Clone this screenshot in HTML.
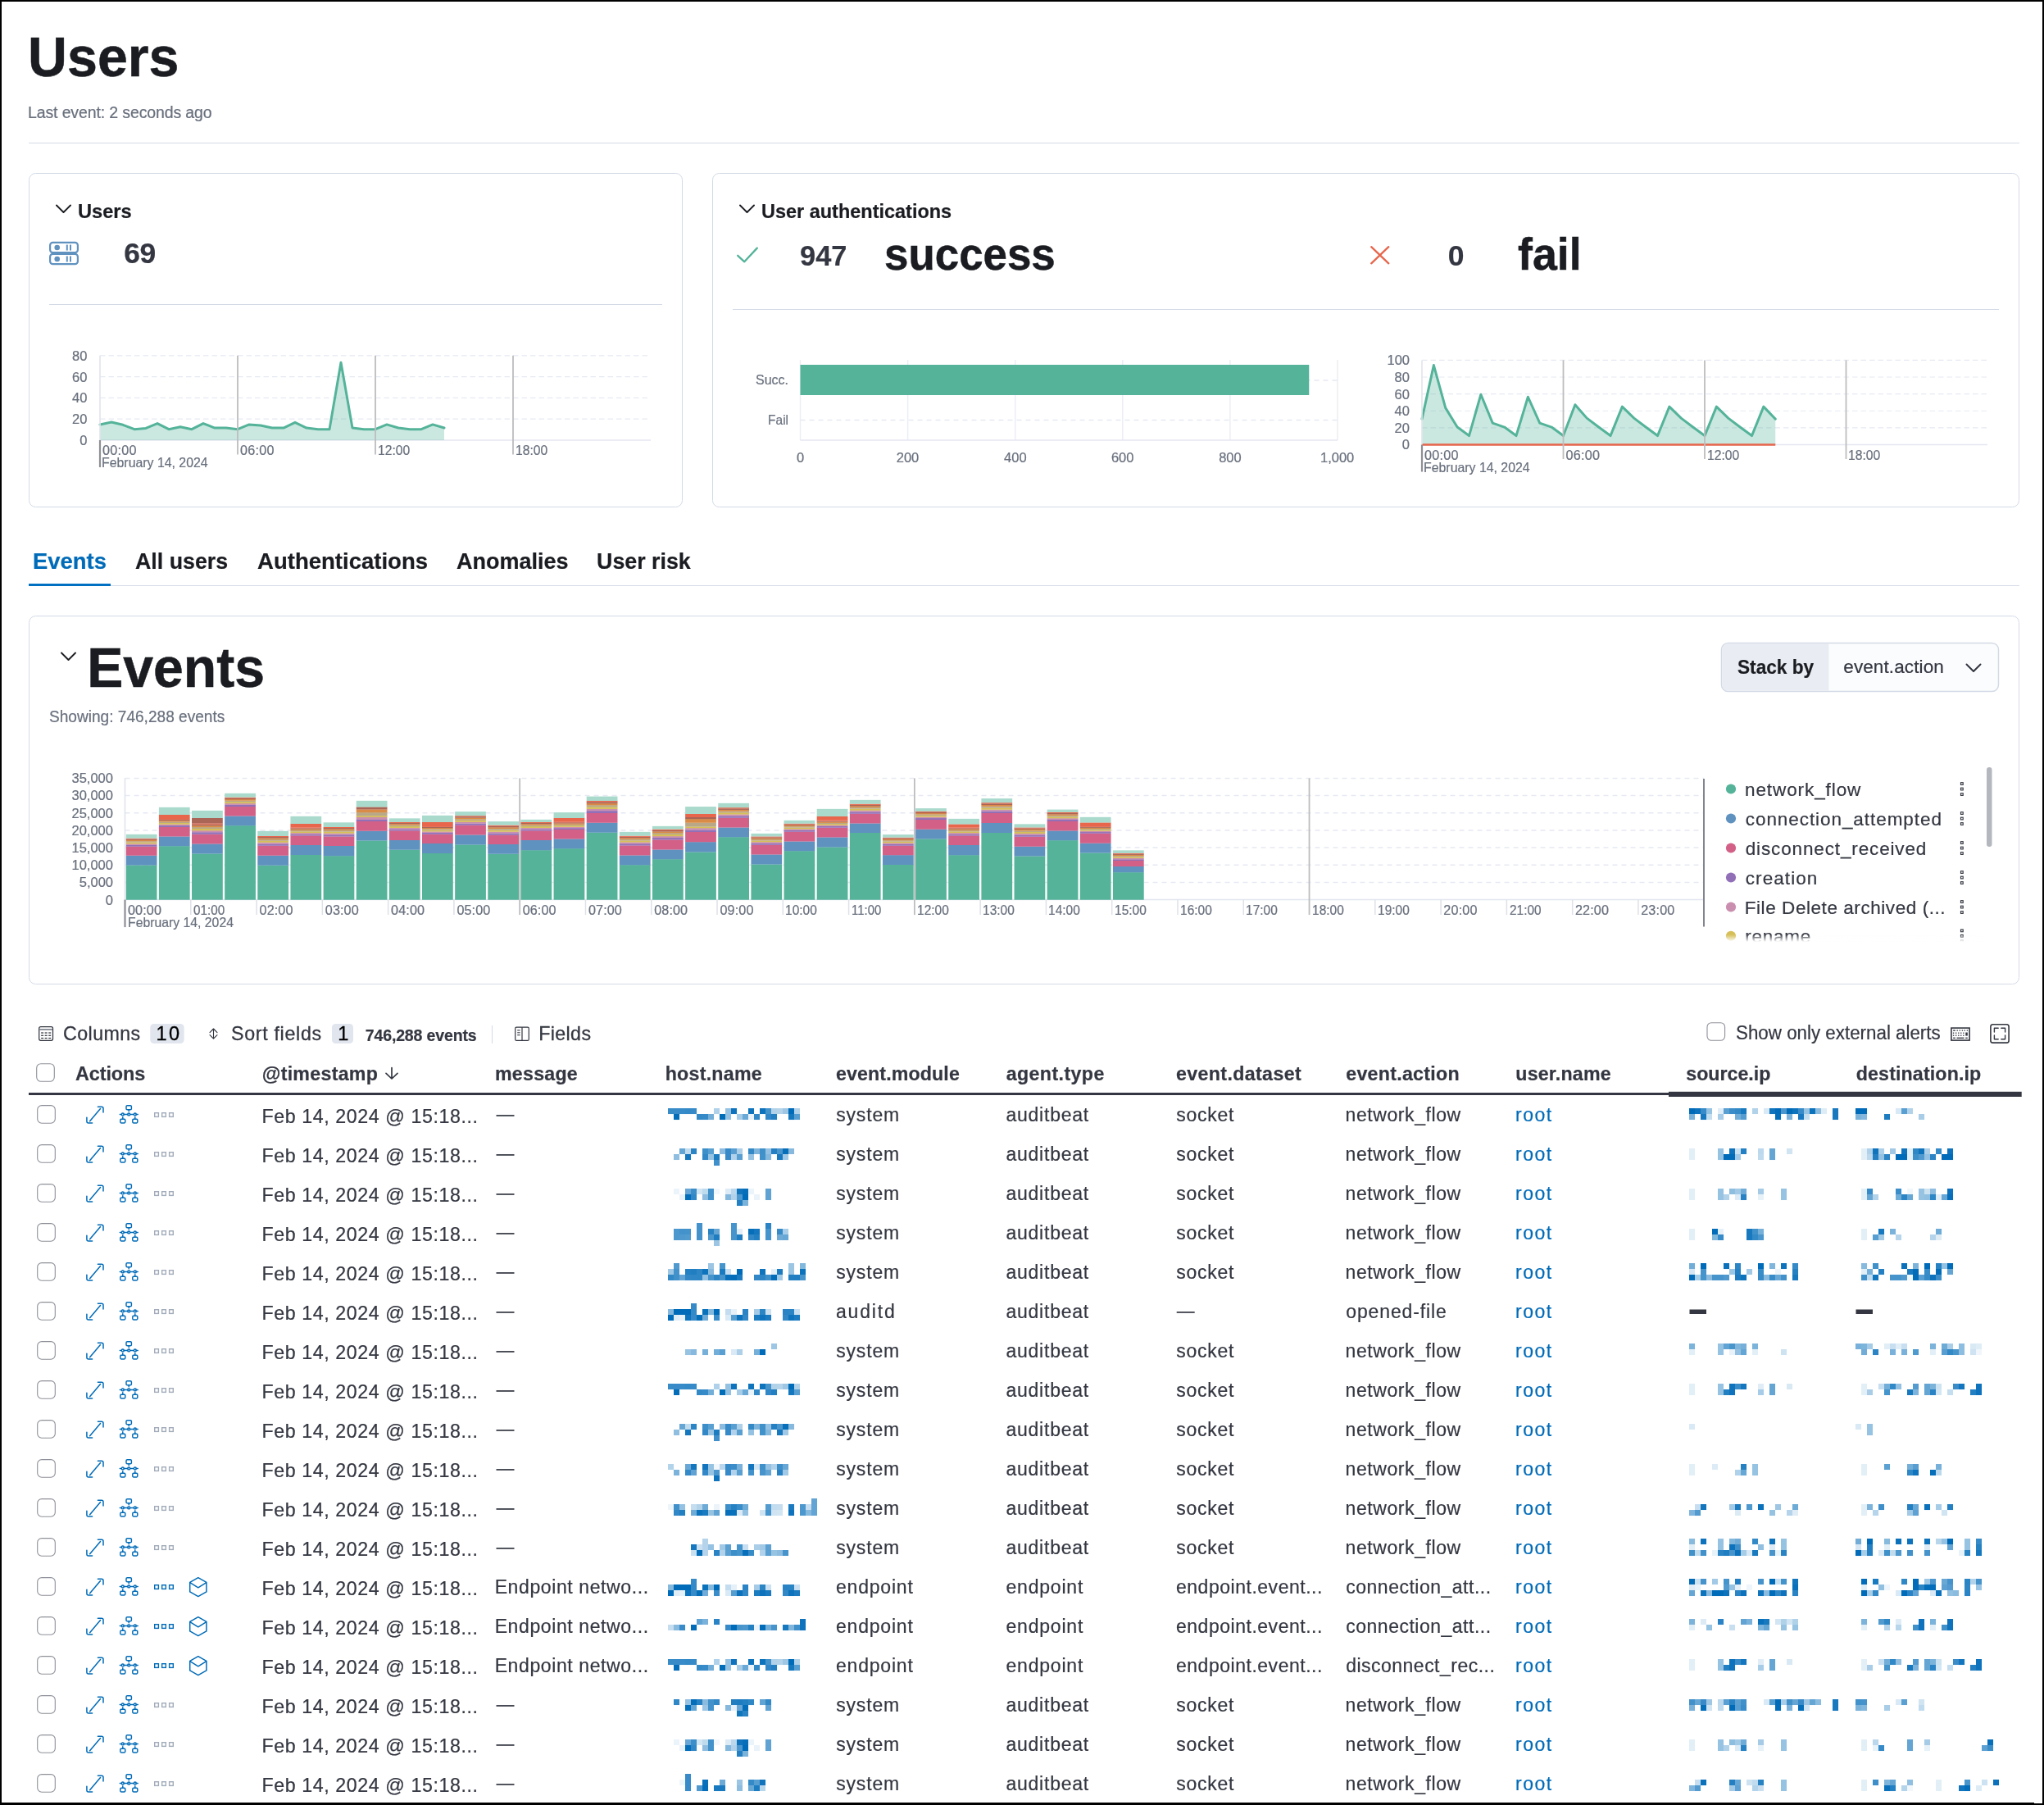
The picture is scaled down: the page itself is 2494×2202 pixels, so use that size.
<!DOCTYPE html>
<html lang="en"><head><meta charset="utf-8"><title>Users - Elastic Security</title>
<style>
html,body{margin:0;padding:0;background:#fff;}
body{width:2494px;height:2202px;overflow:hidden;position:relative;font-family:"Liberation Sans",Arial,sans-serif;}
#frame{position:absolute;left:0;top:0;width:2490px;height:2197px;border:2px solid #000;border-bottom-width:3px;z-index:5;pointer-events:none;}
#notch{position:absolute;left:2482px;top:2199px;width:10px;height:1px;background:#fff;z-index:6;}
.gfx{position:absolute;left:0;top:0;}
#txt{position:absolute;left:0;top:0;width:2494px;height:2202px;will-change:transform;}
.t{position:absolute;display:block;margin:0;padding:0;font-weight:400;text-decoration:none;white-space:nowrap;line-height:1;font-kerning:normal;-webkit-text-stroke:0.22px;}
</style></head><body>
<svg class="gfx" width="2494" height="2202" viewBox="0 0 2494 2202"><rect x="35.00" y="174.00" width="2429.00" height="1.00" fill="#d3dae6" />
<rect x="35.5" y="211.5" width="797.0" height="407.0" rx="8" fill="#fff" stroke="#d3dae6" stroke-width="1"/>
<path d="M69.0 250.5 L77.5 259.0 L86.0 250.5" stroke="#1a1c21" stroke-width="1.9" fill="none" stroke-linecap="round" stroke-linejoin="round"/>
<rect x="61.10" y="295.90" width="33.80" height="12.3" rx="3.4" fill="none" stroke="#6092c0" stroke-width="2.2"/>
<circle cx="69.70" cy="302.05" r="3.3" fill="#6092c0"/>
<rect x="80.80" y="298.55" width="2.00" height="7.00" fill="#6092c0" />
<rect x="85.00" y="298.55" width="2.00" height="7.00" fill="#6092c0" />
<rect x="61.10" y="309.80" width="33.80" height="12.3" rx="3.4" fill="none" stroke="#6092c0" stroke-width="2.2"/>
<circle cx="69.70" cy="315.95" r="3.3" fill="#6092c0"/>
<rect x="80.80" y="312.45" width="2.00" height="7.00" fill="#6092c0" />
<rect x="85.00" y="312.45" width="2.00" height="7.00" fill="#6092c0" />
<rect x="60.00" y="371.00" width="748.00" height="1.00" fill="#d3dae6" />
<line x1="122.00" y1="511.20" x2="794.00" y2="511.20" stroke="#e6e9f2" stroke-width="1.2" stroke-dasharray="6.5 4"/>
<line x1="122.00" y1="485.40" x2="794.00" y2="485.40" stroke="#e6e9f2" stroke-width="1.2" stroke-dasharray="6.5 4"/>
<line x1="122.00" y1="459.60" x2="794.00" y2="459.60" stroke="#e6e9f2" stroke-width="1.2" stroke-dasharray="6.5 4"/>
<line x1="122.00" y1="433.80" x2="794.00" y2="433.80" stroke="#e6e9f2" stroke-width="1.2" stroke-dasharray="6.5 4"/>
<line x1="122.00" y1="537.00" x2="794.00" y2="537.00" stroke="#e4e6f0" stroke-width="1.5" />
<path d="M122.00 517.91 L136.00 515.07 L150.00 518.29 L164.00 523.71 L178.00 522.42 L192.00 516.62 L206.00 523.71 L220.00 520.75 L234.00 523.71 L248.00 516.62 L262.00 522.04 L276.00 522.04 L290.00 523.71 L304.00 517.91 L318.00 519.07 L332.00 522.04 L346.00 522.04 L360.00 515.33 L374.00 522.04 L388.00 523.71 L402.00 523.71 L416.00 442.19 L430.00 522.04 L444.00 523.71 L458.00 523.71 L472.00 517.91 L486.00 522.04 L500.00 523.71 L514.00 523.71 L528.00 517.91 L542.00 522.04 L542.00 537 L122 537 Z" stroke="none" stroke-width="1" fill="#54b399" fill-opacity="0.3"/>
<path d="M122.00 517.91 L136.00 515.07 L150.00 518.29 L164.00 523.71 L178.00 522.42 L192.00 516.62 L206.00 523.71 L220.00 520.75 L234.00 523.71 L248.00 516.62 L262.00 522.04 L276.00 522.04 L290.00 523.71 L304.00 517.91 L318.00 519.07 L332.00 522.04 L346.00 522.04 L360.00 515.33 L374.00 522.04 L388.00 523.71 L402.00 523.71 L416.00 442.19 L430.00 522.04 L444.00 523.71 L458.00 523.71 L472.00 517.91 L486.00 522.04 L500.00 523.71 L514.00 523.71 L528.00 517.91 L542.00 522.04" stroke="#54b399" stroke-width="3.0" fill="none" stroke-linejoin="round" stroke-linecap="round"/>
<line x1="122.00" y1="433.80" x2="122.00" y2="537.00" stroke="#e1e4ec" stroke-width="1.6" />
<line x1="122.00" y1="537.00" x2="122.00" y2="570.00" stroke="#8d8f94" stroke-width="2.2" />
<line x1="290.00" y1="433.80" x2="290.00" y2="554.50" stroke="#bdbdbf" stroke-width="1.8" />
<line x1="458.00" y1="433.80" x2="458.00" y2="554.50" stroke="#bdbdbf" stroke-width="1.8" />
<line x1="626.00" y1="433.80" x2="626.00" y2="554.50" stroke="#bdbdbf" stroke-width="1.8" />
<rect x="869.5" y="211.5" width="1594.0" height="407.0" rx="8" fill="#fff" stroke="#d3dae6" stroke-width="1"/>
<path d="M903.0 250.5 L911.5 259.0 L920.0 250.5" stroke="#1a1c21" stroke-width="1.9" fill="none" stroke-linecap="round" stroke-linejoin="round"/>
<path d="M900.2 311.8 L908.3 319.3 L923.8 302.6" stroke="#54b399" stroke-width="2.3" fill="none" stroke-linecap="round" stroke-linejoin="round"/>
<path d="M1673.2 301.2 L1694.3 321.3 M1694.3 301.2 L1673.2 321.3" stroke="#e7664c" stroke-width="2.3" fill="none" stroke-linecap="round"/>
<rect x="894.00" y="377.00" width="1545.00" height="1.00" fill="#d3dae6" />
<line x1="976.50" y1="439.00" x2="976.50" y2="537.00" stroke="#eceef5" stroke-width="1.5" />
<line x1="1107.60" y1="439.00" x2="1107.60" y2="537.00" stroke="#eceef5" stroke-width="1.5" />
<line x1="1238.70" y1="439.00" x2="1238.70" y2="537.00" stroke="#eceef5" stroke-width="1.5" />
<line x1="1369.80" y1="439.00" x2="1369.80" y2="537.00" stroke="#eceef5" stroke-width="1.5" />
<line x1="1500.90" y1="439.00" x2="1500.90" y2="537.00" stroke="#eceef5" stroke-width="1.5" />
<line x1="1632.00" y1="439.00" x2="1632.00" y2="537.00" stroke="#eceef5" stroke-width="1.5" />
<line x1="976.50" y1="537.00" x2="1632.00" y2="537.00" stroke="#e4e6f0" stroke-width="1.5" />
<line x1="976.50" y1="464.00" x2="1632.00" y2="464.00" stroke="#e6e9f2" stroke-width="1.5" stroke-dasharray="6 5"/>
<line x1="976.50" y1="512.50" x2="1632.00" y2="512.50" stroke="#e6e9f2" stroke-width="1.5" stroke-dasharray="6 5"/>
<rect x="976.50" y="445.00" width="620.76" height="37.00" fill="#54b399" />
<line x1="1735.00" y1="521.88" x2="2425.00" y2="521.88" stroke="#e6e9f2" stroke-width="1.2" stroke-dasharray="6.5 4"/>
<line x1="1735.00" y1="501.26" x2="2425.00" y2="501.26" stroke="#e6e9f2" stroke-width="1.2" stroke-dasharray="6.5 4"/>
<line x1="1735.00" y1="480.64" x2="2425.00" y2="480.64" stroke="#e6e9f2" stroke-width="1.2" stroke-dasharray="6.5 4"/>
<line x1="1735.00" y1="460.02" x2="2425.00" y2="460.02" stroke="#e6e9f2" stroke-width="1.2" stroke-dasharray="6.5 4"/>
<line x1="1735.00" y1="439.40" x2="2425.00" y2="439.40" stroke="#e6e9f2" stroke-width="1.2" stroke-dasharray="6.5 4"/>
<line x1="1735.00" y1="542.50" x2="2425.00" y2="542.50" stroke="#e4e6f0" stroke-width="1.5" />
<path d="M1735.00 511.16 L1749.38 445.59 L1763.75 497.65 L1778.12 521.06 L1792.50 531.57 L1806.88 481.26 L1821.25 516.11 L1835.62 521.06 L1850.00 531.57 L1864.38 484.25 L1878.75 516.11 L1893.12 521.06 L1907.50 531.57 L1921.88 493.73 L1936.25 510.13 L1950.62 521.06 L1965.00 531.57 L1979.38 496.11 L1993.75 510.13 L2008.12 521.06 L2022.50 531.57 L2036.88 496.11 L2051.25 510.13 L2065.62 521.06 L2080.00 531.57 L2094.38 496.11 L2108.75 510.13 L2123.12 521.06 L2137.50 531.57 L2151.88 496.11 L2166.25 511.16 L2166.25 542.5 L1735 542.5 Z" stroke="none" stroke-width="1" fill="#54b399" fill-opacity="0.3"/>
<path d="M1735.00 511.16 L1749.38 445.59 L1763.75 497.65 L1778.12 521.06 L1792.50 531.57 L1806.88 481.26 L1821.25 516.11 L1835.62 521.06 L1850.00 531.57 L1864.38 484.25 L1878.75 516.11 L1893.12 521.06 L1907.50 531.57 L1921.88 493.73 L1936.25 510.13 L1950.62 521.06 L1965.00 531.57 L1979.38 496.11 L1993.75 510.13 L2008.12 521.06 L2022.50 531.57 L2036.88 496.11 L2051.25 510.13 L2065.62 521.06 L2080.00 531.57 L2094.38 496.11 L2108.75 510.13 L2123.12 521.06 L2137.50 531.57 L2151.88 496.11 L2166.25 511.16" stroke="#54b399" stroke-width="3.0" fill="none" stroke-linejoin="round" stroke-linecap="round"/>
<line x1="1735.00" y1="542.50" x2="2166.25" y2="542.50" stroke="#e7664c" stroke-width="2.6" />
<line x1="1735.00" y1="439.40" x2="1735.00" y2="542.50" stroke="#e1e4ec" stroke-width="1.6" />
<line x1="1735.00" y1="542.50" x2="1735.00" y2="575.50" stroke="#8d8f94" stroke-width="2.2" />
<line x1="1907.50" y1="439.40" x2="1907.50" y2="560.00" stroke="#bdbdbf" stroke-width="1.8" />
<line x1="2080.00" y1="439.40" x2="2080.00" y2="560.00" stroke="#bdbdbf" stroke-width="1.8" />
<line x1="2252.50" y1="439.40" x2="2252.50" y2="560.00" stroke="#bdbdbf" stroke-width="1.8" />
<rect x="35.00" y="714.00" width="2429.00" height="1.00" fill="#d3dae6" />
<rect x="35.00" y="712.00" width="100.00" height="3.00" fill="#0071c2" />
<rect x="35.5" y="751.5" width="2428.0" height="449.0" rx="8" fill="#fff" stroke="#d3dae6" stroke-width="1"/>
<path d="M75.0 796.5 L83.5 805.0 L92.0 796.5" stroke="#1a1c21" stroke-width="1.9" fill="none" stroke-linecap="round" stroke-linejoin="round"/>
<rect x="2100.5" y="784.5" width="338" height="59" rx="8" fill="#fbfcfd" stroke="#d3dae6" stroke-width="1.5"/>
<path d="M2108.5 785.2 H2231.5 V842.8 H2108.5 A7.3 7.3 0 0 1 2101.2 835.5 V792.5 A7.3 7.3 0 0 1 2108.5 785.2 Z" fill="#e9edf3"/>
<path d="M2399.5 810.5 L2408.0 819.0 L2416.5 810.5" stroke="#343741" stroke-width="2.0" fill="none" stroke-linecap="round" stroke-linejoin="round"/>
<line x1="152.50" y1="1076.43" x2="2079.00" y2="1076.43" stroke="#e6e9f2" stroke-width="1.5" stroke-dasharray="6 5"/>
<line x1="152.50" y1="1055.26" x2="2079.00" y2="1055.26" stroke="#e6e9f2" stroke-width="1.5" stroke-dasharray="6 5"/>
<line x1="152.50" y1="1034.09" x2="2079.00" y2="1034.09" stroke="#e6e9f2" stroke-width="1.5" stroke-dasharray="6 5"/>
<line x1="152.50" y1="1012.91" x2="2079.00" y2="1012.91" stroke="#e6e9f2" stroke-width="1.5" stroke-dasharray="6 5"/>
<line x1="152.50" y1="991.74" x2="2079.00" y2="991.74" stroke="#e6e9f2" stroke-width="1.5" stroke-dasharray="6 5"/>
<line x1="152.50" y1="970.57" x2="2079.00" y2="970.57" stroke="#e6e9f2" stroke-width="1.5" stroke-dasharray="6 5"/>
<line x1="152.50" y1="949.40" x2="2079.00" y2="949.40" stroke="#e6e9f2" stroke-width="1.5" stroke-dasharray="6 5"/>
<line x1="152.50" y1="1097.60" x2="2079.00" y2="1097.60" stroke="#e4e6f0" stroke-width="1.5" />
<rect x="153.75" y="1055.35" width="37.75" height="42.40" fill="#54b399" />
<rect x="153.75" y="1043.60" width="37.75" height="11.90" fill="#6092c0" />
<rect x="153.75" y="1032.60" width="37.75" height="11.15" fill="#d36086" />
<rect x="153.75" y="1030.75" width="37.75" height="2.00" fill="#9170b8" />
<rect x="153.75" y="1029.22" width="37.75" height="1.69" fill="#ca8eae" />
<rect x="153.75" y="1027.52" width="37.75" height="1.84" fill="#d6bf57" />
<rect x="153.75" y="1026.14" width="37.75" height="1.53" fill="#b9a888" />
<rect x="153.75" y="1024.75" width="37.75" height="1.53" fill="#da8b45" />
<rect x="153.75" y="1023.52" width="37.75" height="1.38" fill="#aa6556" />
<rect x="153.75" y="1022.60" width="37.75" height="1.07" fill="#e7664c" />
<rect x="153.75" y="1017.85" width="37.75" height="4.90" fill="#a9dacc" />
<rect x="193.89" y="1032.10" width="37.75" height="65.65" fill="#54b399" />
<rect x="193.89" y="1020.35" width="37.75" height="11.90" fill="#6092c0" />
<rect x="193.89" y="1008.85" width="37.75" height="11.65" fill="#d36086" />
<rect x="193.89" y="1007.05" width="37.75" height="1.95" fill="#9170b8" />
<rect x="193.89" y="1005.55" width="37.75" height="1.65" fill="#ca8eae" />
<rect x="193.89" y="1003.90" width="37.75" height="1.80" fill="#d6bf57" />
<rect x="193.89" y="1002.55" width="37.75" height="1.50" fill="#b9a888" />
<rect x="193.89" y="1001.20" width="37.75" height="1.50" fill="#da8b45" />
<rect x="193.89" y="1000.00" width="37.75" height="1.35" fill="#aa6556" />
<rect x="193.89" y="999.10" width="37.75" height="1.05" fill="#e7664c" />
<rect x="193.89" y="993.85" width="37.75" height="5.40" fill="#e7664c" />
<rect x="193.89" y="984.85" width="37.75" height="9.15" fill="#a9dacc" />
<rect x="234.03" y="1041.35" width="37.75" height="56.40" fill="#54b399" />
<rect x="234.03" y="1029.35" width="37.75" height="12.15" fill="#6092c0" />
<rect x="234.03" y="1017.60" width="37.75" height="11.90" fill="#d36086" />
<rect x="234.03" y="1015.15" width="37.75" height="2.60" fill="#9170b8" />
<rect x="234.03" y="1013.12" width="37.75" height="2.19" fill="#ca8eae" />
<rect x="234.03" y="1010.87" width="37.75" height="2.39" fill="#d6bf57" />
<rect x="234.03" y="1009.04" width="37.75" height="1.98" fill="#b9a888" />
<rect x="234.03" y="1007.20" width="37.75" height="1.98" fill="#da8b45" />
<rect x="234.03" y="1005.57" width="37.75" height="1.78" fill="#aa6556" />
<rect x="234.03" y="1004.35" width="37.75" height="1.37" fill="#e7664c" />
<rect x="234.03" y="997.85" width="37.75" height="6.65" fill="#aa6556" />
<rect x="234.03" y="988.85" width="37.75" height="9.15" fill="#a9dacc" />
<rect x="274.17" y="1007.10" width="37.75" height="90.65" fill="#54b399" />
<rect x="274.17" y="995.35" width="37.75" height="11.90" fill="#6092c0" />
<rect x="274.17" y="983.85" width="37.75" height="11.65" fill="#d36086" />
<rect x="274.17" y="981.77" width="37.75" height="2.23" fill="#9170b8" />
<rect x="274.17" y="980.04" width="37.75" height="1.88" fill="#ca8eae" />
<rect x="274.17" y="978.14" width="37.75" height="2.05" fill="#d6bf57" />
<rect x="274.17" y="976.58" width="37.75" height="1.71" fill="#b9a888" />
<rect x="274.17" y="975.02" width="37.75" height="1.71" fill="#da8b45" />
<rect x="274.17" y="973.64" width="37.75" height="1.53" fill="#aa6556" />
<rect x="274.17" y="972.60" width="37.75" height="1.19" fill="#e7664c" />
<rect x="274.17" y="967.85" width="37.75" height="4.90" fill="#a9dacc" />
<rect x="314.31" y="1055.60" width="37.75" height="42.15" fill="#54b399" />
<rect x="314.31" y="1043.60" width="37.75" height="12.15" fill="#6092c0" />
<rect x="314.31" y="1031.60" width="37.75" height="12.15" fill="#d36086" />
<rect x="314.31" y="1029.43" width="37.75" height="2.32" fill="#9170b8" />
<rect x="314.31" y="1027.62" width="37.75" height="1.96" fill="#ca8eae" />
<rect x="314.31" y="1025.63" width="37.75" height="2.14" fill="#d6bf57" />
<rect x="314.31" y="1024.01" width="37.75" height="1.78" fill="#b9a888" />
<rect x="314.31" y="1022.38" width="37.75" height="1.78" fill="#da8b45" />
<rect x="314.31" y="1020.93" width="37.75" height="1.60" fill="#aa6556" />
<rect x="314.31" y="1019.85" width="37.75" height="1.23" fill="#e7664c" />
<rect x="314.31" y="1013.85" width="37.75" height="6.15" fill="#a9dacc" />
<rect x="354.45" y="1042.85" width="37.75" height="54.90" fill="#54b399" />
<rect x="354.45" y="1030.85" width="37.75" height="12.15" fill="#6092c0" />
<rect x="354.45" y="1019.35" width="37.75" height="11.65" fill="#d36086" />
<rect x="354.45" y="1017.50" width="37.75" height="2.00" fill="#9170b8" />
<rect x="354.45" y="1015.97" width="37.75" height="1.69" fill="#ca8eae" />
<rect x="354.45" y="1014.27" width="37.75" height="1.84" fill="#d6bf57" />
<rect x="354.45" y="1012.89" width="37.75" height="1.53" fill="#b9a888" />
<rect x="354.45" y="1011.50" width="37.75" height="1.53" fill="#da8b45" />
<rect x="354.45" y="1010.27" width="37.75" height="1.38" fill="#aa6556" />
<rect x="354.45" y="1009.35" width="37.75" height="1.07" fill="#e7664c" />
<rect x="354.45" y="1004.85" width="37.75" height="4.65" fill="#e7664c" />
<rect x="354.45" y="995.85" width="37.75" height="9.15" fill="#a9dacc" />
<rect x="394.59" y="1044.10" width="37.75" height="53.65" fill="#54b399" />
<rect x="394.59" y="1031.85" width="37.75" height="12.40" fill="#6092c0" />
<rect x="394.59" y="1020.35" width="37.75" height="11.65" fill="#d36086" />
<rect x="394.59" y="1018.23" width="37.75" height="2.27" fill="#9170b8" />
<rect x="394.59" y="1016.46" width="37.75" height="1.92" fill="#ca8eae" />
<rect x="394.59" y="1014.51" width="37.75" height="2.10" fill="#d6bf57" />
<rect x="394.59" y="1012.92" width="37.75" height="1.74" fill="#b9a888" />
<rect x="394.59" y="1011.33" width="37.75" height="1.74" fill="#da8b45" />
<rect x="394.59" y="1009.91" width="37.75" height="1.57" fill="#aa6556" />
<rect x="394.59" y="1008.85" width="37.75" height="1.21" fill="#e7664c" />
<rect x="394.59" y="1003.35" width="37.75" height="5.65" fill="#a9dacc" />
<rect x="434.73" y="1025.35" width="37.75" height="72.40" fill="#54b399" />
<rect x="434.73" y="1013.60" width="37.75" height="11.90" fill="#6092c0" />
<rect x="434.73" y="1001.85" width="37.75" height="11.90" fill="#d36086" />
<rect x="434.73" y="999.85" width="37.75" height="2.15" fill="#9170b8" />
<rect x="434.73" y="996.85" width="37.75" height="3.15" fill="#ca8eae" />
<rect x="434.73" y="995.10" width="37.75" height="1.90" fill="#d6bf57" />
<rect x="434.73" y="991.10" width="37.75" height="4.15" fill="#b9a888" />
<rect x="434.73" y="987.35" width="37.75" height="3.90" fill="#da8b45" />
<rect x="434.73" y="984.35" width="37.75" height="3.15" fill="#aa6556" />
<rect x="434.73" y="976.85" width="37.75" height="7.65" fill="#a9dacc" />
<rect x="474.87" y="1036.60" width="37.75" height="61.15" fill="#54b399" />
<rect x="474.87" y="1024.85" width="37.75" height="11.90" fill="#6092c0" />
<rect x="474.87" y="1013.35" width="37.75" height="11.65" fill="#d36086" />
<rect x="474.87" y="1011.41" width="37.75" height="2.09" fill="#9170b8" />
<rect x="474.87" y="1009.80" width="37.75" height="1.77" fill="#ca8eae" />
<rect x="474.87" y="1008.02" width="37.75" height="1.93" fill="#d6bf57" />
<rect x="474.87" y="1006.57" width="37.75" height="1.60" fill="#b9a888" />
<rect x="474.87" y="1005.11" width="37.75" height="1.60" fill="#da8b45" />
<rect x="474.87" y="1003.82" width="37.75" height="1.44" fill="#aa6556" />
<rect x="474.87" y="1002.85" width="37.75" height="1.12" fill="#e7664c" />
<rect x="474.87" y="998.35" width="37.75" height="4.65" fill="#a9dacc" />
<rect x="515.01" y="1040.85" width="37.75" height="56.90" fill="#54b399" />
<rect x="515.01" y="1028.85" width="37.75" height="12.15" fill="#6092c0" />
<rect x="515.01" y="1017.60" width="37.75" height="11.40" fill="#d36086" />
<rect x="515.01" y="1015.80" width="37.75" height="1.95" fill="#9170b8" />
<rect x="515.01" y="1014.30" width="37.75" height="1.65" fill="#ca8eae" />
<rect x="515.01" y="1012.65" width="37.75" height="1.80" fill="#d6bf57" />
<rect x="515.01" y="1011.30" width="37.75" height="1.50" fill="#b9a888" />
<rect x="515.01" y="1009.95" width="37.75" height="1.50" fill="#da8b45" />
<rect x="515.01" y="1008.75" width="37.75" height="1.35" fill="#aa6556" />
<rect x="515.01" y="1007.85" width="37.75" height="1.05" fill="#e7664c" />
<rect x="515.01" y="1002.85" width="37.75" height="5.15" fill="#e7664c" />
<rect x="515.01" y="994.85" width="37.75" height="8.15" fill="#a9dacc" />
<rect x="555.15" y="1030.35" width="37.75" height="67.40" fill="#54b399" />
<rect x="555.15" y="1018.35" width="37.75" height="12.15" fill="#6092c0" />
<rect x="555.15" y="1006.60" width="37.75" height="11.90" fill="#d36086" />
<rect x="555.15" y="1004.48" width="37.75" height="2.27" fill="#9170b8" />
<rect x="555.15" y="1002.71" width="37.75" height="1.92" fill="#ca8eae" />
<rect x="555.15" y="1000.76" width="37.75" height="2.10" fill="#d6bf57" />
<rect x="555.15" y="999.17" width="37.75" height="1.74" fill="#b9a888" />
<rect x="555.15" y="997.58" width="37.75" height="1.74" fill="#da8b45" />
<rect x="555.15" y="996.16" width="37.75" height="1.57" fill="#aa6556" />
<rect x="555.15" y="995.10" width="37.75" height="1.21" fill="#e7664c" />
<rect x="555.15" y="990.10" width="37.75" height="5.15" fill="#a9dacc" />
<rect x="595.29" y="1041.60" width="37.75" height="56.15" fill="#54b399" />
<rect x="595.29" y="1029.85" width="37.75" height="11.90" fill="#6092c0" />
<rect x="595.29" y="1018.60" width="37.75" height="11.40" fill="#d36086" />
<rect x="595.29" y="1016.38" width="37.75" height="2.37" fill="#9170b8" />
<rect x="595.29" y="1014.54" width="37.75" height="2.00" fill="#ca8eae" />
<rect x="595.29" y="1012.51" width="37.75" height="2.18" fill="#d6bf57" />
<rect x="595.29" y="1010.85" width="37.75" height="1.81" fill="#b9a888" />
<rect x="595.29" y="1009.18" width="37.75" height="1.81" fill="#da8b45" />
<rect x="595.29" y="1007.71" width="37.75" height="1.63" fill="#aa6556" />
<rect x="595.29" y="1006.60" width="37.75" height="1.26" fill="#e7664c" />
<rect x="595.29" y="1002.10" width="37.75" height="4.65" fill="#a9dacc" />
<rect x="635.43" y="1037.10" width="37.75" height="60.65" fill="#54b399" />
<rect x="635.43" y="1024.85" width="37.75" height="12.40" fill="#6092c0" />
<rect x="635.43" y="1013.35" width="37.75" height="11.65" fill="#d36086" />
<rect x="635.43" y="1011.41" width="37.75" height="2.09" fill="#9170b8" />
<rect x="635.43" y="1009.80" width="37.75" height="1.77" fill="#ca8eae" />
<rect x="635.43" y="1008.02" width="37.75" height="1.93" fill="#d6bf57" />
<rect x="635.43" y="1006.57" width="37.75" height="1.60" fill="#b9a888" />
<rect x="635.43" y="1005.11" width="37.75" height="1.60" fill="#da8b45" />
<rect x="635.43" y="1003.82" width="37.75" height="1.44" fill="#aa6556" />
<rect x="635.43" y="1002.85" width="37.75" height="1.12" fill="#e7664c" />
<rect x="635.43" y="999.85" width="37.75" height="3.15" fill="#a9dacc" />
<rect x="675.57" y="1035.10" width="37.75" height="62.65" fill="#54b399" />
<rect x="675.57" y="1023.35" width="37.75" height="11.90" fill="#6092c0" />
<rect x="675.57" y="1011.85" width="37.75" height="11.65" fill="#d36086" />
<rect x="675.57" y="1010.10" width="37.75" height="1.90" fill="#9170b8" />
<rect x="675.57" y="1008.63" width="37.75" height="1.61" fill="#ca8eae" />
<rect x="675.57" y="1007.03" width="37.75" height="1.76" fill="#d6bf57" />
<rect x="675.57" y="1005.71" width="37.75" height="1.47" fill="#b9a888" />
<rect x="675.57" y="1004.40" width="37.75" height="1.47" fill="#da8b45" />
<rect x="675.57" y="1003.23" width="37.75" height="1.32" fill="#aa6556" />
<rect x="675.57" y="1002.35" width="37.75" height="1.03" fill="#e7664c" />
<rect x="675.57" y="997.85" width="37.75" height="4.65" fill="#e7664c" />
<rect x="675.57" y="991.10" width="37.75" height="6.90" fill="#a9dacc" />
<rect x="715.71" y="1015.60" width="37.75" height="82.15" fill="#54b399" />
<rect x="715.71" y="1003.60" width="37.75" height="12.15" fill="#6092c0" />
<rect x="715.71" y="991.85" width="37.75" height="11.90" fill="#d36086" />
<rect x="715.71" y="989.08" width="37.75" height="2.92" fill="#9170b8" />
<rect x="715.71" y="986.77" width="37.75" height="2.46" fill="#ca8eae" />
<rect x="715.71" y="984.23" width="37.75" height="2.69" fill="#d6bf57" />
<rect x="715.71" y="982.16" width="37.75" height="2.23" fill="#b9a888" />
<rect x="715.71" y="980.08" width="37.75" height="2.23" fill="#da8b45" />
<rect x="715.71" y="978.23" width="37.75" height="2.00" fill="#aa6556" />
<rect x="715.71" y="976.85" width="37.75" height="1.53" fill="#e7664c" />
<rect x="715.71" y="971.60" width="37.75" height="5.40" fill="#a9dacc" />
<rect x="755.85" y="1055.10" width="37.75" height="42.65" fill="#54b399" />
<rect x="755.85" y="1043.35" width="37.75" height="11.90" fill="#6092c0" />
<rect x="755.85" y="1031.35" width="37.75" height="12.15" fill="#d36086" />
<rect x="755.85" y="1029.18" width="37.75" height="2.32" fill="#9170b8" />
<rect x="755.85" y="1027.37" width="37.75" height="1.96" fill="#ca8eae" />
<rect x="755.85" y="1025.38" width="37.75" height="2.14" fill="#d6bf57" />
<rect x="755.85" y="1023.76" width="37.75" height="1.78" fill="#b9a888" />
<rect x="755.85" y="1022.13" width="37.75" height="1.78" fill="#da8b45" />
<rect x="755.85" y="1020.68" width="37.75" height="1.60" fill="#aa6556" />
<rect x="755.85" y="1019.60" width="37.75" height="1.23" fill="#e7664c" />
<rect x="755.85" y="1014.85" width="37.75" height="4.90" fill="#a9dacc" />
<rect x="795.99" y="1048.10" width="37.75" height="49.65" fill="#54b399" />
<rect x="795.99" y="1036.35" width="37.75" height="11.90" fill="#6092c0" />
<rect x="795.99" y="1024.35" width="37.75" height="12.15" fill="#d36086" />
<rect x="795.99" y="1022.00" width="37.75" height="2.50" fill="#9170b8" />
<rect x="795.99" y="1020.03" width="37.75" height="2.11" fill="#ca8eae" />
<rect x="795.99" y="1017.88" width="37.75" height="2.31" fill="#d6bf57" />
<rect x="795.99" y="1016.11" width="37.75" height="1.92" fill="#b9a888" />
<rect x="795.99" y="1014.35" width="37.75" height="1.92" fill="#da8b45" />
<rect x="795.99" y="1012.78" width="37.75" height="1.72" fill="#aa6556" />
<rect x="795.99" y="1011.60" width="37.75" height="1.33" fill="#e7664c" />
<rect x="795.99" y="1007.85" width="37.75" height="3.90" fill="#a9dacc" />
<rect x="836.13" y="1039.35" width="37.75" height="58.40" fill="#54b399" />
<rect x="836.13" y="1027.10" width="37.75" height="12.40" fill="#6092c0" />
<rect x="836.13" y="1014.85" width="37.75" height="12.40" fill="#d36086" />
<rect x="836.13" y="1012.35" width="37.75" height="2.65" fill="#9170b8" />
<rect x="836.13" y="1010.10" width="37.75" height="2.40" fill="#ca8eae" />
<rect x="836.13" y="1008.35" width="37.75" height="1.90" fill="#d6bf57" />
<rect x="836.13" y="1003.60" width="37.75" height="4.90" fill="#b9a888" />
<rect x="836.13" y="999.10" width="37.75" height="4.65" fill="#da8b45" />
<rect x="836.13" y="996.85" width="37.75" height="2.40" fill="#aa6556" />
<rect x="836.13" y="992.85" width="37.75" height="4.15" fill="#e7664c" />
<rect x="836.13" y="984.10" width="37.75" height="8.90" fill="#a9dacc" />
<rect x="876.27" y="1021.10" width="37.75" height="76.65" fill="#54b399" />
<rect x="876.27" y="1009.35" width="37.75" height="11.90" fill="#6092c0" />
<rect x="876.27" y="997.60" width="37.75" height="11.90" fill="#d36086" />
<rect x="876.27" y="995.29" width="37.75" height="2.46" fill="#9170b8" />
<rect x="876.27" y="993.37" width="37.75" height="2.07" fill="#ca8eae" />
<rect x="876.27" y="991.25" width="37.75" height="2.27" fill="#d6bf57" />
<rect x="876.27" y="989.52" width="37.75" height="1.88" fill="#b9a888" />
<rect x="876.27" y="987.79" width="37.75" height="1.88" fill="#da8b45" />
<rect x="876.27" y="986.25" width="37.75" height="1.69" fill="#aa6556" />
<rect x="876.27" y="985.10" width="37.75" height="1.30" fill="#e7664c" />
<rect x="876.27" y="979.85" width="37.75" height="5.40" fill="#a9dacc" />
<rect x="916.41" y="1054.35" width="37.75" height="43.40" fill="#54b399" />
<rect x="916.41" y="1042.35" width="37.75" height="12.15" fill="#6092c0" />
<rect x="916.41" y="1030.60" width="37.75" height="11.90" fill="#d36086" />
<rect x="916.41" y="1028.71" width="37.75" height="2.04" fill="#9170b8" />
<rect x="916.41" y="1027.13" width="37.75" height="1.73" fill="#ca8eae" />
<rect x="916.41" y="1025.40" width="37.75" height="1.88" fill="#d6bf57" />
<rect x="916.41" y="1023.98" width="37.75" height="1.57" fill="#b9a888" />
<rect x="916.41" y="1022.56" width="37.75" height="1.57" fill="#da8b45" />
<rect x="916.41" y="1021.30" width="37.75" height="1.41" fill="#aa6556" />
<rect x="916.41" y="1020.35" width="37.75" height="1.10" fill="#e7664c" />
<rect x="916.41" y="1016.85" width="37.75" height="3.65" fill="#a9dacc" />
<rect x="956.55" y="1038.10" width="37.75" height="59.65" fill="#54b399" />
<rect x="956.55" y="1026.35" width="37.75" height="11.90" fill="#6092c0" />
<rect x="956.55" y="1014.60" width="37.75" height="11.90" fill="#d36086" />
<rect x="956.55" y="1012.75" width="37.75" height="2.00" fill="#9170b8" />
<rect x="956.55" y="1011.22" width="37.75" height="1.69" fill="#ca8eae" />
<rect x="956.55" y="1009.52" width="37.75" height="1.84" fill="#d6bf57" />
<rect x="956.55" y="1008.14" width="37.75" height="1.53" fill="#b9a888" />
<rect x="956.55" y="1006.75" width="37.75" height="1.53" fill="#da8b45" />
<rect x="956.55" y="1005.52" width="37.75" height="1.38" fill="#aa6556" />
<rect x="956.55" y="1004.60" width="37.75" height="1.07" fill="#e7664c" />
<rect x="956.55" y="1000.85" width="37.75" height="3.90" fill="#a9dacc" />
<rect x="996.69" y="1033.35" width="37.75" height="64.40" fill="#54b399" />
<rect x="996.69" y="1021.35" width="37.75" height="12.15" fill="#6092c0" />
<rect x="996.69" y="1009.60" width="37.75" height="11.90" fill="#d36086" />
<rect x="996.69" y="1007.94" width="37.75" height="1.81" fill="#9170b8" />
<rect x="996.69" y="1006.55" width="37.75" height="1.53" fill="#ca8eae" />
<rect x="996.69" y="1005.03" width="37.75" height="1.67" fill="#d6bf57" />
<rect x="996.69" y="1003.78" width="37.75" height="1.40" fill="#b9a888" />
<rect x="996.69" y="1002.54" width="37.75" height="1.40" fill="#da8b45" />
<rect x="996.69" y="1001.43" width="37.75" height="1.26" fill="#aa6556" />
<rect x="996.69" y="1000.60" width="37.75" height="0.98" fill="#e7664c" />
<rect x="996.69" y="995.85" width="37.75" height="4.90" fill="#e7664c" />
<rect x="996.69" y="986.85" width="37.75" height="9.15" fill="#a9dacc" />
<rect x="1036.83" y="1015.85" width="37.75" height="81.90" fill="#54b399" />
<rect x="1036.83" y="1004.35" width="37.75" height="11.65" fill="#6092c0" />
<rect x="1036.83" y="992.60" width="37.75" height="11.90" fill="#d36086" />
<rect x="1036.83" y="990.38" width="37.75" height="2.37" fill="#9170b8" />
<rect x="1036.83" y="988.54" width="37.75" height="2.00" fill="#ca8eae" />
<rect x="1036.83" y="986.51" width="37.75" height="2.18" fill="#d6bf57" />
<rect x="1036.83" y="984.85" width="37.75" height="1.81" fill="#b9a888" />
<rect x="1036.83" y="983.18" width="37.75" height="1.81" fill="#da8b45" />
<rect x="1036.83" y="981.71" width="37.75" height="1.63" fill="#aa6556" />
<rect x="1036.83" y="980.60" width="37.75" height="1.26" fill="#e7664c" />
<rect x="1036.83" y="975.85" width="37.75" height="4.90" fill="#a9dacc" />
<rect x="1076.97" y="1054.85" width="37.75" height="42.90" fill="#54b399" />
<rect x="1076.97" y="1043.10" width="37.75" height="11.90" fill="#6092c0" />
<rect x="1076.97" y="1031.60" width="37.75" height="11.65" fill="#d36086" />
<rect x="1076.97" y="1029.75" width="37.75" height="2.00" fill="#9170b8" />
<rect x="1076.97" y="1028.22" width="37.75" height="1.69" fill="#ca8eae" />
<rect x="1076.97" y="1026.52" width="37.75" height="1.84" fill="#d6bf57" />
<rect x="1076.97" y="1025.14" width="37.75" height="1.53" fill="#b9a888" />
<rect x="1076.97" y="1023.75" width="37.75" height="1.53" fill="#da8b45" />
<rect x="1076.97" y="1022.52" width="37.75" height="1.38" fill="#aa6556" />
<rect x="1076.97" y="1021.60" width="37.75" height="1.07" fill="#e7664c" />
<rect x="1076.97" y="1018.10" width="37.75" height="3.65" fill="#a9dacc" />
<rect x="1117.11" y="1023.35" width="37.75" height="74.40" fill="#54b399" />
<rect x="1117.11" y="1011.60" width="37.75" height="11.90" fill="#6092c0" />
<rect x="1117.11" y="999.85" width="37.75" height="11.90" fill="#d36086" />
<rect x="1117.11" y="998.00" width="37.75" height="2.00" fill="#9170b8" />
<rect x="1117.11" y="996.47" width="37.75" height="1.69" fill="#ca8eae" />
<rect x="1117.11" y="994.77" width="37.75" height="1.84" fill="#d6bf57" />
<rect x="1117.11" y="993.39" width="37.75" height="1.53" fill="#b9a888" />
<rect x="1117.11" y="992.00" width="37.75" height="1.53" fill="#da8b45" />
<rect x="1117.11" y="990.77" width="37.75" height="1.38" fill="#aa6556" />
<rect x="1117.11" y="989.85" width="37.75" height="1.07" fill="#e7664c" />
<rect x="1117.11" y="986.10" width="37.75" height="3.90" fill="#a9dacc" />
<rect x="1157.25" y="1043.10" width="37.75" height="54.65" fill="#54b399" />
<rect x="1157.25" y="1030.85" width="37.75" height="12.40" fill="#6092c0" />
<rect x="1157.25" y="1019.35" width="37.75" height="11.65" fill="#d36086" />
<rect x="1157.25" y="1017.50" width="37.75" height="2.00" fill="#9170b8" />
<rect x="1157.25" y="1015.97" width="37.75" height="1.69" fill="#ca8eae" />
<rect x="1157.25" y="1014.27" width="37.75" height="1.84" fill="#d6bf57" />
<rect x="1157.25" y="1012.89" width="37.75" height="1.53" fill="#b9a888" />
<rect x="1157.25" y="1011.50" width="37.75" height="1.53" fill="#da8b45" />
<rect x="1157.25" y="1010.27" width="37.75" height="1.38" fill="#aa6556" />
<rect x="1157.25" y="1009.35" width="37.75" height="1.07" fill="#e7664c" />
<rect x="1157.25" y="1005.35" width="37.75" height="4.15" fill="#e7664c" />
<rect x="1157.25" y="998.85" width="37.75" height="6.65" fill="#a9dacc" />
<rect x="1197.39" y="1015.85" width="37.75" height="81.90" fill="#54b399" />
<rect x="1197.39" y="1003.85" width="37.75" height="12.15" fill="#6092c0" />
<rect x="1197.39" y="991.85" width="37.75" height="12.15" fill="#d36086" />
<rect x="1197.39" y="989.50" width="37.75" height="2.50" fill="#9170b8" />
<rect x="1197.39" y="987.53" width="37.75" height="2.11" fill="#ca8eae" />
<rect x="1197.39" y="985.38" width="37.75" height="2.31" fill="#d6bf57" />
<rect x="1197.39" y="983.61" width="37.75" height="1.92" fill="#b9a888" />
<rect x="1197.39" y="981.85" width="37.75" height="1.92" fill="#da8b45" />
<rect x="1197.39" y="980.28" width="37.75" height="1.72" fill="#aa6556" />
<rect x="1197.39" y="979.10" width="37.75" height="1.33" fill="#e7664c" />
<rect x="1197.39" y="974.10" width="37.75" height="5.15" fill="#a9dacc" />
<rect x="1237.53" y="1044.35" width="37.75" height="53.40" fill="#54b399" />
<rect x="1237.53" y="1032.60" width="37.75" height="11.90" fill="#6092c0" />
<rect x="1237.53" y="1020.60" width="37.75" height="12.15" fill="#d36086" />
<rect x="1237.53" y="1018.52" width="37.75" height="2.23" fill="#9170b8" />
<rect x="1237.53" y="1016.79" width="37.75" height="1.88" fill="#ca8eae" />
<rect x="1237.53" y="1014.89" width="37.75" height="2.05" fill="#d6bf57" />
<rect x="1237.53" y="1013.33" width="37.75" height="1.71" fill="#b9a888" />
<rect x="1237.53" y="1011.77" width="37.75" height="1.71" fill="#da8b45" />
<rect x="1237.53" y="1010.39" width="37.75" height="1.53" fill="#aa6556" />
<rect x="1237.53" y="1009.35" width="37.75" height="1.19" fill="#e7664c" />
<rect x="1237.53" y="1005.35" width="37.75" height="4.15" fill="#a9dacc" />
<rect x="1277.67" y="1025.10" width="37.75" height="72.65" fill="#54b399" />
<rect x="1277.67" y="1013.35" width="37.75" height="11.90" fill="#6092c0" />
<rect x="1277.67" y="1001.85" width="37.75" height="11.65" fill="#d36086" />
<rect x="1277.67" y="999.82" width="37.75" height="2.18" fill="#9170b8" />
<rect x="1277.67" y="998.13" width="37.75" height="1.84" fill="#ca8eae" />
<rect x="1277.67" y="996.27" width="37.75" height="2.01" fill="#d6bf57" />
<rect x="1277.67" y="994.74" width="37.75" height="1.67" fill="#b9a888" />
<rect x="1277.67" y="993.22" width="37.75" height="1.67" fill="#da8b45" />
<rect x="1277.67" y="991.87" width="37.75" height="1.50" fill="#aa6556" />
<rect x="1277.67" y="990.85" width="37.75" height="1.17" fill="#e7664c" />
<rect x="1277.67" y="987.60" width="37.75" height="3.40" fill="#a9dacc" />
<rect x="1317.81" y="1040.35" width="37.75" height="57.40" fill="#54b399" />
<rect x="1317.81" y="1028.60" width="37.75" height="11.90" fill="#6092c0" />
<rect x="1317.81" y="1016.60" width="37.75" height="12.15" fill="#d36086" />
<rect x="1317.81" y="1014.98" width="37.75" height="1.77" fill="#9170b8" />
<rect x="1317.81" y="1013.64" width="37.75" height="1.50" fill="#ca8eae" />
<rect x="1317.81" y="1012.16" width="37.75" height="1.63" fill="#d6bf57" />
<rect x="1317.81" y="1010.95" width="37.75" height="1.36" fill="#b9a888" />
<rect x="1317.81" y="1009.73" width="37.75" height="1.36" fill="#da8b45" />
<rect x="1317.81" y="1008.66" width="37.75" height="1.23" fill="#aa6556" />
<rect x="1317.81" y="1007.85" width="37.75" height="0.96" fill="#e7664c" />
<rect x="1317.81" y="1003.35" width="37.75" height="4.65" fill="#e7664c" />
<rect x="1317.81" y="996.85" width="37.75" height="6.65" fill="#a9dacc" />
<rect x="1357.95" y="1064.10" width="37.75" height="33.65" fill="#54b399" />
<rect x="1357.95" y="1056.85" width="37.75" height="7.40" fill="#6092c0" />
<rect x="1357.95" y="1049.85" width="37.75" height="7.15" fill="#d36086" />
<rect x="1357.95" y="1048.19" width="37.75" height="1.81" fill="#9170b8" />
<rect x="1357.95" y="1046.80" width="37.75" height="1.53" fill="#ca8eae" />
<rect x="1357.95" y="1045.28" width="37.75" height="1.67" fill="#d6bf57" />
<rect x="1357.95" y="1044.03" width="37.75" height="1.40" fill="#b9a888" />
<rect x="1357.95" y="1042.79" width="37.75" height="1.40" fill="#da8b45" />
<rect x="1357.95" y="1041.68" width="37.75" height="1.26" fill="#aa6556" />
<rect x="1357.95" y="1040.85" width="37.75" height="0.98" fill="#e7664c" />
<rect x="1357.95" y="1037.35" width="37.75" height="3.65" fill="#a9dacc" />
<line x1="152.50" y1="949.40" x2="152.50" y2="1097.60" stroke="#e1e4ec" stroke-width="1.6" />
<line x1="152.50" y1="1097.60" x2="152.50" y2="1131.10" stroke="#8d8f94" stroke-width="2.2" />
<line x1="232.78" y1="1097.60" x2="232.78" y2="1116.10" stroke="#dfe1e8" stroke-width="1.5" />
<line x1="313.06" y1="1097.60" x2="313.06" y2="1116.10" stroke="#dfe1e8" stroke-width="1.5" />
<line x1="393.34" y1="1097.60" x2="393.34" y2="1116.10" stroke="#dfe1e8" stroke-width="1.5" />
<line x1="473.62" y1="1097.60" x2="473.62" y2="1116.10" stroke="#dfe1e8" stroke-width="1.5" />
<line x1="553.90" y1="1097.60" x2="553.90" y2="1116.10" stroke="#dfe1e8" stroke-width="1.5" />
<line x1="634.18" y1="949.40" x2="634.18" y2="1116.10" stroke="#bdbdbf" stroke-width="1.8" />
<line x1="714.46" y1="1097.60" x2="714.46" y2="1116.10" stroke="#dfe1e8" stroke-width="1.5" />
<line x1="794.74" y1="1097.60" x2="794.74" y2="1116.10" stroke="#dfe1e8" stroke-width="1.5" />
<line x1="875.02" y1="1097.60" x2="875.02" y2="1116.10" stroke="#dfe1e8" stroke-width="1.5" />
<line x1="955.30" y1="1097.60" x2="955.30" y2="1116.10" stroke="#dfe1e8" stroke-width="1.5" />
<line x1="1035.58" y1="1097.60" x2="1035.58" y2="1116.10" stroke="#dfe1e8" stroke-width="1.5" />
<line x1="1115.86" y1="949.40" x2="1115.86" y2="1116.10" stroke="#bdbdbf" stroke-width="1.8" />
<line x1="1196.14" y1="1097.60" x2="1196.14" y2="1116.10" stroke="#dfe1e8" stroke-width="1.5" />
<line x1="1276.42" y1="1097.60" x2="1276.42" y2="1116.10" stroke="#dfe1e8" stroke-width="1.5" />
<line x1="1356.70" y1="1097.60" x2="1356.70" y2="1116.10" stroke="#dfe1e8" stroke-width="1.5" />
<line x1="1436.98" y1="1097.60" x2="1436.98" y2="1116.10" stroke="#dfe1e8" stroke-width="1.5" />
<line x1="1517.26" y1="1097.60" x2="1517.26" y2="1116.10" stroke="#dfe1e8" stroke-width="1.5" />
<line x1="1597.54" y1="949.40" x2="1597.54" y2="1116.10" stroke="#bdbdbf" stroke-width="1.8" />
<line x1="1677.82" y1="1097.60" x2="1677.82" y2="1116.10" stroke="#dfe1e8" stroke-width="1.5" />
<line x1="1758.10" y1="1097.60" x2="1758.10" y2="1116.10" stroke="#dfe1e8" stroke-width="1.5" />
<line x1="1838.38" y1="1097.60" x2="1838.38" y2="1116.10" stroke="#dfe1e8" stroke-width="1.5" />
<line x1="1918.66" y1="1097.60" x2="1918.66" y2="1116.10" stroke="#dfe1e8" stroke-width="1.5" />
<line x1="1998.94" y1="1097.60" x2="1998.94" y2="1116.10" stroke="#dfe1e8" stroke-width="1.5" />
<line x1="2079.00" y1="950.00" x2="2079.00" y2="1130.50" stroke="#80848c" stroke-width="2" />
<circle cx="2112" cy="962.5" r="6.1" fill="#54b399"/>
<rect x="2392.5" y="954.70" width="2.7" height="2.7" fill="none" stroke="#343741" stroke-width="1.15"/>
<rect x="2392.5" y="961.20" width="2.7" height="2.7" fill="none" stroke="#343741" stroke-width="1.15"/>
<rect x="2392.5" y="967.70" width="2.7" height="2.7" fill="none" stroke="#343741" stroke-width="1.15"/>
<circle cx="2112" cy="998.5" r="6.1" fill="#6092c0"/>
<rect x="2392.5" y="990.70" width="2.7" height="2.7" fill="none" stroke="#343741" stroke-width="1.15"/>
<rect x="2392.5" y="997.20" width="2.7" height="2.7" fill="none" stroke="#343741" stroke-width="1.15"/>
<rect x="2392.5" y="1003.70" width="2.7" height="2.7" fill="none" stroke="#343741" stroke-width="1.15"/>
<circle cx="2112" cy="1034.5" r="6.1" fill="#d36086"/>
<rect x="2392.5" y="1026.70" width="2.7" height="2.7" fill="none" stroke="#343741" stroke-width="1.15"/>
<rect x="2392.5" y="1033.20" width="2.7" height="2.7" fill="none" stroke="#343741" stroke-width="1.15"/>
<rect x="2392.5" y="1039.70" width="2.7" height="2.7" fill="none" stroke="#343741" stroke-width="1.15"/>
<circle cx="2112" cy="1070.5" r="6.1" fill="#9170b8"/>
<rect x="2392.5" y="1062.70" width="2.7" height="2.7" fill="none" stroke="#343741" stroke-width="1.15"/>
<rect x="2392.5" y="1069.20" width="2.7" height="2.7" fill="none" stroke="#343741" stroke-width="1.15"/>
<rect x="2392.5" y="1075.70" width="2.7" height="2.7" fill="none" stroke="#343741" stroke-width="1.15"/>
<circle cx="2112" cy="1106.5" r="6.1" fill="#ca8eae"/>
<rect x="2392.5" y="1098.70" width="2.7" height="2.7" fill="none" stroke="#343741" stroke-width="1.15"/>
<rect x="2392.5" y="1105.20" width="2.7" height="2.7" fill="none" stroke="#343741" stroke-width="1.15"/>
<rect x="2392.5" y="1111.70" width="2.7" height="2.7" fill="none" stroke="#343741" stroke-width="1.15"/>
<circle cx="2112" cy="1141.8" r="6.1" fill="#d6bf57"/>
<rect x="2392.5" y="1134.00" width="2.7" height="2.7" fill="none" stroke="#343741" stroke-width="1.15"/>
<rect x="2392.5" y="1140.50" width="2.7" height="2.7" fill="none" stroke="#343741" stroke-width="1.15"/>
<rect x="2392.5" y="1147.00" width="2.7" height="2.7" fill="none" stroke="#343741" stroke-width="1.15"/>
<defs><linearGradient id="fade" x1="0" y1="0" x2="0" y2="1"><stop offset="0" stop-color="#fff" stop-opacity="0"/><stop offset="1" stop-color="#fff" stop-opacity="1"/></linearGradient></defs>
<rect x="2424.00" y="936.00" width="6.50" height="97.00" fill="#b4b7be" rx="3.2" />
<rect x="47.7" y="1252.7" width="16.8" height="16.6" rx="2" fill="none" stroke="#343741" stroke-width="1.25"/>
<rect x="48.20" y="1255.00" width="15.80" height="1.90" fill="#8a8e97" />
<rect x="50.10" y="1259.40" width="3.00" height="1.25" fill="#343741" />
<rect x="54.65" y="1259.40" width="3.00" height="1.25" fill="#343741" />
<rect x="59.20" y="1259.40" width="3.00" height="1.25" fill="#343741" />
<rect x="50.10" y="1262.65" width="3.00" height="1.25" fill="#343741" />
<rect x="54.65" y="1262.65" width="3.00" height="1.25" fill="#343741" />
<rect x="59.20" y="1262.65" width="3.00" height="1.25" fill="#343741" />
<rect x="50.10" y="1265.90" width="3.00" height="1.25" fill="#343741" />
<rect x="54.65" y="1265.90" width="3.00" height="1.25" fill="#343741" />
<rect x="59.20" y="1265.90" width="3.00" height="1.25" fill="#343741" />
<rect x="183.30" y="1249.00" width="41.30" height="24.00" fill="#e0e5ee" rx="4.5" />
<path d="M256 1259.6 L260.5 1255 L265 1259.6 M256 1262.6 L260.5 1267.2 L265 1262.6 M260.5 1255.4 V1266.8" stroke="#343741" stroke-width="1.1" fill="none" stroke-linecap="round" stroke-linejoin="round"/>
<rect x="405.00" y="1249.00" width="26.00" height="24.00" fill="#e0e5ee" rx="4.5" />
<rect x="600.00" y="1251.00" width="1.00" height="22.00" fill="#d3dae6" />
<rect x="628.7" y="1253.2" width="16.6" height="16.2" rx="1.5" fill="none" stroke="#343741" stroke-width="1.2"/>
<line x1="637.00" y1="1253.20" x2="637.00" y2="1269.40" stroke="#343741" stroke-width="1.2" />
<line x1="631.20" y1="1256.90" x2="634.60" y2="1256.90" stroke="#343741" stroke-width="1.1" />
<line x1="631.20" y1="1259.80" x2="634.60" y2="1259.80" stroke="#343741" stroke-width="1.1" />
<line x1="631.20" y1="1262.70" x2="634.60" y2="1262.70" stroke="#343741" stroke-width="1.1" />
<rect x="2083.00" y="1247.70" width="21.60" height="21.60" rx="5.2" fill="#fff" stroke="#8e9199" stroke-width="1.1"/>
<rect x="2380.90" y="1254.10" width="22.2" height="15" fill="none" stroke="#343741" stroke-width="1.6"/>
<rect x="2383.15" y="1256.42" width="2.70" height="1.35" fill="#343741" />
<rect x="2387.52" y="1256.42" width="1.35" height="1.35" fill="#343741" />
<rect x="2390.62" y="1256.42" width="1.35" height="1.35" fill="#343741" />
<rect x="2393.72" y="1256.42" width="1.35" height="1.35" fill="#343741" />
<rect x="2396.62" y="1256.42" width="1.35" height="1.35" fill="#343741" />
<rect x="2399.72" y="1256.42" width="1.35" height="1.35" fill="#343741" />
<rect x="2382.92" y="1259.53" width="1.35" height="1.35" fill="#343741" />
<rect x="2386.02" y="1259.53" width="1.35" height="1.35" fill="#343741" />
<rect x="2389.12" y="1259.53" width="1.35" height="1.35" fill="#343741" />
<rect x="2392.12" y="1259.53" width="1.35" height="1.35" fill="#343741" />
<rect x="2395.12" y="1259.53" width="1.35" height="1.35" fill="#343741" />
<rect x="2382.92" y="1262.53" width="1.35" height="1.35" fill="#343741" />
<rect x="2386.02" y="1262.53" width="1.35" height="1.35" fill="#343741" />
<rect x="2389.12" y="1262.53" width="1.35" height="1.35" fill="#343741" />
<rect x="2392.12" y="1262.53" width="1.35" height="1.35" fill="#343741" />
<rect x="2395.12" y="1262.53" width="1.35" height="1.35" fill="#343741" />
<rect x="2398.30" y="1259.50" width="2.50" height="4.10" fill="#343741" />
<rect x="2383.15" y="1265.62" width="2.70" height="1.35" fill="#343741" />
<rect x="2387.50" y="1265.62" width="9.00" height="1.35" fill="#343741" />
<rect x="2398.20" y="1265.62" width="2.60" height="1.35" fill="#343741" />
<rect x="2428.90" y="1249.80" width="22.2" height="22.3" rx="2.7" fill="none" stroke="#343741" stroke-width="1.6"/>
<path d="M2433.40 1259.00 V1254.20 H2438.20 M2441.80 1254.20 H2446.60 V1259.00 M2446.60 1262.90 V1267.70 H2441.80 M2438.20 1267.70 H2433.40 V1262.90" stroke="#343741" stroke-width="1.4" fill="none" stroke-linecap="round" stroke-linejoin="round"/>
<rect x="44.70" y="1297.70" width="21.60" height="21.60" rx="5.2" fill="#fff" stroke="#8e9199" stroke-width="1.1"/>
<path d="M478 1302.5 V1315.5 M471 1309.3 L478 1316 L485 1309.3" stroke="#343741" stroke-width="1.7" fill="none" stroke-linecap="round" stroke-linejoin="round"/>
<rect x="35.00" y="1333.00" width="2001.00" height="3.00" fill="#343741" />
<rect x="2036.00" y="1331.80" width="430.70" height="6.20" fill="#343741" />
<rect x="45.70" y="1348.60" width="21.60" height="21.60" rx="5.2" fill="#fff" stroke="#8e9199" stroke-width="1.1"/>
<path d="M109.60 1367.70 L122.50 1352.60 M119.40 1350.20 H124.00 A2 2 0 0 1 126.00 1352.20 V1356.90 M105.90 1363.30 V1368.10 A2 2 0 0 0 107.90 1370.10 H112.60" stroke="#006bb8" stroke-width="1.5" fill="none" stroke-linecap="round" stroke-linejoin="round"/>
<rect x="154.00" y="1348.70" width="6.4" height="5.1" rx="1.3" fill="none" stroke="#006bb8" stroke-width="1.45"/>
<rect x="146.80" y="1365.30" width="6.0" height="4.6" rx="1.1" fill="none" stroke="#006bb8" stroke-width="1.45"/>
<rect x="161.80" y="1365.30" width="6.0" height="4.6" rx="1.1" fill="none" stroke="#006bb8" stroke-width="1.45"/>
<path d="M157.20 1353.80 V1355.80 M149.80 1362.80 V1365.30 M164.80 1362.80 V1365.30 M146.30 1359.40 H148.30 M151.20 1359.40 H155.80 M158.60 1359.40 H163.30 M166.20 1359.40 H168.20" stroke="#006bb8" stroke-width="1.45" fill="none" stroke-linecap="round"/>
<circle cx="149.80" cy="1359.40" r="1.45" fill="none" stroke="#006bb8" stroke-width="1.45"/>
<circle cx="157.20" cy="1359.40" r="1.45" fill="none" stroke="#006bb8" stroke-width="1.45"/>
<circle cx="164.80" cy="1359.40" r="1.45" fill="none" stroke="#006bb8" stroke-width="1.45"/>
<rect x="188.70" y="1357.70" width="4.7" height="4.7" fill="none" stroke="#a2abba" stroke-width="1.4"/>
<rect x="197.65" y="1357.70" width="4.7" height="4.7" fill="none" stroke="#a2abba" stroke-width="1.4"/>
<rect x="206.60" y="1357.70" width="4.7" height="4.7" fill="none" stroke="#a2abba" stroke-width="1.4"/>
<rect x="605.50" y="1360.10" width="22.00" height="1.70" fill="#343741" />
<rect x="45.70" y="1396.60" width="21.60" height="21.60" rx="5.2" fill="#fff" stroke="#8e9199" stroke-width="1.1"/>
<path d="M109.60 1415.70 L122.50 1400.60 M119.40 1398.20 H124.00 A2 2 0 0 1 126.00 1400.20 V1404.90 M105.90 1411.30 V1416.10 A2 2 0 0 0 107.90 1418.10 H112.60" stroke="#006bb8" stroke-width="1.5" fill="none" stroke-linecap="round" stroke-linejoin="round"/>
<rect x="154.00" y="1396.70" width="6.4" height="5.1" rx="1.3" fill="none" stroke="#006bb8" stroke-width="1.45"/>
<rect x="146.80" y="1413.30" width="6.0" height="4.6" rx="1.1" fill="none" stroke="#006bb8" stroke-width="1.45"/>
<rect x="161.80" y="1413.30" width="6.0" height="4.6" rx="1.1" fill="none" stroke="#006bb8" stroke-width="1.45"/>
<path d="M157.20 1401.80 V1403.80 M149.80 1410.80 V1413.30 M164.80 1410.80 V1413.30 M146.30 1407.40 H148.30 M151.20 1407.40 H155.80 M158.60 1407.40 H163.30 M166.20 1407.40 H168.20" stroke="#006bb8" stroke-width="1.45" fill="none" stroke-linecap="round"/>
<circle cx="149.80" cy="1407.40" r="1.45" fill="none" stroke="#006bb8" stroke-width="1.45"/>
<circle cx="157.20" cy="1407.40" r="1.45" fill="none" stroke="#006bb8" stroke-width="1.45"/>
<circle cx="164.80" cy="1407.40" r="1.45" fill="none" stroke="#006bb8" stroke-width="1.45"/>
<rect x="188.70" y="1405.70" width="4.7" height="4.7" fill="none" stroke="#a2abba" stroke-width="1.4"/>
<rect x="197.65" y="1405.70" width="4.7" height="4.7" fill="none" stroke="#a2abba" stroke-width="1.4"/>
<rect x="206.60" y="1405.70" width="4.7" height="4.7" fill="none" stroke="#a2abba" stroke-width="1.4"/>
<rect x="605.50" y="1408.10" width="22.00" height="1.70" fill="#343741" />
<rect x="45.70" y="1444.60" width="21.60" height="21.60" rx="5.2" fill="#fff" stroke="#8e9199" stroke-width="1.1"/>
<path d="M109.60 1463.70 L122.50 1448.60 M119.40 1446.20 H124.00 A2 2 0 0 1 126.00 1448.20 V1452.90 M105.90 1459.30 V1464.10 A2 2 0 0 0 107.90 1466.10 H112.60" stroke="#006bb8" stroke-width="1.5" fill="none" stroke-linecap="round" stroke-linejoin="round"/>
<rect x="154.00" y="1444.70" width="6.4" height="5.1" rx="1.3" fill="none" stroke="#006bb8" stroke-width="1.45"/>
<rect x="146.80" y="1461.30" width="6.0" height="4.6" rx="1.1" fill="none" stroke="#006bb8" stroke-width="1.45"/>
<rect x="161.80" y="1461.30" width="6.0" height="4.6" rx="1.1" fill="none" stroke="#006bb8" stroke-width="1.45"/>
<path d="M157.20 1449.80 V1451.80 M149.80 1458.80 V1461.30 M164.80 1458.80 V1461.30 M146.30 1455.40 H148.30 M151.20 1455.40 H155.80 M158.60 1455.40 H163.30 M166.20 1455.40 H168.20" stroke="#006bb8" stroke-width="1.45" fill="none" stroke-linecap="round"/>
<circle cx="149.80" cy="1455.40" r="1.45" fill="none" stroke="#006bb8" stroke-width="1.45"/>
<circle cx="157.20" cy="1455.40" r="1.45" fill="none" stroke="#006bb8" stroke-width="1.45"/>
<circle cx="164.80" cy="1455.40" r="1.45" fill="none" stroke="#006bb8" stroke-width="1.45"/>
<rect x="188.70" y="1453.70" width="4.7" height="4.7" fill="none" stroke="#a2abba" stroke-width="1.4"/>
<rect x="197.65" y="1453.70" width="4.7" height="4.7" fill="none" stroke="#a2abba" stroke-width="1.4"/>
<rect x="206.60" y="1453.70" width="4.7" height="4.7" fill="none" stroke="#a2abba" stroke-width="1.4"/>
<rect x="605.50" y="1456.10" width="22.00" height="1.70" fill="#343741" />
<rect x="45.70" y="1492.60" width="21.60" height="21.60" rx="5.2" fill="#fff" stroke="#8e9199" stroke-width="1.1"/>
<path d="M109.60 1511.70 L122.50 1496.60 M119.40 1494.20 H124.00 A2 2 0 0 1 126.00 1496.20 V1500.90 M105.90 1507.30 V1512.10 A2 2 0 0 0 107.90 1514.10 H112.60" stroke="#006bb8" stroke-width="1.5" fill="none" stroke-linecap="round" stroke-linejoin="round"/>
<rect x="154.00" y="1492.70" width="6.4" height="5.1" rx="1.3" fill="none" stroke="#006bb8" stroke-width="1.45"/>
<rect x="146.80" y="1509.30" width="6.0" height="4.6" rx="1.1" fill="none" stroke="#006bb8" stroke-width="1.45"/>
<rect x="161.80" y="1509.30" width="6.0" height="4.6" rx="1.1" fill="none" stroke="#006bb8" stroke-width="1.45"/>
<path d="M157.20 1497.80 V1499.80 M149.80 1506.80 V1509.30 M164.80 1506.80 V1509.30 M146.30 1503.40 H148.30 M151.20 1503.40 H155.80 M158.60 1503.40 H163.30 M166.20 1503.40 H168.20" stroke="#006bb8" stroke-width="1.45" fill="none" stroke-linecap="round"/>
<circle cx="149.80" cy="1503.40" r="1.45" fill="none" stroke="#006bb8" stroke-width="1.45"/>
<circle cx="157.20" cy="1503.40" r="1.45" fill="none" stroke="#006bb8" stroke-width="1.45"/>
<circle cx="164.80" cy="1503.40" r="1.45" fill="none" stroke="#006bb8" stroke-width="1.45"/>
<rect x="188.70" y="1501.70" width="4.7" height="4.7" fill="none" stroke="#a2abba" stroke-width="1.4"/>
<rect x="197.65" y="1501.70" width="4.7" height="4.7" fill="none" stroke="#a2abba" stroke-width="1.4"/>
<rect x="206.60" y="1501.70" width="4.7" height="4.7" fill="none" stroke="#a2abba" stroke-width="1.4"/>
<rect x="605.50" y="1504.10" width="22.00" height="1.70" fill="#343741" />
<rect x="45.70" y="1540.60" width="21.60" height="21.60" rx="5.2" fill="#fff" stroke="#8e9199" stroke-width="1.1"/>
<path d="M109.60 1559.70 L122.50 1544.60 M119.40 1542.20 H124.00 A2 2 0 0 1 126.00 1544.20 V1548.90 M105.90 1555.30 V1560.10 A2 2 0 0 0 107.90 1562.10 H112.60" stroke="#006bb8" stroke-width="1.5" fill="none" stroke-linecap="round" stroke-linejoin="round"/>
<rect x="154.00" y="1540.70" width="6.4" height="5.1" rx="1.3" fill="none" stroke="#006bb8" stroke-width="1.45"/>
<rect x="146.80" y="1557.30" width="6.0" height="4.6" rx="1.1" fill="none" stroke="#006bb8" stroke-width="1.45"/>
<rect x="161.80" y="1557.30" width="6.0" height="4.6" rx="1.1" fill="none" stroke="#006bb8" stroke-width="1.45"/>
<path d="M157.20 1545.80 V1547.80 M149.80 1554.80 V1557.30 M164.80 1554.80 V1557.30 M146.30 1551.40 H148.30 M151.20 1551.40 H155.80 M158.60 1551.40 H163.30 M166.20 1551.40 H168.20" stroke="#006bb8" stroke-width="1.45" fill="none" stroke-linecap="round"/>
<circle cx="149.80" cy="1551.40" r="1.45" fill="none" stroke="#006bb8" stroke-width="1.45"/>
<circle cx="157.20" cy="1551.40" r="1.45" fill="none" stroke="#006bb8" stroke-width="1.45"/>
<circle cx="164.80" cy="1551.40" r="1.45" fill="none" stroke="#006bb8" stroke-width="1.45"/>
<rect x="188.70" y="1549.70" width="4.7" height="4.7" fill="none" stroke="#a2abba" stroke-width="1.4"/>
<rect x="197.65" y="1549.70" width="4.7" height="4.7" fill="none" stroke="#a2abba" stroke-width="1.4"/>
<rect x="206.60" y="1549.70" width="4.7" height="4.7" fill="none" stroke="#a2abba" stroke-width="1.4"/>
<rect x="605.50" y="1552.10" width="22.00" height="1.70" fill="#343741" />
<rect x="45.70" y="1588.60" width="21.60" height="21.60" rx="5.2" fill="#fff" stroke="#8e9199" stroke-width="1.1"/>
<path d="M109.60 1607.70 L122.50 1592.60 M119.40 1590.20 H124.00 A2 2 0 0 1 126.00 1592.20 V1596.90 M105.90 1603.30 V1608.10 A2 2 0 0 0 107.90 1610.10 H112.60" stroke="#006bb8" stroke-width="1.5" fill="none" stroke-linecap="round" stroke-linejoin="round"/>
<rect x="154.00" y="1588.70" width="6.4" height="5.1" rx="1.3" fill="none" stroke="#006bb8" stroke-width="1.45"/>
<rect x="146.80" y="1605.30" width="6.0" height="4.6" rx="1.1" fill="none" stroke="#006bb8" stroke-width="1.45"/>
<rect x="161.80" y="1605.30" width="6.0" height="4.6" rx="1.1" fill="none" stroke="#006bb8" stroke-width="1.45"/>
<path d="M157.20 1593.80 V1595.80 M149.80 1602.80 V1605.30 M164.80 1602.80 V1605.30 M146.30 1599.40 H148.30 M151.20 1599.40 H155.80 M158.60 1599.40 H163.30 M166.20 1599.40 H168.20" stroke="#006bb8" stroke-width="1.45" fill="none" stroke-linecap="round"/>
<circle cx="149.80" cy="1599.40" r="1.45" fill="none" stroke="#006bb8" stroke-width="1.45"/>
<circle cx="157.20" cy="1599.40" r="1.45" fill="none" stroke="#006bb8" stroke-width="1.45"/>
<circle cx="164.80" cy="1599.40" r="1.45" fill="none" stroke="#006bb8" stroke-width="1.45"/>
<rect x="188.70" y="1597.70" width="4.7" height="4.7" fill="none" stroke="#a2abba" stroke-width="1.4"/>
<rect x="197.65" y="1597.70" width="4.7" height="4.7" fill="none" stroke="#a2abba" stroke-width="1.4"/>
<rect x="206.60" y="1597.70" width="4.7" height="4.7" fill="none" stroke="#a2abba" stroke-width="1.4"/>
<rect x="605.50" y="1600.10" width="22.00" height="1.70" fill="#343741" />
<rect x="1435.70" y="1600.10" width="22.00" height="1.70" fill="#343741" />
<rect x="2061.50" y="1597.50" width="20.50" height="5.50" fill="#343741" />
<rect x="2264.50" y="1597.50" width="20.50" height="5.50" fill="#343741" />
<rect x="45.70" y="1636.60" width="21.60" height="21.60" rx="5.2" fill="#fff" stroke="#8e9199" stroke-width="1.1"/>
<path d="M109.60 1655.70 L122.50 1640.60 M119.40 1638.20 H124.00 A2 2 0 0 1 126.00 1640.20 V1644.90 M105.90 1651.30 V1656.10 A2 2 0 0 0 107.90 1658.10 H112.60" stroke="#006bb8" stroke-width="1.5" fill="none" stroke-linecap="round" stroke-linejoin="round"/>
<rect x="154.00" y="1636.70" width="6.4" height="5.1" rx="1.3" fill="none" stroke="#006bb8" stroke-width="1.45"/>
<rect x="146.80" y="1653.30" width="6.0" height="4.6" rx="1.1" fill="none" stroke="#006bb8" stroke-width="1.45"/>
<rect x="161.80" y="1653.30" width="6.0" height="4.6" rx="1.1" fill="none" stroke="#006bb8" stroke-width="1.45"/>
<path d="M157.20 1641.80 V1643.80 M149.80 1650.80 V1653.30 M164.80 1650.80 V1653.30 M146.30 1647.40 H148.30 M151.20 1647.40 H155.80 M158.60 1647.40 H163.30 M166.20 1647.40 H168.20" stroke="#006bb8" stroke-width="1.45" fill="none" stroke-linecap="round"/>
<circle cx="149.80" cy="1647.40" r="1.45" fill="none" stroke="#006bb8" stroke-width="1.45"/>
<circle cx="157.20" cy="1647.40" r="1.45" fill="none" stroke="#006bb8" stroke-width="1.45"/>
<circle cx="164.80" cy="1647.40" r="1.45" fill="none" stroke="#006bb8" stroke-width="1.45"/>
<rect x="188.70" y="1645.70" width="4.7" height="4.7" fill="none" stroke="#a2abba" stroke-width="1.4"/>
<rect x="197.65" y="1645.70" width="4.7" height="4.7" fill="none" stroke="#a2abba" stroke-width="1.4"/>
<rect x="206.60" y="1645.70" width="4.7" height="4.7" fill="none" stroke="#a2abba" stroke-width="1.4"/>
<rect x="605.50" y="1648.10" width="22.00" height="1.70" fill="#343741" />
<rect x="45.70" y="1684.60" width="21.60" height="21.60" rx="5.2" fill="#fff" stroke="#8e9199" stroke-width="1.1"/>
<path d="M109.60 1703.70 L122.50 1688.60 M119.40 1686.20 H124.00 A2 2 0 0 1 126.00 1688.20 V1692.90 M105.90 1699.30 V1704.10 A2 2 0 0 0 107.90 1706.10 H112.60" stroke="#006bb8" stroke-width="1.5" fill="none" stroke-linecap="round" stroke-linejoin="round"/>
<rect x="154.00" y="1684.70" width="6.4" height="5.1" rx="1.3" fill="none" stroke="#006bb8" stroke-width="1.45"/>
<rect x="146.80" y="1701.30" width="6.0" height="4.6" rx="1.1" fill="none" stroke="#006bb8" stroke-width="1.45"/>
<rect x="161.80" y="1701.30" width="6.0" height="4.6" rx="1.1" fill="none" stroke="#006bb8" stroke-width="1.45"/>
<path d="M157.20 1689.80 V1691.80 M149.80 1698.80 V1701.30 M164.80 1698.80 V1701.30 M146.30 1695.40 H148.30 M151.20 1695.40 H155.80 M158.60 1695.40 H163.30 M166.20 1695.40 H168.20" stroke="#006bb8" stroke-width="1.45" fill="none" stroke-linecap="round"/>
<circle cx="149.80" cy="1695.40" r="1.45" fill="none" stroke="#006bb8" stroke-width="1.45"/>
<circle cx="157.20" cy="1695.40" r="1.45" fill="none" stroke="#006bb8" stroke-width="1.45"/>
<circle cx="164.80" cy="1695.40" r="1.45" fill="none" stroke="#006bb8" stroke-width="1.45"/>
<rect x="188.70" y="1693.70" width="4.7" height="4.7" fill="none" stroke="#a2abba" stroke-width="1.4"/>
<rect x="197.65" y="1693.70" width="4.7" height="4.7" fill="none" stroke="#a2abba" stroke-width="1.4"/>
<rect x="206.60" y="1693.70" width="4.7" height="4.7" fill="none" stroke="#a2abba" stroke-width="1.4"/>
<rect x="605.50" y="1696.10" width="22.00" height="1.70" fill="#343741" />
<rect x="45.70" y="1732.60" width="21.60" height="21.60" rx="5.2" fill="#fff" stroke="#8e9199" stroke-width="1.1"/>
<path d="M109.60 1751.70 L122.50 1736.60 M119.40 1734.20 H124.00 A2 2 0 0 1 126.00 1736.20 V1740.90 M105.90 1747.30 V1752.10 A2 2 0 0 0 107.90 1754.10 H112.60" stroke="#006bb8" stroke-width="1.5" fill="none" stroke-linecap="round" stroke-linejoin="round"/>
<rect x="154.00" y="1732.70" width="6.4" height="5.1" rx="1.3" fill="none" stroke="#006bb8" stroke-width="1.45"/>
<rect x="146.80" y="1749.30" width="6.0" height="4.6" rx="1.1" fill="none" stroke="#006bb8" stroke-width="1.45"/>
<rect x="161.80" y="1749.30" width="6.0" height="4.6" rx="1.1" fill="none" stroke="#006bb8" stroke-width="1.45"/>
<path d="M157.20 1737.80 V1739.80 M149.80 1746.80 V1749.30 M164.80 1746.80 V1749.30 M146.30 1743.40 H148.30 M151.20 1743.40 H155.80 M158.60 1743.40 H163.30 M166.20 1743.40 H168.20" stroke="#006bb8" stroke-width="1.45" fill="none" stroke-linecap="round"/>
<circle cx="149.80" cy="1743.40" r="1.45" fill="none" stroke="#006bb8" stroke-width="1.45"/>
<circle cx="157.20" cy="1743.40" r="1.45" fill="none" stroke="#006bb8" stroke-width="1.45"/>
<circle cx="164.80" cy="1743.40" r="1.45" fill="none" stroke="#006bb8" stroke-width="1.45"/>
<rect x="188.70" y="1741.70" width="4.7" height="4.7" fill="none" stroke="#a2abba" stroke-width="1.4"/>
<rect x="197.65" y="1741.70" width="4.7" height="4.7" fill="none" stroke="#a2abba" stroke-width="1.4"/>
<rect x="206.60" y="1741.70" width="4.7" height="4.7" fill="none" stroke="#a2abba" stroke-width="1.4"/>
<rect x="605.50" y="1744.10" width="22.00" height="1.70" fill="#343741" />
<rect x="45.70" y="1780.60" width="21.60" height="21.60" rx="5.2" fill="#fff" stroke="#8e9199" stroke-width="1.1"/>
<path d="M109.60 1799.70 L122.50 1784.60 M119.40 1782.20 H124.00 A2 2 0 0 1 126.00 1784.20 V1788.90 M105.90 1795.30 V1800.10 A2 2 0 0 0 107.90 1802.10 H112.60" stroke="#006bb8" stroke-width="1.5" fill="none" stroke-linecap="round" stroke-linejoin="round"/>
<rect x="154.00" y="1780.70" width="6.4" height="5.1" rx="1.3" fill="none" stroke="#006bb8" stroke-width="1.45"/>
<rect x="146.80" y="1797.30" width="6.0" height="4.6" rx="1.1" fill="none" stroke="#006bb8" stroke-width="1.45"/>
<rect x="161.80" y="1797.30" width="6.0" height="4.6" rx="1.1" fill="none" stroke="#006bb8" stroke-width="1.45"/>
<path d="M157.20 1785.80 V1787.80 M149.80 1794.80 V1797.30 M164.80 1794.80 V1797.30 M146.30 1791.40 H148.30 M151.20 1791.40 H155.80 M158.60 1791.40 H163.30 M166.20 1791.40 H168.20" stroke="#006bb8" stroke-width="1.45" fill="none" stroke-linecap="round"/>
<circle cx="149.80" cy="1791.40" r="1.45" fill="none" stroke="#006bb8" stroke-width="1.45"/>
<circle cx="157.20" cy="1791.40" r="1.45" fill="none" stroke="#006bb8" stroke-width="1.45"/>
<circle cx="164.80" cy="1791.40" r="1.45" fill="none" stroke="#006bb8" stroke-width="1.45"/>
<rect x="188.70" y="1789.70" width="4.7" height="4.7" fill="none" stroke="#a2abba" stroke-width="1.4"/>
<rect x="197.65" y="1789.70" width="4.7" height="4.7" fill="none" stroke="#a2abba" stroke-width="1.4"/>
<rect x="206.60" y="1789.70" width="4.7" height="4.7" fill="none" stroke="#a2abba" stroke-width="1.4"/>
<rect x="605.50" y="1792.10" width="22.00" height="1.70" fill="#343741" />
<rect x="45.70" y="1828.60" width="21.60" height="21.60" rx="5.2" fill="#fff" stroke="#8e9199" stroke-width="1.1"/>
<path d="M109.60 1847.70 L122.50 1832.60 M119.40 1830.20 H124.00 A2 2 0 0 1 126.00 1832.20 V1836.90 M105.90 1843.30 V1848.10 A2 2 0 0 0 107.90 1850.10 H112.60" stroke="#006bb8" stroke-width="1.5" fill="none" stroke-linecap="round" stroke-linejoin="round"/>
<rect x="154.00" y="1828.70" width="6.4" height="5.1" rx="1.3" fill="none" stroke="#006bb8" stroke-width="1.45"/>
<rect x="146.80" y="1845.30" width="6.0" height="4.6" rx="1.1" fill="none" stroke="#006bb8" stroke-width="1.45"/>
<rect x="161.80" y="1845.30" width="6.0" height="4.6" rx="1.1" fill="none" stroke="#006bb8" stroke-width="1.45"/>
<path d="M157.20 1833.80 V1835.80 M149.80 1842.80 V1845.30 M164.80 1842.80 V1845.30 M146.30 1839.40 H148.30 M151.20 1839.40 H155.80 M158.60 1839.40 H163.30 M166.20 1839.40 H168.20" stroke="#006bb8" stroke-width="1.45" fill="none" stroke-linecap="round"/>
<circle cx="149.80" cy="1839.40" r="1.45" fill="none" stroke="#006bb8" stroke-width="1.45"/>
<circle cx="157.20" cy="1839.40" r="1.45" fill="none" stroke="#006bb8" stroke-width="1.45"/>
<circle cx="164.80" cy="1839.40" r="1.45" fill="none" stroke="#006bb8" stroke-width="1.45"/>
<rect x="188.70" y="1837.70" width="4.7" height="4.7" fill="none" stroke="#a2abba" stroke-width="1.4"/>
<rect x="197.65" y="1837.70" width="4.7" height="4.7" fill="none" stroke="#a2abba" stroke-width="1.4"/>
<rect x="206.60" y="1837.70" width="4.7" height="4.7" fill="none" stroke="#a2abba" stroke-width="1.4"/>
<rect x="605.50" y="1840.10" width="22.00" height="1.70" fill="#343741" />
<rect x="45.70" y="1876.60" width="21.60" height="21.60" rx="5.2" fill="#fff" stroke="#8e9199" stroke-width="1.1"/>
<path d="M109.60 1895.70 L122.50 1880.60 M119.40 1878.20 H124.00 A2 2 0 0 1 126.00 1880.20 V1884.90 M105.90 1891.30 V1896.10 A2 2 0 0 0 107.90 1898.10 H112.60" stroke="#006bb8" stroke-width="1.5" fill="none" stroke-linecap="round" stroke-linejoin="round"/>
<rect x="154.00" y="1876.70" width="6.4" height="5.1" rx="1.3" fill="none" stroke="#006bb8" stroke-width="1.45"/>
<rect x="146.80" y="1893.30" width="6.0" height="4.6" rx="1.1" fill="none" stroke="#006bb8" stroke-width="1.45"/>
<rect x="161.80" y="1893.30" width="6.0" height="4.6" rx="1.1" fill="none" stroke="#006bb8" stroke-width="1.45"/>
<path d="M157.20 1881.80 V1883.80 M149.80 1890.80 V1893.30 M164.80 1890.80 V1893.30 M146.30 1887.40 H148.30 M151.20 1887.40 H155.80 M158.60 1887.40 H163.30 M166.20 1887.40 H168.20" stroke="#006bb8" stroke-width="1.45" fill="none" stroke-linecap="round"/>
<circle cx="149.80" cy="1887.40" r="1.45" fill="none" stroke="#006bb8" stroke-width="1.45"/>
<circle cx="157.20" cy="1887.40" r="1.45" fill="none" stroke="#006bb8" stroke-width="1.45"/>
<circle cx="164.80" cy="1887.40" r="1.45" fill="none" stroke="#006bb8" stroke-width="1.45"/>
<rect x="188.70" y="1885.70" width="4.7" height="4.7" fill="none" stroke="#a2abba" stroke-width="1.4"/>
<rect x="197.65" y="1885.70" width="4.7" height="4.7" fill="none" stroke="#a2abba" stroke-width="1.4"/>
<rect x="206.60" y="1885.70" width="4.7" height="4.7" fill="none" stroke="#a2abba" stroke-width="1.4"/>
<rect x="605.50" y="1888.10" width="22.00" height="1.70" fill="#343741" />
<rect x="45.70" y="1924.60" width="21.60" height="21.60" rx="5.2" fill="#fff" stroke="#8e9199" stroke-width="1.1"/>
<path d="M109.60 1943.70 L122.50 1928.60 M119.40 1926.20 H124.00 A2 2 0 0 1 126.00 1928.20 V1932.90 M105.90 1939.30 V1944.10 A2 2 0 0 0 107.90 1946.10 H112.60" stroke="#006bb8" stroke-width="1.5" fill="none" stroke-linecap="round" stroke-linejoin="round"/>
<rect x="154.00" y="1924.70" width="6.4" height="5.1" rx="1.3" fill="none" stroke="#006bb8" stroke-width="1.45"/>
<rect x="146.80" y="1941.30" width="6.0" height="4.6" rx="1.1" fill="none" stroke="#006bb8" stroke-width="1.45"/>
<rect x="161.80" y="1941.30" width="6.0" height="4.6" rx="1.1" fill="none" stroke="#006bb8" stroke-width="1.45"/>
<path d="M157.20 1929.80 V1931.80 M149.80 1938.80 V1941.30 M164.80 1938.80 V1941.30 M146.30 1935.40 H148.30 M151.20 1935.40 H155.80 M158.60 1935.40 H163.30 M166.20 1935.40 H168.20" stroke="#006bb8" stroke-width="1.45" fill="none" stroke-linecap="round"/>
<circle cx="149.80" cy="1935.40" r="1.45" fill="none" stroke="#006bb8" stroke-width="1.45"/>
<circle cx="157.20" cy="1935.40" r="1.45" fill="none" stroke="#006bb8" stroke-width="1.45"/>
<circle cx="164.80" cy="1935.40" r="1.45" fill="none" stroke="#006bb8" stroke-width="1.45"/>
<rect x="188.70" y="1933.70" width="4.7" height="4.7" fill="none" stroke="#006bb8" stroke-width="1.4"/>
<rect x="197.65" y="1933.70" width="4.7" height="4.7" fill="none" stroke="#006bb8" stroke-width="1.4"/>
<rect x="206.60" y="1933.70" width="4.7" height="4.7" fill="none" stroke="#006bb8" stroke-width="1.4"/>
<path d="M241.80 1924.70 L251.90 1930.40 V1941.90 L241.80 1947.60 L231.70 1941.90 V1930.40 Z M232.20 1930.80 L241.80 1936.80 L251.40 1930.80" stroke="#006bb8" stroke-width="1.5" fill="none" stroke-linejoin="round" stroke-linecap="round"/>
<rect x="45.70" y="1972.60" width="21.60" height="21.60" rx="5.2" fill="#fff" stroke="#8e9199" stroke-width="1.1"/>
<path d="M109.60 1991.70 L122.50 1976.60 M119.40 1974.20 H124.00 A2 2 0 0 1 126.00 1976.20 V1980.90 M105.90 1987.30 V1992.10 A2 2 0 0 0 107.90 1994.10 H112.60" stroke="#006bb8" stroke-width="1.5" fill="none" stroke-linecap="round" stroke-linejoin="round"/>
<rect x="154.00" y="1972.70" width="6.4" height="5.1" rx="1.3" fill="none" stroke="#006bb8" stroke-width="1.45"/>
<rect x="146.80" y="1989.30" width="6.0" height="4.6" rx="1.1" fill="none" stroke="#006bb8" stroke-width="1.45"/>
<rect x="161.80" y="1989.30" width="6.0" height="4.6" rx="1.1" fill="none" stroke="#006bb8" stroke-width="1.45"/>
<path d="M157.20 1977.80 V1979.80 M149.80 1986.80 V1989.30 M164.80 1986.80 V1989.30 M146.30 1983.40 H148.30 M151.20 1983.40 H155.80 M158.60 1983.40 H163.30 M166.20 1983.40 H168.20" stroke="#006bb8" stroke-width="1.45" fill="none" stroke-linecap="round"/>
<circle cx="149.80" cy="1983.40" r="1.45" fill="none" stroke="#006bb8" stroke-width="1.45"/>
<circle cx="157.20" cy="1983.40" r="1.45" fill="none" stroke="#006bb8" stroke-width="1.45"/>
<circle cx="164.80" cy="1983.40" r="1.45" fill="none" stroke="#006bb8" stroke-width="1.45"/>
<rect x="188.70" y="1981.70" width="4.7" height="4.7" fill="none" stroke="#006bb8" stroke-width="1.4"/>
<rect x="197.65" y="1981.70" width="4.7" height="4.7" fill="none" stroke="#006bb8" stroke-width="1.4"/>
<rect x="206.60" y="1981.70" width="4.7" height="4.7" fill="none" stroke="#006bb8" stroke-width="1.4"/>
<path d="M241.80 1972.70 L251.90 1978.40 V1989.90 L241.80 1995.60 L231.70 1989.90 V1978.40 Z M232.20 1978.80 L241.80 1984.80 L251.40 1978.80" stroke="#006bb8" stroke-width="1.5" fill="none" stroke-linejoin="round" stroke-linecap="round"/>
<rect x="45.70" y="2020.60" width="21.60" height="21.60" rx="5.2" fill="#fff" stroke="#8e9199" stroke-width="1.1"/>
<path d="M109.60 2039.70 L122.50 2024.60 M119.40 2022.20 H124.00 A2 2 0 0 1 126.00 2024.20 V2028.90 M105.90 2035.30 V2040.10 A2 2 0 0 0 107.90 2042.10 H112.60" stroke="#006bb8" stroke-width="1.5" fill="none" stroke-linecap="round" stroke-linejoin="round"/>
<rect x="154.00" y="2020.70" width="6.4" height="5.1" rx="1.3" fill="none" stroke="#006bb8" stroke-width="1.45"/>
<rect x="146.80" y="2037.30" width="6.0" height="4.6" rx="1.1" fill="none" stroke="#006bb8" stroke-width="1.45"/>
<rect x="161.80" y="2037.30" width="6.0" height="4.6" rx="1.1" fill="none" stroke="#006bb8" stroke-width="1.45"/>
<path d="M157.20 2025.80 V2027.80 M149.80 2034.80 V2037.30 M164.80 2034.80 V2037.30 M146.30 2031.40 H148.30 M151.20 2031.40 H155.80 M158.60 2031.40 H163.30 M166.20 2031.40 H168.20" stroke="#006bb8" stroke-width="1.45" fill="none" stroke-linecap="round"/>
<circle cx="149.80" cy="2031.40" r="1.45" fill="none" stroke="#006bb8" stroke-width="1.45"/>
<circle cx="157.20" cy="2031.40" r="1.45" fill="none" stroke="#006bb8" stroke-width="1.45"/>
<circle cx="164.80" cy="2031.40" r="1.45" fill="none" stroke="#006bb8" stroke-width="1.45"/>
<rect x="188.70" y="2029.70" width="4.7" height="4.7" fill="none" stroke="#006bb8" stroke-width="1.4"/>
<rect x="197.65" y="2029.70" width="4.7" height="4.7" fill="none" stroke="#006bb8" stroke-width="1.4"/>
<rect x="206.60" y="2029.70" width="4.7" height="4.7" fill="none" stroke="#006bb8" stroke-width="1.4"/>
<path d="M241.80 2020.70 L251.90 2026.40 V2037.90 L241.80 2043.60 L231.70 2037.90 V2026.40 Z M232.20 2026.80 L241.80 2032.80 L251.40 2026.80" stroke="#006bb8" stroke-width="1.5" fill="none" stroke-linejoin="round" stroke-linecap="round"/>
<rect x="45.70" y="2068.60" width="21.60" height="21.60" rx="5.2" fill="#fff" stroke="#8e9199" stroke-width="1.1"/>
<path d="M109.60 2087.70 L122.50 2072.60 M119.40 2070.20 H124.00 A2 2 0 0 1 126.00 2072.20 V2076.90 M105.90 2083.30 V2088.10 A2 2 0 0 0 107.90 2090.10 H112.60" stroke="#006bb8" stroke-width="1.5" fill="none" stroke-linecap="round" stroke-linejoin="round"/>
<rect x="154.00" y="2068.70" width="6.4" height="5.1" rx="1.3" fill="none" stroke="#006bb8" stroke-width="1.45"/>
<rect x="146.80" y="2085.30" width="6.0" height="4.6" rx="1.1" fill="none" stroke="#006bb8" stroke-width="1.45"/>
<rect x="161.80" y="2085.30" width="6.0" height="4.6" rx="1.1" fill="none" stroke="#006bb8" stroke-width="1.45"/>
<path d="M157.20 2073.80 V2075.80 M149.80 2082.80 V2085.30 M164.80 2082.80 V2085.30 M146.30 2079.40 H148.30 M151.20 2079.40 H155.80 M158.60 2079.40 H163.30 M166.20 2079.40 H168.20" stroke="#006bb8" stroke-width="1.45" fill="none" stroke-linecap="round"/>
<circle cx="149.80" cy="2079.40" r="1.45" fill="none" stroke="#006bb8" stroke-width="1.45"/>
<circle cx="157.20" cy="2079.40" r="1.45" fill="none" stroke="#006bb8" stroke-width="1.45"/>
<circle cx="164.80" cy="2079.40" r="1.45" fill="none" stroke="#006bb8" stroke-width="1.45"/>
<rect x="188.70" y="2077.70" width="4.7" height="4.7" fill="none" stroke="#a2abba" stroke-width="1.4"/>
<rect x="197.65" y="2077.70" width="4.7" height="4.7" fill="none" stroke="#a2abba" stroke-width="1.4"/>
<rect x="206.60" y="2077.70" width="4.7" height="4.7" fill="none" stroke="#a2abba" stroke-width="1.4"/>
<rect x="605.50" y="2080.10" width="22.00" height="1.70" fill="#343741" />
<rect x="45.70" y="2116.60" width="21.60" height="21.60" rx="5.2" fill="#fff" stroke="#8e9199" stroke-width="1.1"/>
<path d="M109.60 2135.70 L122.50 2120.60 M119.40 2118.20 H124.00 A2 2 0 0 1 126.00 2120.20 V2124.90 M105.90 2131.30 V2136.10 A2 2 0 0 0 107.90 2138.10 H112.60" stroke="#006bb8" stroke-width="1.5" fill="none" stroke-linecap="round" stroke-linejoin="round"/>
<rect x="154.00" y="2116.70" width="6.4" height="5.1" rx="1.3" fill="none" stroke="#006bb8" stroke-width="1.45"/>
<rect x="146.80" y="2133.30" width="6.0" height="4.6" rx="1.1" fill="none" stroke="#006bb8" stroke-width="1.45"/>
<rect x="161.80" y="2133.30" width="6.0" height="4.6" rx="1.1" fill="none" stroke="#006bb8" stroke-width="1.45"/>
<path d="M157.20 2121.80 V2123.80 M149.80 2130.80 V2133.30 M164.80 2130.80 V2133.30 M146.30 2127.40 H148.30 M151.20 2127.40 H155.80 M158.60 2127.40 H163.30 M166.20 2127.40 H168.20" stroke="#006bb8" stroke-width="1.45" fill="none" stroke-linecap="round"/>
<circle cx="149.80" cy="2127.40" r="1.45" fill="none" stroke="#006bb8" stroke-width="1.45"/>
<circle cx="157.20" cy="2127.40" r="1.45" fill="none" stroke="#006bb8" stroke-width="1.45"/>
<circle cx="164.80" cy="2127.40" r="1.45" fill="none" stroke="#006bb8" stroke-width="1.45"/>
<rect x="188.70" y="2125.70" width="4.7" height="4.7" fill="none" stroke="#a2abba" stroke-width="1.4"/>
<rect x="197.65" y="2125.70" width="4.7" height="4.7" fill="none" stroke="#a2abba" stroke-width="1.4"/>
<rect x="206.60" y="2125.70" width="4.7" height="4.7" fill="none" stroke="#a2abba" stroke-width="1.4"/>
<rect x="605.50" y="2128.10" width="22.00" height="1.70" fill="#343741" />
<rect x="45.70" y="2164.60" width="21.60" height="21.60" rx="5.2" fill="#fff" stroke="#8e9199" stroke-width="1.1"/>
<path d="M109.60 2183.70 L122.50 2168.60 M119.40 2166.20 H124.00 A2 2 0 0 1 126.00 2168.20 V2172.90 M105.90 2179.30 V2184.10 A2 2 0 0 0 107.90 2186.10 H112.60" stroke="#006bb8" stroke-width="1.5" fill="none" stroke-linecap="round" stroke-linejoin="round"/>
<rect x="154.00" y="2164.70" width="6.4" height="5.1" rx="1.3" fill="none" stroke="#006bb8" stroke-width="1.45"/>
<rect x="146.80" y="2181.30" width="6.0" height="4.6" rx="1.1" fill="none" stroke="#006bb8" stroke-width="1.45"/>
<rect x="161.80" y="2181.30" width="6.0" height="4.6" rx="1.1" fill="none" stroke="#006bb8" stroke-width="1.45"/>
<path d="M157.20 2169.80 V2171.80 M149.80 2178.80 V2181.30 M164.80 2178.80 V2181.30 M146.30 2175.40 H148.30 M151.20 2175.40 H155.80 M158.60 2175.40 H163.30 M166.20 2175.40 H168.20" stroke="#006bb8" stroke-width="1.45" fill="none" stroke-linecap="round"/>
<circle cx="149.80" cy="2175.40" r="1.45" fill="none" stroke="#006bb8" stroke-width="1.45"/>
<circle cx="157.20" cy="2175.40" r="1.45" fill="none" stroke="#006bb8" stroke-width="1.45"/>
<circle cx="164.80" cy="2175.40" r="1.45" fill="none" stroke="#006bb8" stroke-width="1.45"/>
<rect x="188.70" y="2173.70" width="4.7" height="4.7" fill="none" stroke="#a2abba" stroke-width="1.4"/>
<rect x="197.65" y="2173.70" width="4.7" height="4.7" fill="none" stroke="#a2abba" stroke-width="1.4"/>
<rect x="206.60" y="2173.70" width="4.7" height="4.7" fill="none" stroke="#a2abba" stroke-width="1.4"/>
<rect x="605.50" y="2176.10" width="22.00" height="1.70" fill="#343741" />
<rect x="815.00" y="1352.00" width="7.04" height="7.04" fill="#378bc7" />
<rect x="822.00" y="1352.00" width="7.04" height="7.04" fill="#388bc8" />
<rect x="829.00" y="1352.00" width="7.04" height="7.04" fill="#378bc8" />
<rect x="836.00" y="1352.00" width="7.04" height="7.04" fill="#3489c7" />
<rect x="843.00" y="1352.00" width="7.04" height="7.04" fill="#358ac7" />
<rect x="871.00" y="1352.00" width="7.04" height="7.04" fill="#afd1e9" />
<rect x="885.00" y="1352.00" width="7.04" height="7.04" fill="#96c2e2" />
<rect x="892.00" y="1352.00" width="7.04" height="7.04" fill="#0e73bc" />
<rect x="913.00" y="1352.00" width="7.04" height="7.04" fill="#0f74bc" />
<rect x="927.00" y="1352.00" width="7.04" height="7.04" fill="#0d73bc" />
<rect x="934.00" y="1352.00" width="7.04" height="7.04" fill="#4593cb" />
<rect x="941.00" y="1352.00" width="7.04" height="7.04" fill="#b2d2ea" />
<rect x="948.00" y="1352.00" width="7.04" height="7.04" fill="#b5d4ea" />
<rect x="955.00" y="1352.00" width="7.04" height="7.04" fill="#9fc7e4" />
<rect x="962.00" y="1352.00" width="7.04" height="7.04" fill="#006bb8" />
<rect x="969.00" y="1352.00" width="7.04" height="7.04" fill="#b2d2ea" />
<rect x="822.00" y="1359.00" width="7.04" height="7.04" fill="#036db9" />
<rect x="850.00" y="1359.00" width="7.04" height="7.04" fill="#3389c6" />
<rect x="857.00" y="1359.00" width="7.04" height="7.04" fill="#368ac7" />
<rect x="864.00" y="1359.00" width="7.04" height="7.04" fill="#73aed8" />
<rect x="878.00" y="1359.00" width="7.04" height="7.04" fill="#016cb8" />
<rect x="885.00" y="1359.00" width="7.04" height="7.04" fill="#94c1e1" />
<rect x="899.00" y="1359.00" width="7.04" height="7.04" fill="#a7cce7" />
<rect x="906.00" y="1359.00" width="7.04" height="7.04" fill="#6aa8d6" />
<rect x="913.00" y="1359.00" width="7.04" height="7.04" fill="#eaf3f9" />
<rect x="920.00" y="1359.00" width="7.04" height="7.04" fill="#3389c6" />
<rect x="934.00" y="1359.00" width="7.04" height="7.04" fill="#3288c6" />
<rect x="941.00" y="1359.00" width="7.04" height="7.04" fill="#227fc2" />
<rect x="962.00" y="1359.00" width="7.04" height="7.04" fill="#1578be" />
<rect x="969.00" y="1359.00" width="7.04" height="7.04" fill="#589fd1" />
<rect x="829.00" y="1401.00" width="7.04" height="7.04" fill="#66a6d4" />
<rect x="836.00" y="1401.00" width="7.04" height="7.04" fill="#c2dcee" />
<rect x="843.00" y="1401.00" width="7.04" height="7.04" fill="#2b84c4" />
<rect x="857.00" y="1401.00" width="7.04" height="7.04" fill="#3d8fc9" />
<rect x="864.00" y="1401.00" width="7.04" height="7.04" fill="#599fd1" />
<rect x="878.00" y="1401.00" width="7.04" height="7.04" fill="#8bbcdf" />
<rect x="885.00" y="1401.00" width="7.04" height="7.04" fill="#368ac7" />
<rect x="892.00" y="1401.00" width="7.04" height="7.04" fill="#589ed1" />
<rect x="899.00" y="1401.00" width="7.04" height="7.04" fill="#adcfe8" />
<rect x="913.00" y="1401.00" width="7.04" height="7.04" fill="#3389c6" />
<rect x="920.00" y="1401.00" width="7.04" height="7.04" fill="#7db4db" />
<rect x="927.00" y="1401.00" width="7.04" height="7.04" fill="#4090ca" />
<rect x="934.00" y="1401.00" width="7.04" height="7.04" fill="#95c2e2" />
<rect x="941.00" y="1401.00" width="7.04" height="7.04" fill="#2480c2" />
<rect x="948.00" y="1401.00" width="7.04" height="7.04" fill="#4b96cd" />
<rect x="955.00" y="1401.00" width="7.04" height="7.04" fill="#076fba" />
<rect x="962.00" y="1401.00" width="7.04" height="7.04" fill="#87b9de" />
<rect x="822.00" y="1408.00" width="7.04" height="7.04" fill="#8fbee0" />
<rect x="836.00" y="1408.00" width="7.04" height="7.04" fill="#1577be" />
<rect x="857.00" y="1408.00" width="7.04" height="7.04" fill="#3288c6" />
<rect x="864.00" y="1408.00" width="7.04" height="7.04" fill="#97c3e2" />
<rect x="871.00" y="1408.00" width="7.04" height="7.04" fill="#1c7cc0" />
<rect x="885.00" y="1408.00" width="7.04" height="7.04" fill="#368ac7" />
<rect x="892.00" y="1408.00" width="7.04" height="7.04" fill="#b1d2ea" />
<rect x="899.00" y="1408.00" width="7.04" height="7.04" fill="#5a9fd1" />
<rect x="913.00" y="1408.00" width="7.04" height="7.04" fill="#95c2e2" />
<rect x="927.00" y="1408.00" width="7.04" height="7.04" fill="#4191ca" />
<rect x="934.00" y="1408.00" width="7.04" height="7.04" fill="#85b8dd" />
<rect x="948.00" y="1408.00" width="7.04" height="7.04" fill="#1979bf" />
<rect x="955.00" y="1408.00" width="7.04" height="7.04" fill="#a1c9e5" />
<rect x="871.00" y="1415.00" width="7.04" height="7.04" fill="#3e8fca" />
<rect x="822.00" y="1450.00" width="7.04" height="7.04" fill="#ebf4fa" />
<rect x="836.00" y="1450.00" width="7.04" height="7.04" fill="#68a7d5" />
<rect x="843.00" y="1450.00" width="7.04" height="7.04" fill="#3c8ec9" />
<rect x="850.00" y="1450.00" width="7.04" height="7.04" fill="#d2e5f3" />
<rect x="857.00" y="1450.00" width="7.04" height="7.04" fill="#bedaed" />
<rect x="864.00" y="1450.00" width="7.04" height="7.04" fill="#4492cb" />
<rect x="871.00" y="1450.00" width="7.04" height="7.04" fill="#f2f7fb" />
<rect x="885.00" y="1450.00" width="7.04" height="7.04" fill="#dcebf6" />
<rect x="892.00" y="1450.00" width="7.04" height="7.04" fill="#bbd8ec" />
<rect x="899.00" y="1450.00" width="7.04" height="7.04" fill="#1175bd" />
<rect x="906.00" y="1450.00" width="7.04" height="7.04" fill="#076fba" />
<rect x="913.00" y="1450.00" width="7.04" height="7.04" fill="#ebf4fa" />
<rect x="934.00" y="1450.00" width="7.04" height="7.04" fill="#60a3d3" />
<rect x="829.00" y="1457.00" width="7.04" height="7.04" fill="#eaf3f9" />
<rect x="836.00" y="1457.00" width="7.04" height="7.04" fill="#046eb9" />
<rect x="843.00" y="1457.00" width="7.04" height="7.04" fill="#3288c6" />
<rect x="857.00" y="1457.00" width="7.04" height="7.04" fill="#8ebde0" />
<rect x="864.00" y="1457.00" width="7.04" height="7.04" fill="#4492cb" />
<rect x="885.00" y="1457.00" width="7.04" height="7.04" fill="#84b8dd" />
<rect x="892.00" y="1457.00" width="7.04" height="7.04" fill="#b1d2ea" />
<rect x="899.00" y="1457.00" width="7.04" height="7.04" fill="#4d98ce" />
<rect x="906.00" y="1457.00" width="7.04" height="7.04" fill="#006bb8" />
<rect x="920.00" y="1457.00" width="7.04" height="7.04" fill="#eaf3f9" />
<rect x="934.00" y="1457.00" width="7.04" height="7.04" fill="#60a3d3" />
<rect x="899.00" y="1464.00" width="7.04" height="7.04" fill="#2480c2" />
<rect x="906.00" y="1464.00" width="7.04" height="7.04" fill="#7bb2da" />
<rect x="850.00" y="1492.00" width="7.04" height="7.04" fill="#4492cb" />
<rect x="892.00" y="1492.00" width="7.04" height="7.04" fill="#4694cc" />
<rect x="934.00" y="1492.00" width="7.04" height="7.04" fill="#2c84c4" />
<rect x="822.00" y="1499.00" width="7.04" height="7.04" fill="#4c97cd" />
<rect x="829.00" y="1499.00" width="7.04" height="7.04" fill="#4392cb" />
<rect x="836.00" y="1499.00" width="7.04" height="7.04" fill="#4593cb" />
<rect x="850.00" y="1499.00" width="7.04" height="7.04" fill="#4492cb" />
<rect x="864.00" y="1499.00" width="7.04" height="7.04" fill="#2882c3" />
<rect x="871.00" y="1499.00" width="7.04" height="7.04" fill="#66a6d5" />
<rect x="892.00" y="1499.00" width="7.04" height="7.04" fill="#4694cc" />
<rect x="899.00" y="1499.00" width="7.04" height="7.04" fill="#e2eef7" />
<rect x="913.00" y="1499.00" width="7.04" height="7.04" fill="#076fba" />
<rect x="920.00" y="1499.00" width="7.04" height="7.04" fill="#1376be" />
<rect x="934.00" y="1499.00" width="7.04" height="7.04" fill="#4694cc" />
<rect x="948.00" y="1499.00" width="7.04" height="7.04" fill="#358ac7" />
<rect x="955.00" y="1499.00" width="7.04" height="7.04" fill="#abcee8" />
<rect x="822.00" y="1506.00" width="7.04" height="7.04" fill="#4c97cd" />
<rect x="829.00" y="1506.00" width="7.04" height="7.04" fill="#5099ce" />
<rect x="836.00" y="1506.00" width="7.04" height="7.04" fill="#529bcf" />
<rect x="850.00" y="1506.00" width="7.04" height="7.04" fill="#4492cb" />
<rect x="864.00" y="1506.00" width="7.04" height="7.04" fill="#4e98ce" />
<rect x="871.00" y="1506.00" width="7.04" height="7.04" fill="#1e7dc0" />
<rect x="892.00" y="1506.00" width="7.04" height="7.04" fill="#4694cc" />
<rect x="899.00" y="1506.00" width="7.04" height="7.04" fill="#1e7cc0" />
<rect x="913.00" y="1506.00" width="7.04" height="7.04" fill="#3288c6" />
<rect x="920.00" y="1506.00" width="7.04" height="7.04" fill="#227fc2" />
<rect x="934.00" y="1506.00" width="7.04" height="7.04" fill="#4694cc" />
<rect x="948.00" y="1506.00" width="7.04" height="7.04" fill="#6daad6" />
<rect x="955.00" y="1506.00" width="7.04" height="7.04" fill="#67a7d5" />
<rect x="871.00" y="1513.00" width="7.04" height="7.04" fill="#9bc5e3" />
<rect x="822.00" y="1541.00" width="7.04" height="7.04" fill="#4f99ce" />
<rect x="864.00" y="1541.00" width="7.04" height="7.04" fill="#9bc5e3" />
<rect x="878.00" y="1541.00" width="7.04" height="7.04" fill="#4694cc" />
<rect x="962.00" y="1541.00" width="7.04" height="7.04" fill="#9bc5e3" />
<rect x="976.00" y="1541.00" width="7.04" height="7.04" fill="#83b8dd" />
<rect x="815.00" y="1548.00" width="7.04" height="7.04" fill="#9dc7e4" />
<rect x="822.00" y="1548.00" width="7.04" height="7.04" fill="#4492cb" />
<rect x="836.00" y="1548.00" width="7.04" height="7.04" fill="#2380c2" />
<rect x="843.00" y="1548.00" width="7.04" height="7.04" fill="#217ec1" />
<rect x="850.00" y="1548.00" width="7.04" height="7.04" fill="#2f86c5" />
<rect x="857.00" y="1548.00" width="7.04" height="7.04" fill="#0f74bc" />
<rect x="864.00" y="1548.00" width="7.04" height="7.04" fill="#88bade" />
<rect x="878.00" y="1548.00" width="7.04" height="7.04" fill="#1b7bc0" />
<rect x="885.00" y="1548.00" width="7.04" height="7.04" fill="#c7dff0" />
<rect x="899.00" y="1548.00" width="7.04" height="7.04" fill="#006bb8" />
<rect x="927.00" y="1548.00" width="7.04" height="7.04" fill="#0f74bc" />
<rect x="941.00" y="1548.00" width="7.04" height="7.04" fill="#e4eff8" />
<rect x="948.00" y="1548.00" width="7.04" height="7.04" fill="#1d7cc0" />
<rect x="962.00" y="1548.00" width="7.04" height="7.04" fill="#9bc5e3" />
<rect x="976.00" y="1548.00" width="7.04" height="7.04" fill="#0c72bb" />
<rect x="815.00" y="1555.00" width="7.04" height="7.04" fill="#3288c6" />
<rect x="822.00" y="1555.00" width="7.04" height="7.04" fill="#4090ca" />
<rect x="829.00" y="1555.00" width="7.04" height="7.04" fill="#63a5d4" />
<rect x="836.00" y="1555.00" width="7.04" height="7.04" fill="#3288c6" />
<rect x="843.00" y="1555.00" width="7.04" height="7.04" fill="#3087c5" />
<rect x="850.00" y="1555.00" width="7.04" height="7.04" fill="#2e86c5" />
<rect x="857.00" y="1555.00" width="7.04" height="7.04" fill="#94c1e1" />
<rect x="864.00" y="1555.00" width="7.04" height="7.04" fill="#4694cc" />
<rect x="871.00" y="1555.00" width="7.04" height="7.04" fill="#2b84c4" />
<rect x="878.00" y="1555.00" width="7.04" height="7.04" fill="#4593cb" />
<rect x="885.00" y="1555.00" width="7.04" height="7.04" fill="#0870ba" />
<rect x="892.00" y="1555.00" width="7.04" height="7.04" fill="#036db9" />
<rect x="899.00" y="1555.00" width="7.04" height="7.04" fill="#1c7bc0" />
<rect x="920.00" y="1555.00" width="7.04" height="7.04" fill="#3288c6" />
<rect x="927.00" y="1555.00" width="7.04" height="7.04" fill="#2d85c5" />
<rect x="934.00" y="1555.00" width="7.04" height="7.04" fill="#4090ca" />
<rect x="941.00" y="1555.00" width="7.04" height="7.04" fill="#036db9" />
<rect x="948.00" y="1555.00" width="7.04" height="7.04" fill="#a3cae5" />
<rect x="962.00" y="1555.00" width="7.04" height="7.04" fill="#207ec1" />
<rect x="969.00" y="1555.00" width="7.04" height="7.04" fill="#1f7dc1" />
<rect x="976.00" y="1555.00" width="7.04" height="7.04" fill="#4794cc" />
<rect x="843.00" y="1590.00" width="7.04" height="7.04" fill="#368ac7" />
<rect x="815.00" y="1597.00" width="7.04" height="7.04" fill="#84b8dd" />
<rect x="822.00" y="1597.00" width="7.04" height="7.04" fill="#006bb8" />
<rect x="829.00" y="1597.00" width="7.04" height="7.04" fill="#006bb8" />
<rect x="836.00" y="1597.00" width="7.04" height="7.04" fill="#006bb8" />
<rect x="843.00" y="1597.00" width="7.04" height="7.04" fill="#3489c7" />
<rect x="857.00" y="1597.00" width="7.04" height="7.04" fill="#0a71bb" />
<rect x="864.00" y="1597.00" width="7.04" height="7.04" fill="#84b8dd" />
<rect x="871.00" y="1597.00" width="7.04" height="7.04" fill="#006bb8" />
<rect x="885.00" y="1597.00" width="7.04" height="7.04" fill="#c3dcef" />
<rect x="892.00" y="1597.00" width="7.04" height="7.04" fill="#e5f0f8" />
<rect x="906.00" y="1597.00" width="7.04" height="7.04" fill="#2983c4" />
<rect x="920.00" y="1597.00" width="7.04" height="7.04" fill="#a5cbe6" />
<rect x="927.00" y="1597.00" width="7.04" height="7.04" fill="#2b84c4" />
<rect x="934.00" y="1597.00" width="7.04" height="7.04" fill="#cbe1f1" />
<rect x="955.00" y="1597.00" width="7.04" height="7.04" fill="#2983c4" />
<rect x="962.00" y="1597.00" width="7.04" height="7.04" fill="#2b84c4" />
<rect x="969.00" y="1597.00" width="7.04" height="7.04" fill="#cbe1f1" />
<rect x="815.00" y="1604.00" width="7.04" height="7.04" fill="#006bb8" />
<rect x="822.00" y="1604.00" width="7.04" height="7.04" fill="#e0edf6" />
<rect x="829.00" y="1604.00" width="7.04" height="7.04" fill="#e5f0f8" />
<rect x="836.00" y="1604.00" width="7.04" height="7.04" fill="#0d73bc" />
<rect x="843.00" y="1604.00" width="7.04" height="7.04" fill="#368ac7" />
<rect x="850.00" y="1604.00" width="7.04" height="7.04" fill="#056eb9" />
<rect x="857.00" y="1604.00" width="7.04" height="7.04" fill="#70acd7" />
<rect x="871.00" y="1604.00" width="7.04" height="7.04" fill="#3a8dc8" />
<rect x="885.00" y="1604.00" width="7.04" height="7.04" fill="#d9e9f5" />
<rect x="892.00" y="1604.00" width="7.04" height="7.04" fill="#569dd0" />
<rect x="899.00" y="1604.00" width="7.04" height="7.04" fill="#0b72bb" />
<rect x="906.00" y="1604.00" width="7.04" height="7.04" fill="#3288c6" />
<rect x="920.00" y="1604.00" width="7.04" height="7.04" fill="#1c7cc0" />
<rect x="927.00" y="1604.00" width="7.04" height="7.04" fill="#0e73bc" />
<rect x="934.00" y="1604.00" width="7.04" height="7.04" fill="#1c7bc0" />
<rect x="955.00" y="1604.00" width="7.04" height="7.04" fill="#3288c6" />
<rect x="962.00" y="1604.00" width="7.04" height="7.04" fill="#0e73bc" />
<rect x="969.00" y="1604.00" width="7.04" height="7.04" fill="#1c7bc0" />
<rect x="941.00" y="1639.00" width="7.04" height="7.04" fill="#9cc6e4" />
<rect x="836.00" y="1646.00" width="7.04" height="7.04" fill="#97c3e2" />
<rect x="843.00" y="1646.00" width="7.04" height="7.04" fill="#87b9de" />
<rect x="857.00" y="1646.00" width="7.04" height="7.04" fill="#76b0d9" />
<rect x="871.00" y="1646.00" width="7.04" height="7.04" fill="#73aed8" />
<rect x="878.00" y="1646.00" width="7.04" height="7.04" fill="#599fd1" />
<rect x="892.00" y="1646.00" width="7.04" height="7.04" fill="#d9e9f5" />
<rect x="899.00" y="1646.00" width="7.04" height="7.04" fill="#add0e8" />
<rect x="920.00" y="1646.00" width="7.04" height="7.04" fill="#76b0d9" />
<rect x="927.00" y="1646.00" width="7.04" height="7.04" fill="#006bb8" />
<rect x="815.00" y="1688.00" width="7.04" height="7.04" fill="#378bc7" />
<rect x="822.00" y="1688.00" width="7.04" height="7.04" fill="#388bc8" />
<rect x="829.00" y="1688.00" width="7.04" height="7.04" fill="#378bc8" />
<rect x="836.00" y="1688.00" width="7.04" height="7.04" fill="#3489c7" />
<rect x="843.00" y="1688.00" width="7.04" height="7.04" fill="#358ac7" />
<rect x="871.00" y="1688.00" width="7.04" height="7.04" fill="#afd1e9" />
<rect x="885.00" y="1688.00" width="7.04" height="7.04" fill="#96c2e2" />
<rect x="892.00" y="1688.00" width="7.04" height="7.04" fill="#0e73bc" />
<rect x="913.00" y="1688.00" width="7.04" height="7.04" fill="#0f74bc" />
<rect x="927.00" y="1688.00" width="7.04" height="7.04" fill="#0d73bc" />
<rect x="934.00" y="1688.00" width="7.04" height="7.04" fill="#4593cb" />
<rect x="941.00" y="1688.00" width="7.04" height="7.04" fill="#b2d2ea" />
<rect x="948.00" y="1688.00" width="7.04" height="7.04" fill="#b5d4ea" />
<rect x="955.00" y="1688.00" width="7.04" height="7.04" fill="#9fc7e4" />
<rect x="962.00" y="1688.00" width="7.04" height="7.04" fill="#006bb8" />
<rect x="969.00" y="1688.00" width="7.04" height="7.04" fill="#b2d2ea" />
<rect x="822.00" y="1695.00" width="7.04" height="7.04" fill="#036db9" />
<rect x="850.00" y="1695.00" width="7.04" height="7.04" fill="#3389c6" />
<rect x="857.00" y="1695.00" width="7.04" height="7.04" fill="#368ac7" />
<rect x="864.00" y="1695.00" width="7.04" height="7.04" fill="#73aed8" />
<rect x="878.00" y="1695.00" width="7.04" height="7.04" fill="#016cb8" />
<rect x="885.00" y="1695.00" width="7.04" height="7.04" fill="#94c1e1" />
<rect x="899.00" y="1695.00" width="7.04" height="7.04" fill="#a7cce7" />
<rect x="906.00" y="1695.00" width="7.04" height="7.04" fill="#6aa8d6" />
<rect x="913.00" y="1695.00" width="7.04" height="7.04" fill="#eaf3f9" />
<rect x="920.00" y="1695.00" width="7.04" height="7.04" fill="#3389c6" />
<rect x="934.00" y="1695.00" width="7.04" height="7.04" fill="#3288c6" />
<rect x="941.00" y="1695.00" width="7.04" height="7.04" fill="#227fc2" />
<rect x="962.00" y="1695.00" width="7.04" height="7.04" fill="#1578be" />
<rect x="969.00" y="1695.00" width="7.04" height="7.04" fill="#589fd1" />
<rect x="829.00" y="1737.00" width="7.04" height="7.04" fill="#66a6d4" />
<rect x="836.00" y="1737.00" width="7.04" height="7.04" fill="#c2dcee" />
<rect x="843.00" y="1737.00" width="7.04" height="7.04" fill="#2b84c4" />
<rect x="857.00" y="1737.00" width="7.04" height="7.04" fill="#3d8fc9" />
<rect x="864.00" y="1737.00" width="7.04" height="7.04" fill="#599fd1" />
<rect x="878.00" y="1737.00" width="7.04" height="7.04" fill="#8bbcdf" />
<rect x="885.00" y="1737.00" width="7.04" height="7.04" fill="#368ac7" />
<rect x="892.00" y="1737.00" width="7.04" height="7.04" fill="#589ed1" />
<rect x="899.00" y="1737.00" width="7.04" height="7.04" fill="#adcfe8" />
<rect x="913.00" y="1737.00" width="7.04" height="7.04" fill="#3389c6" />
<rect x="920.00" y="1737.00" width="7.04" height="7.04" fill="#7db4db" />
<rect x="927.00" y="1737.00" width="7.04" height="7.04" fill="#4090ca" />
<rect x="934.00" y="1737.00" width="7.04" height="7.04" fill="#95c2e2" />
<rect x="941.00" y="1737.00" width="7.04" height="7.04" fill="#2480c2" />
<rect x="948.00" y="1737.00" width="7.04" height="7.04" fill="#4b96cd" />
<rect x="955.00" y="1737.00" width="7.04" height="7.04" fill="#076fba" />
<rect x="962.00" y="1737.00" width="7.04" height="7.04" fill="#87b9de" />
<rect x="822.00" y="1744.00" width="7.04" height="7.04" fill="#8fbee0" />
<rect x="836.00" y="1744.00" width="7.04" height="7.04" fill="#1577be" />
<rect x="857.00" y="1744.00" width="7.04" height="7.04" fill="#3288c6" />
<rect x="864.00" y="1744.00" width="7.04" height="7.04" fill="#97c3e2" />
<rect x="871.00" y="1744.00" width="7.04" height="7.04" fill="#1c7cc0" />
<rect x="885.00" y="1744.00" width="7.04" height="7.04" fill="#368ac7" />
<rect x="892.00" y="1744.00" width="7.04" height="7.04" fill="#b1d2ea" />
<rect x="899.00" y="1744.00" width="7.04" height="7.04" fill="#5a9fd1" />
<rect x="913.00" y="1744.00" width="7.04" height="7.04" fill="#95c2e2" />
<rect x="927.00" y="1744.00" width="7.04" height="7.04" fill="#4191ca" />
<rect x="934.00" y="1744.00" width="7.04" height="7.04" fill="#85b8dd" />
<rect x="948.00" y="1744.00" width="7.04" height="7.04" fill="#1979bf" />
<rect x="955.00" y="1744.00" width="7.04" height="7.04" fill="#a1c9e5" />
<rect x="871.00" y="1751.00" width="7.04" height="7.04" fill="#3e8fca" />
<rect x="815.00" y="1786.00" width="7.04" height="7.04" fill="#b2d3ea" />
<rect x="836.00" y="1786.00" width="7.04" height="7.04" fill="#69a8d6" />
<rect x="843.00" y="1786.00" width="7.04" height="7.04" fill="#1577be" />
<rect x="857.00" y="1786.00" width="7.04" height="7.04" fill="#1275bd" />
<rect x="864.00" y="1786.00" width="7.04" height="7.04" fill="#97c3e2" />
<rect x="871.00" y="1786.00" width="7.04" height="7.04" fill="#f2f7fb" />
<rect x="878.00" y="1786.00" width="7.04" height="7.04" fill="#b9d6ec" />
<rect x="885.00" y="1786.00" width="7.04" height="7.04" fill="#368ac7" />
<rect x="892.00" y="1786.00" width="7.04" height="7.04" fill="#3b8dc9" />
<rect x="899.00" y="1786.00" width="7.04" height="7.04" fill="#79b1da" />
<rect x="913.00" y="1786.00" width="7.04" height="7.04" fill="#1275bd" />
<rect x="920.00" y="1786.00" width="7.04" height="7.04" fill="#d1e5f2" />
<rect x="927.00" y="1786.00" width="7.04" height="7.04" fill="#4090ca" />
<rect x="934.00" y="1786.00" width="7.04" height="7.04" fill="#95c2e2" />
<rect x="941.00" y="1786.00" width="7.04" height="7.04" fill="#b0d1e9" />
<rect x="948.00" y="1786.00" width="7.04" height="7.04" fill="#3e8fc9" />
<rect x="955.00" y="1786.00" width="7.04" height="7.04" fill="#67a7d5" />
<rect x="822.00" y="1793.00" width="7.04" height="7.04" fill="#7bb3da" />
<rect x="836.00" y="1793.00" width="7.04" height="7.04" fill="#3489c7" />
<rect x="843.00" y="1793.00" width="7.04" height="7.04" fill="#5fa2d3" />
<rect x="857.00" y="1793.00" width="7.04" height="7.04" fill="#3288c6" />
<rect x="864.00" y="1793.00" width="7.04" height="7.04" fill="#97c3e2" />
<rect x="871.00" y="1793.00" width="7.04" height="7.04" fill="#4c97cd" />
<rect x="885.00" y="1793.00" width="7.04" height="7.04" fill="#368ac7" />
<rect x="892.00" y="1793.00" width="7.04" height="7.04" fill="#b1d2ea" />
<rect x="899.00" y="1793.00" width="7.04" height="7.04" fill="#5a9fd1" />
<rect x="913.00" y="1793.00" width="7.04" height="7.04" fill="#4392cb" />
<rect x="927.00" y="1793.00" width="7.04" height="7.04" fill="#4794cc" />
<rect x="934.00" y="1793.00" width="7.04" height="7.04" fill="#62a4d4" />
<rect x="948.00" y="1793.00" width="7.04" height="7.04" fill="#2882c3" />
<rect x="955.00" y="1793.00" width="7.04" height="7.04" fill="#a1c9e5" />
<rect x="871.00" y="1800.00" width="7.04" height="7.04" fill="#0d73bc" />
<rect x="990.00" y="1828.00" width="7.04" height="7.04" fill="#62a4d3" />
<rect x="815.00" y="1835.00" width="7.04" height="7.04" fill="#edf5fa" />
<rect x="822.00" y="1835.00" width="7.04" height="7.04" fill="#4090ca" />
<rect x="829.00" y="1835.00" width="7.04" height="7.04" fill="#95c2e2" />
<rect x="843.00" y="1835.00" width="7.04" height="7.04" fill="#c4ddef" />
<rect x="850.00" y="1835.00" width="7.04" height="7.04" fill="#b3d3ea" />
<rect x="857.00" y="1835.00" width="7.04" height="7.04" fill="#6daad6" />
<rect x="871.00" y="1835.00" width="7.04" height="7.04" fill="#ecf4fa" />
<rect x="885.00" y="1835.00" width="7.04" height="7.04" fill="#3d8fc9" />
<rect x="892.00" y="1835.00" width="7.04" height="7.04" fill="#2681c3" />
<rect x="899.00" y="1835.00" width="7.04" height="7.04" fill="#388cc8" />
<rect x="906.00" y="1835.00" width="7.04" height="7.04" fill="#6dabd7" />
<rect x="934.00" y="1835.00" width="7.04" height="7.04" fill="#549cd0" />
<rect x="941.00" y="1835.00" width="7.04" height="7.04" fill="#c3dcee" />
<rect x="948.00" y="1835.00" width="7.04" height="7.04" fill="#c5ddef" />
<rect x="962.00" y="1835.00" width="7.04" height="7.04" fill="#1c7bc0" />
<rect x="976.00" y="1835.00" width="7.04" height="7.04" fill="#4c97cd" />
<rect x="983.00" y="1835.00" width="7.04" height="7.04" fill="#c7def0" />
<rect x="990.00" y="1835.00" width="7.04" height="7.04" fill="#62a4d3" />
<rect x="822.00" y="1842.00" width="7.04" height="7.04" fill="#3288c6" />
<rect x="829.00" y="1842.00" width="7.04" height="7.04" fill="#217fc2" />
<rect x="843.00" y="1842.00" width="7.04" height="7.04" fill="#6eabd7" />
<rect x="850.00" y="1842.00" width="7.04" height="7.04" fill="#0c72bc" />
<rect x="857.00" y="1842.00" width="7.04" height="7.04" fill="#1a7ac0" />
<rect x="864.00" y="1842.00" width="7.04" height="7.04" fill="#97c3e2" />
<rect x="871.00" y="1842.00" width="7.04" height="7.04" fill="#61a4d3" />
<rect x="885.00" y="1842.00" width="7.04" height="7.04" fill="#0870bb" />
<rect x="892.00" y="1842.00" width="7.04" height="7.04" fill="#0970bb" />
<rect x="899.00" y="1842.00" width="7.04" height="7.04" fill="#dae9f5" />
<rect x="906.00" y="1842.00" width="7.04" height="7.04" fill="#92c0e1" />
<rect x="927.00" y="1842.00" width="7.04" height="7.04" fill="#cfe3f2" />
<rect x="934.00" y="1842.00" width="7.04" height="7.04" fill="#4694cc" />
<rect x="941.00" y="1842.00" width="7.04" height="7.04" fill="#cfe3f2" />
<rect x="948.00" y="1842.00" width="7.04" height="7.04" fill="#d1e5f2" />
<rect x="962.00" y="1842.00" width="7.04" height="7.04" fill="#0e73bc" />
<rect x="976.00" y="1842.00" width="7.04" height="7.04" fill="#4c97cd" />
<rect x="983.00" y="1842.00" width="7.04" height="7.04" fill="#86b9de" />
<rect x="990.00" y="1842.00" width="7.04" height="7.04" fill="#62a4d3" />
<rect x="857.00" y="1877.00" width="7.04" height="7.04" fill="#b5d4eb" />
<rect x="843.00" y="1884.00" width="7.04" height="7.04" fill="#1577be" />
<rect x="850.00" y="1884.00" width="7.04" height="7.04" fill="#cae0f0" />
<rect x="857.00" y="1884.00" width="7.04" height="7.04" fill="#b5d4eb" />
<rect x="864.00" y="1884.00" width="7.04" height="7.04" fill="#95c1e2" />
<rect x="878.00" y="1884.00" width="7.04" height="7.04" fill="#a1c8e5" />
<rect x="885.00" y="1884.00" width="7.04" height="7.04" fill="#5ba0d1" />
<rect x="899.00" y="1884.00" width="7.04" height="7.04" fill="#4694cc" />
<rect x="906.00" y="1884.00" width="7.04" height="7.04" fill="#c7dff0" />
<rect x="920.00" y="1884.00" width="7.04" height="7.04" fill="#aacee8" />
<rect x="927.00" y="1884.00" width="7.04" height="7.04" fill="#a1c8e5" />
<rect x="934.00" y="1884.00" width="7.04" height="7.04" fill="#5ba0d1" />
<rect x="843.00" y="1891.00" width="7.04" height="7.04" fill="#c9e0f0" />
<rect x="850.00" y="1891.00" width="7.04" height="7.04" fill="#046eb9" />
<rect x="857.00" y="1891.00" width="7.04" height="7.04" fill="#b5d4eb" />
<rect x="871.00" y="1891.00" width="7.04" height="7.04" fill="#2a83c4" />
<rect x="878.00" y="1891.00" width="7.04" height="7.04" fill="#b1d2ea" />
<rect x="885.00" y="1891.00" width="7.04" height="7.04" fill="#5a9fd1" />
<rect x="892.00" y="1891.00" width="7.04" height="7.04" fill="#3d8fc9" />
<rect x="899.00" y="1891.00" width="7.04" height="7.04" fill="#4694cc" />
<rect x="906.00" y="1891.00" width="7.04" height="7.04" fill="#0870ba" />
<rect x="913.00" y="1891.00" width="7.04" height="7.04" fill="#378bc7" />
<rect x="927.00" y="1891.00" width="7.04" height="7.04" fill="#b1d2ea" />
<rect x="934.00" y="1891.00" width="7.04" height="7.04" fill="#5a9fd1" />
<rect x="941.00" y="1891.00" width="7.04" height="7.04" fill="#97c3e3" />
<rect x="948.00" y="1891.00" width="7.04" height="7.04" fill="#8cbcdf" />
<rect x="955.00" y="1891.00" width="7.04" height="7.04" fill="#4794cc" />
<rect x="843.00" y="1926.00" width="7.04" height="7.04" fill="#368ac7" />
<rect x="815.00" y="1933.00" width="7.04" height="7.04" fill="#84b8dd" />
<rect x="822.00" y="1933.00" width="7.04" height="7.04" fill="#006bb8" />
<rect x="829.00" y="1933.00" width="7.04" height="7.04" fill="#006bb8" />
<rect x="836.00" y="1933.00" width="7.04" height="7.04" fill="#006bb8" />
<rect x="843.00" y="1933.00" width="7.04" height="7.04" fill="#3489c7" />
<rect x="857.00" y="1933.00" width="7.04" height="7.04" fill="#0a71bb" />
<rect x="864.00" y="1933.00" width="7.04" height="7.04" fill="#84b8dd" />
<rect x="871.00" y="1933.00" width="7.04" height="7.04" fill="#006bb8" />
<rect x="885.00" y="1933.00" width="7.04" height="7.04" fill="#c3dcef" />
<rect x="892.00" y="1933.00" width="7.04" height="7.04" fill="#e5f0f8" />
<rect x="906.00" y="1933.00" width="7.04" height="7.04" fill="#2983c4" />
<rect x="920.00" y="1933.00" width="7.04" height="7.04" fill="#a5cbe6" />
<rect x="927.00" y="1933.00" width="7.04" height="7.04" fill="#2b84c4" />
<rect x="934.00" y="1933.00" width="7.04" height="7.04" fill="#cbe1f1" />
<rect x="955.00" y="1933.00" width="7.04" height="7.04" fill="#2983c4" />
<rect x="962.00" y="1933.00" width="7.04" height="7.04" fill="#2b84c4" />
<rect x="969.00" y="1933.00" width="7.04" height="7.04" fill="#cbe1f1" />
<rect x="815.00" y="1940.00" width="7.04" height="7.04" fill="#006bb8" />
<rect x="822.00" y="1940.00" width="7.04" height="7.04" fill="#e0edf6" />
<rect x="829.00" y="1940.00" width="7.04" height="7.04" fill="#e5f0f8" />
<rect x="836.00" y="1940.00" width="7.04" height="7.04" fill="#0d73bc" />
<rect x="843.00" y="1940.00" width="7.04" height="7.04" fill="#368ac7" />
<rect x="850.00" y="1940.00" width="7.04" height="7.04" fill="#056eb9" />
<rect x="857.00" y="1940.00" width="7.04" height="7.04" fill="#70acd7" />
<rect x="871.00" y="1940.00" width="7.04" height="7.04" fill="#3a8dc8" />
<rect x="885.00" y="1940.00" width="7.04" height="7.04" fill="#d9e9f5" />
<rect x="892.00" y="1940.00" width="7.04" height="7.04" fill="#569dd0" />
<rect x="899.00" y="1940.00" width="7.04" height="7.04" fill="#0b72bb" />
<rect x="906.00" y="1940.00" width="7.04" height="7.04" fill="#3288c6" />
<rect x="920.00" y="1940.00" width="7.04" height="7.04" fill="#1c7cc0" />
<rect x="927.00" y="1940.00" width="7.04" height="7.04" fill="#0e73bc" />
<rect x="934.00" y="1940.00" width="7.04" height="7.04" fill="#1c7bc0" />
<rect x="955.00" y="1940.00" width="7.04" height="7.04" fill="#3288c6" />
<rect x="962.00" y="1940.00" width="7.04" height="7.04" fill="#0e73bc" />
<rect x="969.00" y="1940.00" width="7.04" height="7.04" fill="#1c7bc0" />
<rect x="850.00" y="1975.00" width="7.04" height="7.04" fill="#61a4d3" />
<rect x="857.00" y="1975.00" width="7.04" height="7.04" fill="#7bb2db" />
<rect x="871.00" y="1975.00" width="7.04" height="7.04" fill="#2983c4" />
<rect x="976.00" y="1975.00" width="7.04" height="7.04" fill="#0e73bc" />
<rect x="815.00" y="1982.00" width="7.04" height="7.04" fill="#c5ddef" />
<rect x="822.00" y="1982.00" width="7.04" height="7.04" fill="#88bade" />
<rect x="829.00" y="1982.00" width="7.04" height="7.04" fill="#388bc8" />
<rect x="843.00" y="1982.00" width="7.04" height="7.04" fill="#006bb8" />
<rect x="885.00" y="1982.00" width="7.04" height="7.04" fill="#378bc8" />
<rect x="892.00" y="1982.00" width="7.04" height="7.04" fill="#006bb8" />
<rect x="899.00" y="1982.00" width="7.04" height="7.04" fill="#4895cc" />
<rect x="906.00" y="1982.00" width="7.04" height="7.04" fill="#4c97cd" />
<rect x="913.00" y="1982.00" width="7.04" height="7.04" fill="#2580c2" />
<rect x="920.00" y="1982.00" width="7.04" height="7.04" fill="#ecf4fa" />
<rect x="927.00" y="1982.00" width="7.04" height="7.04" fill="#006bb8" />
<rect x="934.00" y="1982.00" width="7.04" height="7.04" fill="#73aed8" />
<rect x="941.00" y="1982.00" width="7.04" height="7.04" fill="#4794cc" />
<rect x="955.00" y="1982.00" width="7.04" height="7.04" fill="#1678be" />
<rect x="962.00" y="1982.00" width="7.04" height="7.04" fill="#81b6dc" />
<rect x="969.00" y="1982.00" width="7.04" height="7.04" fill="#4090ca" />
<rect x="976.00" y="1982.00" width="7.04" height="7.04" fill="#0e73bc" />
<rect x="815.00" y="2024.00" width="7.04" height="7.04" fill="#378bc7" />
<rect x="822.00" y="2024.00" width="7.04" height="7.04" fill="#388bc8" />
<rect x="829.00" y="2024.00" width="7.04" height="7.04" fill="#378bc8" />
<rect x="836.00" y="2024.00" width="7.04" height="7.04" fill="#3489c7" />
<rect x="843.00" y="2024.00" width="7.04" height="7.04" fill="#358ac7" />
<rect x="871.00" y="2024.00" width="7.04" height="7.04" fill="#afd1e9" />
<rect x="885.00" y="2024.00" width="7.04" height="7.04" fill="#96c2e2" />
<rect x="892.00" y="2024.00" width="7.04" height="7.04" fill="#0e73bc" />
<rect x="913.00" y="2024.00" width="7.04" height="7.04" fill="#0f74bc" />
<rect x="927.00" y="2024.00" width="7.04" height="7.04" fill="#0d73bc" />
<rect x="934.00" y="2024.00" width="7.04" height="7.04" fill="#4593cb" />
<rect x="941.00" y="2024.00" width="7.04" height="7.04" fill="#b2d2ea" />
<rect x="948.00" y="2024.00" width="7.04" height="7.04" fill="#b5d4ea" />
<rect x="955.00" y="2024.00" width="7.04" height="7.04" fill="#9fc7e4" />
<rect x="962.00" y="2024.00" width="7.04" height="7.04" fill="#006bb8" />
<rect x="969.00" y="2024.00" width="7.04" height="7.04" fill="#b2d2ea" />
<rect x="822.00" y="2031.00" width="7.04" height="7.04" fill="#036db9" />
<rect x="850.00" y="2031.00" width="7.04" height="7.04" fill="#3389c6" />
<rect x="857.00" y="2031.00" width="7.04" height="7.04" fill="#368ac7" />
<rect x="864.00" y="2031.00" width="7.04" height="7.04" fill="#73aed8" />
<rect x="878.00" y="2031.00" width="7.04" height="7.04" fill="#016cb8" />
<rect x="885.00" y="2031.00" width="7.04" height="7.04" fill="#94c1e1" />
<rect x="899.00" y="2031.00" width="7.04" height="7.04" fill="#a7cce7" />
<rect x="906.00" y="2031.00" width="7.04" height="7.04" fill="#6aa8d6" />
<rect x="913.00" y="2031.00" width="7.04" height="7.04" fill="#eaf3f9" />
<rect x="920.00" y="2031.00" width="7.04" height="7.04" fill="#3389c6" />
<rect x="934.00" y="2031.00" width="7.04" height="7.04" fill="#3288c6" />
<rect x="941.00" y="2031.00" width="7.04" height="7.04" fill="#227fc2" />
<rect x="962.00" y="2031.00" width="7.04" height="7.04" fill="#1578be" />
<rect x="969.00" y="2031.00" width="7.04" height="7.04" fill="#589fd1" />
<rect x="822.00" y="2073.00" width="7.04" height="7.04" fill="#3087c6" />
<rect x="836.00" y="2073.00" width="7.04" height="7.04" fill="#96c2e2" />
<rect x="843.00" y="2073.00" width="7.04" height="7.04" fill="#056eba" />
<rect x="850.00" y="2073.00" width="7.04" height="7.04" fill="#2882c3" />
<rect x="857.00" y="2073.00" width="7.04" height="7.04" fill="#8bbcdf" />
<rect x="864.00" y="2073.00" width="7.04" height="7.04" fill="#4492cb" />
<rect x="871.00" y="2073.00" width="7.04" height="7.04" fill="#3389c6" />
<rect x="892.00" y="2073.00" width="7.04" height="7.04" fill="#207ec1" />
<rect x="899.00" y="2073.00" width="7.04" height="7.04" fill="#1e7cc0" />
<rect x="906.00" y="2073.00" width="7.04" height="7.04" fill="#2380c2" />
<rect x="913.00" y="2073.00" width="7.04" height="7.04" fill="#3087c6" />
<rect x="927.00" y="2073.00" width="7.04" height="7.04" fill="#61a3d3" />
<rect x="934.00" y="2073.00" width="7.04" height="7.04" fill="#3389c6" />
<rect x="836.00" y="2080.00" width="7.04" height="7.04" fill="#066fba" />
<rect x="843.00" y="2080.00" width="7.04" height="7.04" fill="#65a6d4" />
<rect x="857.00" y="2080.00" width="7.04" height="7.04" fill="#9cc6e4" />
<rect x="864.00" y="2080.00" width="7.04" height="7.04" fill="#4492cb" />
<rect x="885.00" y="2080.00" width="7.04" height="7.04" fill="#86b9dd" />
<rect x="892.00" y="2080.00" width="7.04" height="7.04" fill="#e5f0f8" />
<rect x="899.00" y="2080.00" width="7.04" height="7.04" fill="#68a7d5" />
<rect x="906.00" y="2080.00" width="7.04" height="7.04" fill="#046eb9" />
<rect x="934.00" y="2080.00" width="7.04" height="7.04" fill="#60a3d3" />
<rect x="899.00" y="2087.00" width="7.04" height="7.04" fill="#1276bd" />
<rect x="906.00" y="2087.00" width="7.04" height="7.04" fill="#2a84c4" />
<rect x="822.00" y="2122.00" width="7.04" height="7.04" fill="#ebf4fa" />
<rect x="836.00" y="2122.00" width="7.04" height="7.04" fill="#68a7d5" />
<rect x="843.00" y="2122.00" width="7.04" height="7.04" fill="#3c8ec9" />
<rect x="850.00" y="2122.00" width="7.04" height="7.04" fill="#d2e5f3" />
<rect x="857.00" y="2122.00" width="7.04" height="7.04" fill="#bedaed" />
<rect x="864.00" y="2122.00" width="7.04" height="7.04" fill="#4492cb" />
<rect x="871.00" y="2122.00" width="7.04" height="7.04" fill="#f2f7fb" />
<rect x="885.00" y="2122.00" width="7.04" height="7.04" fill="#dcebf6" />
<rect x="892.00" y="2122.00" width="7.04" height="7.04" fill="#bbd8ec" />
<rect x="899.00" y="2122.00" width="7.04" height="7.04" fill="#1175bd" />
<rect x="906.00" y="2122.00" width="7.04" height="7.04" fill="#076fba" />
<rect x="913.00" y="2122.00" width="7.04" height="7.04" fill="#ebf4fa" />
<rect x="934.00" y="2122.00" width="7.04" height="7.04" fill="#60a3d3" />
<rect x="829.00" y="2129.00" width="7.04" height="7.04" fill="#eaf3f9" />
<rect x="836.00" y="2129.00" width="7.04" height="7.04" fill="#046eb9" />
<rect x="843.00" y="2129.00" width="7.04" height="7.04" fill="#3288c6" />
<rect x="857.00" y="2129.00" width="7.04" height="7.04" fill="#8ebde0" />
<rect x="864.00" y="2129.00" width="7.04" height="7.04" fill="#4492cb" />
<rect x="885.00" y="2129.00" width="7.04" height="7.04" fill="#84b8dd" />
<rect x="892.00" y="2129.00" width="7.04" height="7.04" fill="#b1d2ea" />
<rect x="899.00" y="2129.00" width="7.04" height="7.04" fill="#4d98ce" />
<rect x="906.00" y="2129.00" width="7.04" height="7.04" fill="#006bb8" />
<rect x="920.00" y="2129.00" width="7.04" height="7.04" fill="#eaf3f9" />
<rect x="934.00" y="2129.00" width="7.04" height="7.04" fill="#60a3d3" />
<rect x="899.00" y="2136.00" width="7.04" height="7.04" fill="#2480c2" />
<rect x="906.00" y="2136.00" width="7.04" height="7.04" fill="#7bb2da" />
<rect x="836.00" y="2164.00" width="7.04" height="7.04" fill="#388bc8" />
<rect x="829.00" y="2171.00" width="7.04" height="7.04" fill="#eff6fb" />
<rect x="836.00" y="2171.00" width="7.04" height="7.04" fill="#388bc8" />
<rect x="857.00" y="2171.00" width="7.04" height="7.04" fill="#0970bb" />
<rect x="878.00" y="2171.00" width="7.04" height="7.04" fill="#6daad6" />
<rect x="899.00" y="2171.00" width="7.04" height="7.04" fill="#9bc5e3" />
<rect x="913.00" y="2171.00" width="7.04" height="7.04" fill="#3489c7" />
<rect x="920.00" y="2171.00" width="7.04" height="7.04" fill="#569dd0" />
<rect x="927.00" y="2171.00" width="7.04" height="7.04" fill="#0f74bc" />
<rect x="836.00" y="2178.00" width="7.04" height="7.04" fill="#388bc8" />
<rect x="850.00" y="2178.00" width="7.04" height="7.04" fill="#5099ce" />
<rect x="857.00" y="2178.00" width="7.04" height="7.04" fill="#056eba" />
<rect x="871.00" y="2178.00" width="7.04" height="7.04" fill="#1779bf" />
<rect x="878.00" y="2178.00" width="7.04" height="7.04" fill="#1a7ac0" />
<rect x="899.00" y="2178.00" width="7.04" height="7.04" fill="#8ebde0" />
<rect x="913.00" y="2178.00" width="7.04" height="7.04" fill="#68a8d5" />
<rect x="920.00" y="2178.00" width="7.04" height="7.04" fill="#1c7cc0" />
<rect x="927.00" y="2178.00" width="7.04" height="7.04" fill="#b7d5eb" />
<rect x="2061.00" y="1352.00" width="7.04" height="7.04" fill="#006bb8" />
<rect x="2068.00" y="1352.00" width="7.04" height="7.04" fill="#0d73bc" />
<rect x="2075.00" y="1352.00" width="7.04" height="7.04" fill="#378bc8" />
<rect x="2082.00" y="1352.00" width="7.04" height="7.04" fill="#97c3e2" />
<rect x="2096.00" y="1352.00" width="7.04" height="7.04" fill="#e0edf7" />
<rect x="2103.00" y="1352.00" width="7.04" height="7.04" fill="#5a9fd1" />
<rect x="2110.00" y="1352.00" width="7.04" height="7.04" fill="#3a8dc8" />
<rect x="2117.00" y="1352.00" width="7.04" height="7.04" fill="#3389c6" />
<rect x="2124.00" y="1352.00" width="7.04" height="7.04" fill="#1779bf" />
<rect x="2138.00" y="1352.00" width="7.04" height="7.04" fill="#b2d2ea" />
<rect x="2152.00" y="1352.00" width="7.04" height="7.04" fill="#d9e9f5" />
<rect x="2159.00" y="1352.00" width="7.04" height="7.04" fill="#0f74bc" />
<rect x="2166.00" y="1352.00" width="7.04" height="7.04" fill="#006bb8" />
<rect x="2173.00" y="1352.00" width="7.04" height="7.04" fill="#4a96cd" />
<rect x="2180.00" y="1352.00" width="7.04" height="7.04" fill="#006bb8" />
<rect x="2187.00" y="1352.00" width="7.04" height="7.04" fill="#0d73bc" />
<rect x="2194.00" y="1352.00" width="7.04" height="7.04" fill="#378bc8" />
<rect x="2201.00" y="1352.00" width="7.04" height="7.04" fill="#97c3e2" />
<rect x="2208.00" y="1352.00" width="7.04" height="7.04" fill="#0d73bc" />
<rect x="2215.00" y="1352.00" width="7.04" height="7.04" fill="#8bbcdf" />
<rect x="2222.00" y="1352.00" width="7.04" height="7.04" fill="#deecf6" />
<rect x="2236.00" y="1352.00" width="7.04" height="7.04" fill="#1879bf" />
<rect x="2264.00" y="1352.00" width="7.04" height="7.04" fill="#006bb8" />
<rect x="2271.00" y="1352.00" width="7.04" height="7.04" fill="#006bb8" />
<rect x="2313.00" y="1352.00" width="7.04" height="7.04" fill="#d9e9f5" />
<rect x="2320.00" y="1352.00" width="7.04" height="7.04" fill="#5a9fd1" />
<rect x="2327.00" y="1352.00" width="7.04" height="7.04" fill="#b2d2ea" />
<rect x="2061.00" y="1359.00" width="7.04" height="7.04" fill="#7ab2da" />
<rect x="2075.00" y="1359.00" width="7.04" height="7.04" fill="#1778bf" />
<rect x="2082.00" y="1359.00" width="7.04" height="7.04" fill="#c4ddef" />
<rect x="2096.00" y="1359.00" width="7.04" height="7.04" fill="#a7cce7" />
<rect x="2117.00" y="1359.00" width="7.04" height="7.04" fill="#73aed8" />
<rect x="2124.00" y="1359.00" width="7.04" height="7.04" fill="#559dd0" />
<rect x="2166.00" y="1359.00" width="7.04" height="7.04" fill="#046db9" />
<rect x="2180.00" y="1359.00" width="7.04" height="7.04" fill="#7ab2da" />
<rect x="2194.00" y="1359.00" width="7.04" height="7.04" fill="#1778bf" />
<rect x="2201.00" y="1359.00" width="7.04" height="7.04" fill="#c4ddef" />
<rect x="2236.00" y="1359.00" width="7.04" height="7.04" fill="#1879bf" />
<rect x="2264.00" y="1359.00" width="7.04" height="7.04" fill="#7ab2da" />
<rect x="2271.00" y="1359.00" width="7.04" height="7.04" fill="#83b7dd" />
<rect x="2299.00" y="1359.00" width="7.04" height="7.04" fill="#1e7cc0" />
<rect x="2341.00" y="1359.00" width="7.04" height="7.04" fill="#a9cde7" />
<rect x="2061.00" y="1401.00" width="7.04" height="7.04" fill="#e3eff7" />
<rect x="2096.00" y="1401.00" width="7.04" height="7.04" fill="#97c3e2" />
<rect x="2110.00" y="1401.00" width="7.04" height="7.04" fill="#0e73bc" />
<rect x="2117.00" y="1401.00" width="7.04" height="7.04" fill="#cee3f2" />
<rect x="2124.00" y="1401.00" width="7.04" height="7.04" fill="#2380c2" />
<rect x="2145.00" y="1401.00" width="7.04" height="7.04" fill="#bbd8ec" />
<rect x="2159.00" y="1401.00" width="7.04" height="7.04" fill="#64a5d4" />
<rect x="2180.00" y="1401.00" width="7.04" height="7.04" fill="#d0e4f2" />
<rect x="2271.00" y="1401.00" width="7.04" height="7.04" fill="#e3eff7" />
<rect x="2278.00" y="1401.00" width="7.04" height="7.04" fill="#afd1e9" />
<rect x="2285.00" y="1401.00" width="7.04" height="7.04" fill="#0f74bc" />
<rect x="2292.00" y="1401.00" width="7.04" height="7.04" fill="#add0e8" />
<rect x="2306.00" y="1401.00" width="7.04" height="7.04" fill="#a1c9e5" />
<rect x="2320.00" y="1401.00" width="7.04" height="7.04" fill="#0e73bc" />
<rect x="2327.00" y="1401.00" width="7.04" height="7.04" fill="#e3eff7" />
<rect x="2334.00" y="1401.00" width="7.04" height="7.04" fill="#3087c5" />
<rect x="2341.00" y="1401.00" width="7.04" height="7.04" fill="#0f74bc" />
<rect x="2348.00" y="1401.00" width="7.04" height="7.04" fill="#add0e8" />
<rect x="2362.00" y="1401.00" width="7.04" height="7.04" fill="#3489c7" />
<rect x="2376.00" y="1401.00" width="7.04" height="7.04" fill="#0e73bc" />
<rect x="2061.00" y="1408.00" width="7.04" height="7.04" fill="#e3eff7" />
<rect x="2096.00" y="1408.00" width="7.04" height="7.04" fill="#97c3e2" />
<rect x="2103.00" y="1408.00" width="7.04" height="7.04" fill="#006bb8" />
<rect x="2110.00" y="1408.00" width="7.04" height="7.04" fill="#006bb8" />
<rect x="2117.00" y="1408.00" width="7.04" height="7.04" fill="#a3cae6" />
<rect x="2145.00" y="1408.00" width="7.04" height="7.04" fill="#bfdaed" />
<rect x="2159.00" y="1408.00" width="7.04" height="7.04" fill="#64a5d4" />
<rect x="2271.00" y="1408.00" width="7.04" height="7.04" fill="#e3eff7" />
<rect x="2278.00" y="1408.00" width="7.04" height="7.04" fill="#bdd9ed" />
<rect x="2285.00" y="1408.00" width="7.04" height="7.04" fill="#237fc2" />
<rect x="2292.00" y="1408.00" width="7.04" height="7.04" fill="#95c2e2" />
<rect x="2299.00" y="1408.00" width="7.04" height="7.04" fill="#2d85c5" />
<rect x="2313.00" y="1408.00" width="7.04" height="7.04" fill="#006bb8" />
<rect x="2320.00" y="1408.00" width="7.04" height="7.04" fill="#006bb8" />
<rect x="2327.00" y="1408.00" width="7.04" height="7.04" fill="#e3eff7" />
<rect x="2334.00" y="1408.00" width="7.04" height="7.04" fill="#3d8fc9" />
<rect x="2341.00" y="1408.00" width="7.04" height="7.04" fill="#519acf" />
<rect x="2348.00" y="1408.00" width="7.04" height="7.04" fill="#95c2e2" />
<rect x="2355.00" y="1408.00" width="7.04" height="7.04" fill="#2d85c5" />
<rect x="2369.00" y="1408.00" width="7.04" height="7.04" fill="#006bb8" />
<rect x="2376.00" y="1408.00" width="7.04" height="7.04" fill="#006bb8" />
<rect x="2061.00" y="1450.00" width="7.04" height="7.04" fill="#e3eff7" />
<rect x="2096.00" y="1450.00" width="7.04" height="7.04" fill="#97c3e2" />
<rect x="2110.00" y="1450.00" width="7.04" height="7.04" fill="#8dbddf" />
<rect x="2117.00" y="1450.00" width="7.04" height="7.04" fill="#a2c9e5" />
<rect x="2124.00" y="1450.00" width="7.04" height="7.04" fill="#70acd8" />
<rect x="2145.00" y="1450.00" width="7.04" height="7.04" fill="#a5cbe6" />
<rect x="2173.00" y="1450.00" width="7.04" height="7.04" fill="#97c3e2" />
<rect x="2271.00" y="1450.00" width="7.04" height="7.04" fill="#e3eff7" />
<rect x="2278.00" y="1450.00" width="7.04" height="7.04" fill="#368ac7" />
<rect x="2313.00" y="1450.00" width="7.04" height="7.04" fill="#3b8dc9" />
<rect x="2327.00" y="1450.00" width="7.04" height="7.04" fill="#f0f7fb" />
<rect x="2341.00" y="1450.00" width="7.04" height="7.04" fill="#97c3e2" />
<rect x="2348.00" y="1450.00" width="7.04" height="7.04" fill="#cee3f1" />
<rect x="2355.00" y="1450.00" width="7.04" height="7.04" fill="#8ebde0" />
<rect x="2376.00" y="1450.00" width="7.04" height="7.04" fill="#0e73bc" />
<rect x="2061.00" y="1457.00" width="7.04" height="7.04" fill="#e3eff7" />
<rect x="2096.00" y="1457.00" width="7.04" height="7.04" fill="#97c3e2" />
<rect x="2103.00" y="1457.00" width="7.04" height="7.04" fill="#b2d2ea" />
<rect x="2117.00" y="1457.00" width="7.04" height="7.04" fill="#dcebf5" />
<rect x="2124.00" y="1457.00" width="7.04" height="7.04" fill="#2882c3" />
<rect x="2145.00" y="1457.00" width="7.04" height="7.04" fill="#e7f1f8" />
<rect x="2173.00" y="1457.00" width="7.04" height="7.04" fill="#97c3e2" />
<rect x="2271.00" y="1457.00" width="7.04" height="7.04" fill="#e3eff7" />
<rect x="2278.00" y="1457.00" width="7.04" height="7.04" fill="#67a7d5" />
<rect x="2285.00" y="1457.00" width="7.04" height="7.04" fill="#b3d3ea" />
<rect x="2313.00" y="1457.00" width="7.04" height="7.04" fill="#6facd7" />
<rect x="2320.00" y="1457.00" width="7.04" height="7.04" fill="#2b84c4" />
<rect x="2327.00" y="1457.00" width="7.04" height="7.04" fill="#67a7d5" />
<rect x="2341.00" y="1457.00" width="7.04" height="7.04" fill="#97c3e2" />
<rect x="2348.00" y="1457.00" width="7.04" height="7.04" fill="#92c0e1" />
<rect x="2355.00" y="1457.00" width="7.04" height="7.04" fill="#2e86c5" />
<rect x="2362.00" y="1457.00" width="7.04" height="7.04" fill="#e0edf7" />
<rect x="2369.00" y="1457.00" width="7.04" height="7.04" fill="#67a7d5" />
<rect x="2376.00" y="1457.00" width="7.04" height="7.04" fill="#066eba" />
<rect x="2061.00" y="1499.00" width="7.04" height="7.04" fill="#e3eff7" />
<rect x="2089.00" y="1499.00" width="7.04" height="7.04" fill="#026cb9" />
<rect x="2096.00" y="1499.00" width="7.04" height="7.04" fill="#e4f0f8" />
<rect x="2131.00" y="1499.00" width="7.04" height="7.04" fill="#1879bf" />
<rect x="2138.00" y="1499.00" width="7.04" height="7.04" fill="#4191ca" />
<rect x="2145.00" y="1499.00" width="7.04" height="7.04" fill="#77b0d9" />
<rect x="2271.00" y="1499.00" width="7.04" height="7.04" fill="#e3eff7" />
<rect x="2292.00" y="1499.00" width="7.04" height="7.04" fill="#1779bf" />
<rect x="2306.00" y="1499.00" width="7.04" height="7.04" fill="#7cb3db" />
<rect x="2362.00" y="1499.00" width="7.04" height="7.04" fill="#6eabd7" />
<rect x="2061.00" y="1506.00" width="7.04" height="7.04" fill="#e3eff7" />
<rect x="2089.00" y="1506.00" width="7.04" height="7.04" fill="#82b7dc" />
<rect x="2096.00" y="1506.00" width="7.04" height="7.04" fill="#378bc8" />
<rect x="2131.00" y="1506.00" width="7.04" height="7.04" fill="#1879bf" />
<rect x="2138.00" y="1506.00" width="7.04" height="7.04" fill="#3489c7" />
<rect x="2145.00" y="1506.00" width="7.04" height="7.04" fill="#4a96cd" />
<rect x="2271.00" y="1506.00" width="7.04" height="7.04" fill="#e3eff7" />
<rect x="2285.00" y="1506.00" width="7.04" height="7.04" fill="#579ed1" />
<rect x="2292.00" y="1506.00" width="7.04" height="7.04" fill="#a3cae5" />
<rect x="2313.00" y="1506.00" width="7.04" height="7.04" fill="#b6d5eb" />
<rect x="2355.00" y="1506.00" width="7.04" height="7.04" fill="#b5d4eb" />
<rect x="2362.00" y="1506.00" width="7.04" height="7.04" fill="#dfecf6" />
<rect x="2061.00" y="1541.00" width="7.04" height="7.04" fill="#72add8" />
<rect x="2075.00" y="1541.00" width="7.04" height="7.04" fill="#006bb8" />
<rect x="2103.00" y="1541.00" width="7.04" height="7.04" fill="#0b71bb" />
<rect x="2117.00" y="1541.00" width="7.04" height="7.04" fill="#2c85c5" />
<rect x="2145.00" y="1541.00" width="7.04" height="7.04" fill="#006bb8" />
<rect x="2159.00" y="1541.00" width="7.04" height="7.04" fill="#81b6dc" />
<rect x="2173.00" y="1541.00" width="7.04" height="7.04" fill="#0e73bc" />
<rect x="2187.00" y="1541.00" width="7.04" height="7.04" fill="#358ac7" />
<rect x="2271.00" y="1541.00" width="7.04" height="7.04" fill="#88bade" />
<rect x="2285.00" y="1541.00" width="7.04" height="7.04" fill="#4090ca" />
<rect x="2320.00" y="1541.00" width="7.04" height="7.04" fill="#0b71bb" />
<rect x="2334.00" y="1541.00" width="7.04" height="7.04" fill="#7cb3db" />
<rect x="2348.00" y="1541.00" width="7.04" height="7.04" fill="#006bb8" />
<rect x="2362.00" y="1541.00" width="7.04" height="7.04" fill="#2782c3" />
<rect x="2369.00" y="1541.00" width="7.04" height="7.04" fill="#95c2e2" />
<rect x="2376.00" y="1541.00" width="7.04" height="7.04" fill="#006bb8" />
<rect x="2061.00" y="1548.00" width="7.04" height="7.04" fill="#d5e7f4" />
<rect x="2075.00" y="1548.00" width="7.04" height="7.04" fill="#4794cc" />
<rect x="2110.00" y="1548.00" width="7.04" height="7.04" fill="#9ac5e3" />
<rect x="2117.00" y="1548.00" width="7.04" height="7.04" fill="#2581c2" />
<rect x="2131.00" y="1548.00" width="7.04" height="7.04" fill="#a1c9e5" />
<rect x="2145.00" y="1548.00" width="7.04" height="7.04" fill="#388cc8" />
<rect x="2166.00" y="1548.00" width="7.04" height="7.04" fill="#edf5fa" />
<rect x="2187.00" y="1548.00" width="7.04" height="7.04" fill="#2681c3" />
<rect x="2271.00" y="1548.00" width="7.04" height="7.04" fill="#e3eff7" />
<rect x="2278.00" y="1548.00" width="7.04" height="7.04" fill="#77b0d9" />
<rect x="2292.00" y="1548.00" width="7.04" height="7.04" fill="#2480c2" />
<rect x="2327.00" y="1548.00" width="7.04" height="7.04" fill="#1b7bc0" />
<rect x="2334.00" y="1548.00" width="7.04" height="7.04" fill="#026cb9" />
<rect x="2348.00" y="1548.00" width="7.04" height="7.04" fill="#388cc8" />
<rect x="2362.00" y="1548.00" width="7.04" height="7.04" fill="#026cb9" />
<rect x="2376.00" y="1548.00" width="7.04" height="7.04" fill="#64a5d4" />
<rect x="2061.00" y="1555.00" width="7.04" height="7.04" fill="#026cb9" />
<rect x="2068.00" y="1555.00" width="7.04" height="7.04" fill="#a8cde7" />
<rect x="2075.00" y="1555.00" width="7.04" height="7.04" fill="#4694cc" />
<rect x="2082.00" y="1555.00" width="7.04" height="7.04" fill="#8bbcdf" />
<rect x="2089.00" y="1555.00" width="7.04" height="7.04" fill="#4794cc" />
<rect x="2096.00" y="1555.00" width="7.04" height="7.04" fill="#4794cc" />
<rect x="2103.00" y="1555.00" width="7.04" height="7.04" fill="#4f99ce" />
<rect x="2117.00" y="1555.00" width="7.04" height="7.04" fill="#1c7bc0" />
<rect x="2124.00" y="1555.00" width="7.04" height="7.04" fill="#0c72bb" />
<rect x="2145.00" y="1555.00" width="7.04" height="7.04" fill="#368bc7" />
<rect x="2152.00" y="1555.00" width="7.04" height="7.04" fill="#8bbcdf" />
<rect x="2159.00" y="1555.00" width="7.04" height="7.04" fill="#378bc8" />
<rect x="2166.00" y="1555.00" width="7.04" height="7.04" fill="#69a8d5" />
<rect x="2173.00" y="1555.00" width="7.04" height="7.04" fill="#4291ca" />
<rect x="2187.00" y="1555.00" width="7.04" height="7.04" fill="#1678be" />
<rect x="2271.00" y="1555.00" width="7.04" height="7.04" fill="#4090ca" />
<rect x="2278.00" y="1555.00" width="7.04" height="7.04" fill="#c2dcee" />
<rect x="2285.00" y="1555.00" width="7.04" height="7.04" fill="#1175bd" />
<rect x="2306.00" y="1555.00" width="7.04" height="7.04" fill="#4794cc" />
<rect x="2313.00" y="1555.00" width="7.04" height="7.04" fill="#4794cc" />
<rect x="2320.00" y="1555.00" width="7.04" height="7.04" fill="#4f99ce" />
<rect x="2327.00" y="1555.00" width="7.04" height="7.04" fill="#f0f7fb" />
<rect x="2334.00" y="1555.00" width="7.04" height="7.04" fill="#016cb8" />
<rect x="2341.00" y="1555.00" width="7.04" height="7.04" fill="#5a9fd1" />
<rect x="2348.00" y="1555.00" width="7.04" height="7.04" fill="#368bc7" />
<rect x="2355.00" y="1555.00" width="7.04" height="7.04" fill="#0c72bb" />
<rect x="2362.00" y="1555.00" width="7.04" height="7.04" fill="#3a8dc8" />
<rect x="2061.00" y="1639.00" width="7.04" height="7.04" fill="#7cb3db" />
<rect x="2096.00" y="1639.00" width="7.04" height="7.04" fill="#97c3e2" />
<rect x="2103.00" y="1639.00" width="7.04" height="7.04" fill="#61a4d3" />
<rect x="2110.00" y="1639.00" width="7.04" height="7.04" fill="#4895cc" />
<rect x="2117.00" y="1639.00" width="7.04" height="7.04" fill="#80b6dc" />
<rect x="2124.00" y="1639.00" width="7.04" height="7.04" fill="#76afd9" />
<rect x="2138.00" y="1639.00" width="7.04" height="7.04" fill="#7cb3db" />
<rect x="2264.00" y="1639.00" width="7.04" height="7.04" fill="#77b0da" />
<rect x="2271.00" y="1639.00" width="7.04" height="7.04" fill="#7db4db" />
<rect x="2278.00" y="1639.00" width="7.04" height="7.04" fill="#a5cbe6" />
<rect x="2299.00" y="1639.00" width="7.04" height="7.04" fill="#e1eef7" />
<rect x="2306.00" y="1639.00" width="7.04" height="7.04" fill="#c7dff0" />
<rect x="2313.00" y="1639.00" width="7.04" height="7.04" fill="#e1eef7" />
<rect x="2320.00" y="1639.00" width="7.04" height="7.04" fill="#c7dff0" />
<rect x="2355.00" y="1639.00" width="7.04" height="7.04" fill="#7cb3db" />
<rect x="2369.00" y="1639.00" width="7.04" height="7.04" fill="#6dabd7" />
<rect x="2376.00" y="1639.00" width="7.04" height="7.04" fill="#abcee8" />
<rect x="2390.00" y="1639.00" width="7.04" height="7.04" fill="#8dbde0" />
<rect x="2404.00" y="1639.00" width="7.04" height="7.04" fill="#daeaf5" />
<rect x="2411.00" y="1639.00" width="7.04" height="7.04" fill="#dfedf6" />
<rect x="2061.00" y="1646.00" width="7.04" height="7.04" fill="#e3eff7" />
<rect x="2096.00" y="1646.00" width="7.04" height="7.04" fill="#97c3e2" />
<rect x="2110.00" y="1646.00" width="7.04" height="7.04" fill="#e9f2f9" />
<rect x="2117.00" y="1646.00" width="7.04" height="7.04" fill="#94c1e1" />
<rect x="2124.00" y="1646.00" width="7.04" height="7.04" fill="#63a5d4" />
<rect x="2138.00" y="1646.00" width="7.04" height="7.04" fill="#e3eff7" />
<rect x="2173.00" y="1646.00" width="7.04" height="7.04" fill="#cee3f1" />
<rect x="2271.00" y="1646.00" width="7.04" height="7.04" fill="#72add8" />
<rect x="2285.00" y="1646.00" width="7.04" height="7.04" fill="#2c84c4" />
<rect x="2306.00" y="1646.00" width="7.04" height="7.04" fill="#79b1da" />
<rect x="2320.00" y="1646.00" width="7.04" height="7.04" fill="#79b1da" />
<rect x="2334.00" y="1646.00" width="7.04" height="7.04" fill="#4e99ce" />
<rect x="2355.00" y="1646.00" width="7.04" height="7.04" fill="#e3eff7" />
<rect x="2369.00" y="1646.00" width="7.04" height="7.04" fill="#589ed1" />
<rect x="2376.00" y="1646.00" width="7.04" height="7.04" fill="#3389c6" />
<rect x="2383.00" y="1646.00" width="7.04" height="7.04" fill="#4895cc" />
<rect x="2390.00" y="1646.00" width="7.04" height="7.04" fill="#8dbde0" />
<rect x="2404.00" y="1646.00" width="7.04" height="7.04" fill="#cfe3f2" />
<rect x="2411.00" y="1646.00" width="7.04" height="7.04" fill="#f0f6fb" />
<rect x="2061.00" y="1688.00" width="7.04" height="7.04" fill="#e3eff7" />
<rect x="2096.00" y="1688.00" width="7.04" height="7.04" fill="#97c3e2" />
<rect x="2110.00" y="1688.00" width="7.04" height="7.04" fill="#0e73bc" />
<rect x="2117.00" y="1688.00" width="7.04" height="7.04" fill="#398cc8" />
<rect x="2124.00" y="1688.00" width="7.04" height="7.04" fill="#1376be" />
<rect x="2145.00" y="1688.00" width="7.04" height="7.04" fill="#e0edf7" />
<rect x="2159.00" y="1688.00" width="7.04" height="7.04" fill="#64a5d4" />
<rect x="2180.00" y="1688.00" width="7.04" height="7.04" fill="#d8e9f4" />
<rect x="2271.00" y="1688.00" width="7.04" height="7.04" fill="#e3eff7" />
<rect x="2292.00" y="1688.00" width="7.04" height="7.04" fill="#c6deef" />
<rect x="2299.00" y="1688.00" width="7.04" height="7.04" fill="#73aed8" />
<rect x="2306.00" y="1688.00" width="7.04" height="7.04" fill="#3188c6" />
<rect x="2313.00" y="1688.00" width="7.04" height="7.04" fill="#93c0e1" />
<rect x="2334.00" y="1688.00" width="7.04" height="7.04" fill="#549ccf" />
<rect x="2348.00" y="1688.00" width="7.04" height="7.04" fill="#64a5d4" />
<rect x="2355.00" y="1688.00" width="7.04" height="7.04" fill="#7bb3da" />
<rect x="2362.00" y="1688.00" width="7.04" height="7.04" fill="#cee3f1" />
<rect x="2383.00" y="1688.00" width="7.04" height="7.04" fill="#398cc8" />
<rect x="2390.00" y="1688.00" width="7.04" height="7.04" fill="#1376be" />
<rect x="2411.00" y="1688.00" width="7.04" height="7.04" fill="#0e73bc" />
<rect x="2061.00" y="1695.00" width="7.04" height="7.04" fill="#e3eff7" />
<rect x="2096.00" y="1695.00" width="7.04" height="7.04" fill="#97c3e2" />
<rect x="2103.00" y="1695.00" width="7.04" height="7.04" fill="#227fc2" />
<rect x="2110.00" y="1695.00" width="7.04" height="7.04" fill="#0e73bc" />
<rect x="2145.00" y="1695.00" width="7.04" height="7.04" fill="#a7cce7" />
<rect x="2159.00" y="1695.00" width="7.04" height="7.04" fill="#64a5d4" />
<rect x="2271.00" y="1695.00" width="7.04" height="7.04" fill="#e3eff7" />
<rect x="2278.00" y="1695.00" width="7.04" height="7.04" fill="#a9cde7" />
<rect x="2299.00" y="1695.00" width="7.04" height="7.04" fill="#4694cc" />
<rect x="2327.00" y="1695.00" width="7.04" height="7.04" fill="#1879be" />
<rect x="2334.00" y="1695.00" width="7.04" height="7.04" fill="#7eb4db" />
<rect x="2348.00" y="1695.00" width="7.04" height="7.04" fill="#64a5d4" />
<rect x="2355.00" y="1695.00" width="7.04" height="7.04" fill="#2a83c4" />
<rect x="2362.00" y="1695.00" width="7.04" height="7.04" fill="#d3e6f3" />
<rect x="2376.00" y="1695.00" width="7.04" height="7.04" fill="#c5deef" />
<rect x="2404.00" y="1695.00" width="7.04" height="7.04" fill="#227fc2" />
<rect x="2411.00" y="1695.00" width="7.04" height="7.04" fill="#0e73bc" />
<rect x="2061.00" y="1737.00" width="7.04" height="7.04" fill="#d9e9f5" />
<rect x="2264.00" y="1737.00" width="7.04" height="7.04" fill="#d9e9f5" />
<rect x="2278.00" y="1737.00" width="7.04" height="7.04" fill="#97c3e2" />
<rect x="2278.00" y="1744.00" width="7.04" height="7.04" fill="#97c3e2" />
<rect x="2061.00" y="1786.00" width="7.04" height="7.04" fill="#e3eff7" />
<rect x="2089.00" y="1786.00" width="7.04" height="7.04" fill="#ddebf6" />
<rect x="2124.00" y="1786.00" width="7.04" height="7.04" fill="#2681c3" />
<rect x="2138.00" y="1786.00" width="7.04" height="7.04" fill="#97c3e2" />
<rect x="2271.00" y="1786.00" width="7.04" height="7.04" fill="#e3eff7" />
<rect x="2299.00" y="1786.00" width="7.04" height="7.04" fill="#5da1d2" />
<rect x="2327.00" y="1786.00" width="7.04" height="7.04" fill="#74afd9" />
<rect x="2334.00" y="1786.00" width="7.04" height="7.04" fill="#589ed1" />
<rect x="2362.00" y="1786.00" width="7.04" height="7.04" fill="#77b0d9" />
<rect x="2061.00" y="1793.00" width="7.04" height="7.04" fill="#e3eff7" />
<rect x="2117.00" y="1793.00" width="7.04" height="7.04" fill="#afd1e9" />
<rect x="2124.00" y="1793.00" width="7.04" height="7.04" fill="#67a7d5" />
<rect x="2138.00" y="1793.00" width="7.04" height="7.04" fill="#97c3e2" />
<rect x="2271.00" y="1793.00" width="7.04" height="7.04" fill="#e3eff7" />
<rect x="2327.00" y="1793.00" width="7.04" height="7.04" fill="#2f87c5" />
<rect x="2334.00" y="1793.00" width="7.04" height="7.04" fill="#1075bd" />
<rect x="2355.00" y="1793.00" width="7.04" height="7.04" fill="#076fba" />
<rect x="2362.00" y="1793.00" width="7.04" height="7.04" fill="#bcd8ec" />
<rect x="2068.00" y="1835.00" width="7.04" height="7.04" fill="#c7def0" />
<rect x="2075.00" y="1835.00" width="7.04" height="7.04" fill="#1376bd" />
<rect x="2110.00" y="1835.00" width="7.04" height="7.04" fill="#a2c9e5" />
<rect x="2117.00" y="1835.00" width="7.04" height="7.04" fill="#1e7dc1" />
<rect x="2131.00" y="1835.00" width="7.04" height="7.04" fill="#4e99ce" />
<rect x="2145.00" y="1835.00" width="7.04" height="7.04" fill="#0b71bb" />
<rect x="2166.00" y="1835.00" width="7.04" height="7.04" fill="#9fc7e4" />
<rect x="2187.00" y="1835.00" width="7.04" height="7.04" fill="#6eabd7" />
<rect x="2271.00" y="1835.00" width="7.04" height="7.04" fill="#e3eff7" />
<rect x="2278.00" y="1835.00" width="7.04" height="7.04" fill="#7cb3db" />
<rect x="2292.00" y="1835.00" width="7.04" height="7.04" fill="#3d8ec9" />
<rect x="2327.00" y="1835.00" width="7.04" height="7.04" fill="#237fc2" />
<rect x="2334.00" y="1835.00" width="7.04" height="7.04" fill="#67a7d5" />
<rect x="2348.00" y="1835.00" width="7.04" height="7.04" fill="#0b71bb" />
<rect x="2362.00" y="1835.00" width="7.04" height="7.04" fill="#a7cce7" />
<rect x="2376.00" y="1835.00" width="7.04" height="7.04" fill="#2480c2" />
<rect x="2061.00" y="1842.00" width="7.04" height="7.04" fill="#7fb5dc" />
<rect x="2068.00" y="1842.00" width="7.04" height="7.04" fill="#539bcf" />
<rect x="2117.00" y="1842.00" width="7.04" height="7.04" fill="#dbeaf5" />
<rect x="2159.00" y="1842.00" width="7.04" height="7.04" fill="#95c2e1" />
<rect x="2180.00" y="1842.00" width="7.04" height="7.04" fill="#b5d4eb" />
<rect x="2187.00" y="1842.00" width="7.04" height="7.04" fill="#dfecf6" />
<rect x="2271.00" y="1842.00" width="7.04" height="7.04" fill="#e3eff7" />
<rect x="2285.00" y="1842.00" width="7.04" height="7.04" fill="#b6d5eb" />
<rect x="2327.00" y="1842.00" width="7.04" height="7.04" fill="#a2c9e5" />
<rect x="2334.00" y="1842.00" width="7.04" height="7.04" fill="#5ea1d2" />
<rect x="2369.00" y="1842.00" width="7.04" height="7.04" fill="#d0e4f2" />
<rect x="2061.00" y="1877.00" width="7.04" height="7.04" fill="#88bade" />
<rect x="2075.00" y="1877.00" width="7.04" height="7.04" fill="#0e73bc" />
<rect x="2096.00" y="1877.00" width="7.04" height="7.04" fill="#97c3e2" />
<rect x="2110.00" y="1877.00" width="7.04" height="7.04" fill="#83b8dd" />
<rect x="2117.00" y="1877.00" width="7.04" height="7.04" fill="#72add8" />
<rect x="2138.00" y="1877.00" width="7.04" height="7.04" fill="#3489c7" />
<rect x="2159.00" y="1877.00" width="7.04" height="7.04" fill="#0d72bc" />
<rect x="2173.00" y="1877.00" width="7.04" height="7.04" fill="#97c3e2" />
<rect x="2264.00" y="1877.00" width="7.04" height="7.04" fill="#72add8" />
<rect x="2278.00" y="1877.00" width="7.04" height="7.04" fill="#006bb8" />
<rect x="2299.00" y="1877.00" width="7.04" height="7.04" fill="#88bade" />
<rect x="2313.00" y="1877.00" width="7.04" height="7.04" fill="#0b71bb" />
<rect x="2327.00" y="1877.00" width="7.04" height="7.04" fill="#0e73bc" />
<rect x="2348.00" y="1877.00" width="7.04" height="7.04" fill="#0d72bc" />
<rect x="2362.00" y="1877.00" width="7.04" height="7.04" fill="#b7d5eb" />
<rect x="2369.00" y="1877.00" width="7.04" height="7.04" fill="#95c2e2" />
<rect x="2376.00" y="1877.00" width="7.04" height="7.04" fill="#006bb8" />
<rect x="2397.00" y="1877.00" width="7.04" height="7.04" fill="#97c3e2" />
<rect x="2411.00" y="1877.00" width="7.04" height="7.04" fill="#358ac7" />
<rect x="2061.00" y="1884.00" width="7.04" height="7.04" fill="#e3eff7" />
<rect x="2096.00" y="1884.00" width="7.04" height="7.04" fill="#97c3e2" />
<rect x="2110.00" y="1884.00" width="7.04" height="7.04" fill="#0c72bb" />
<rect x="2117.00" y="1884.00" width="7.04" height="7.04" fill="#3f8fca" />
<rect x="2145.00" y="1884.00" width="7.04" height="7.04" fill="#90bfe0" />
<rect x="2159.00" y="1884.00" width="7.04" height="7.04" fill="#dcebf5" />
<rect x="2173.00" y="1884.00" width="7.04" height="7.04" fill="#97c3e2" />
<rect x="2264.00" y="1884.00" width="7.04" height="7.04" fill="#d5e7f4" />
<rect x="2278.00" y="1884.00" width="7.04" height="7.04" fill="#2480c2" />
<rect x="2299.00" y="1884.00" width="7.04" height="7.04" fill="#e3eff7" />
<rect x="2348.00" y="1884.00" width="7.04" height="7.04" fill="#dcebf5" />
<rect x="2376.00" y="1884.00" width="7.04" height="7.04" fill="#64a5d4" />
<rect x="2397.00" y="1884.00" width="7.04" height="7.04" fill="#97c3e2" />
<rect x="2411.00" y="1884.00" width="7.04" height="7.04" fill="#2681c3" />
<rect x="2061.00" y="1891.00" width="7.04" height="7.04" fill="#4090ca" />
<rect x="2068.00" y="1891.00" width="7.04" height="7.04" fill="#c2dcee" />
<rect x="2075.00" y="1891.00" width="7.04" height="7.04" fill="#4291ca" />
<rect x="2089.00" y="1891.00" width="7.04" height="7.04" fill="#e8f2f9" />
<rect x="2096.00" y="1891.00" width="7.04" height="7.04" fill="#2a84c4" />
<rect x="2103.00" y="1891.00" width="7.04" height="7.04" fill="#1f7dc1" />
<rect x="2110.00" y="1891.00" width="7.04" height="7.04" fill="#4794cc" />
<rect x="2117.00" y="1891.00" width="7.04" height="7.04" fill="#0b72bb" />
<rect x="2124.00" y="1891.00" width="7.04" height="7.04" fill="#a6cce6" />
<rect x="2131.00" y="1891.00" width="7.04" height="7.04" fill="#d9e9f5" />
<rect x="2138.00" y="1891.00" width="7.04" height="7.04" fill="#1a7abf" />
<rect x="2159.00" y="1891.00" width="7.04" height="7.04" fill="#4794cc" />
<rect x="2166.00" y="1891.00" width="7.04" height="7.04" fill="#e8f2f9" />
<rect x="2173.00" y="1891.00" width="7.04" height="7.04" fill="#2a84c4" />
<rect x="2264.00" y="1891.00" width="7.04" height="7.04" fill="#026cb9" />
<rect x="2271.00" y="1891.00" width="7.04" height="7.04" fill="#a8cde7" />
<rect x="2278.00" y="1891.00" width="7.04" height="7.04" fill="#2581c2" />
<rect x="2292.00" y="1891.00" width="7.04" height="7.04" fill="#d9e9f5" />
<rect x="2299.00" y="1891.00" width="7.04" height="7.04" fill="#4090ca" />
<rect x="2306.00" y="1891.00" width="7.04" height="7.04" fill="#c2dcee" />
<rect x="2313.00" y="1891.00" width="7.04" height="7.04" fill="#4f99ce" />
<rect x="2327.00" y="1891.00" width="7.04" height="7.04" fill="#4291ca" />
<rect x="2348.00" y="1891.00" width="7.04" height="7.04" fill="#4794cc" />
<rect x="2390.00" y="1891.00" width="7.04" height="7.04" fill="#e8f2f9" />
<rect x="2397.00" y="1891.00" width="7.04" height="7.04" fill="#2a84c4" />
<rect x="2411.00" y="1891.00" width="7.04" height="7.04" fill="#1678be" />
<rect x="2061.00" y="1926.00" width="7.04" height="7.04" fill="#026cb9" />
<rect x="2068.00" y="1926.00" width="7.04" height="7.04" fill="#cde2f1" />
<rect x="2075.00" y="1926.00" width="7.04" height="7.04" fill="#4794cc" />
<rect x="2089.00" y="1926.00" width="7.04" height="7.04" fill="#a2c9e5" />
<rect x="2103.00" y="1926.00" width="7.04" height="7.04" fill="#4694cc" />
<rect x="2117.00" y="1926.00" width="7.04" height="7.04" fill="#217ec2" />
<rect x="2145.00" y="1926.00" width="7.04" height="7.04" fill="#4794cc" />
<rect x="2159.00" y="1926.00" width="7.04" height="7.04" fill="#006bb8" />
<rect x="2166.00" y="1926.00" width="7.04" height="7.04" fill="#c9e0f0" />
<rect x="2173.00" y="1926.00" width="7.04" height="7.04" fill="#4593cb" />
<rect x="2187.00" y="1926.00" width="7.04" height="7.04" fill="#1276bd" />
<rect x="2271.00" y="1926.00" width="7.04" height="7.04" fill="#016cb9" />
<rect x="2285.00" y="1926.00" width="7.04" height="7.04" fill="#1b7bc0" />
<rect x="2320.00" y="1926.00" width="7.04" height="7.04" fill="#3188c6" />
<rect x="2334.00" y="1926.00" width="7.04" height="7.04" fill="#026cb9" />
<rect x="2348.00" y="1926.00" width="7.04" height="7.04" fill="#9dc7e4" />
<rect x="2355.00" y="1926.00" width="7.04" height="7.04" fill="#4d98ce" />
<rect x="2369.00" y="1926.00" width="7.04" height="7.04" fill="#68a8d5" />
<rect x="2376.00" y="1926.00" width="7.04" height="7.04" fill="#4794cc" />
<rect x="2397.00" y="1926.00" width="7.04" height="7.04" fill="#2b84c4" />
<rect x="2404.00" y="1926.00" width="7.04" height="7.04" fill="#b3d3ea" />
<rect x="2411.00" y="1926.00" width="7.04" height="7.04" fill="#4794cc" />
<rect x="2061.00" y="1933.00" width="7.04" height="7.04" fill="#e0edf6" />
<rect x="2068.00" y="1933.00" width="7.04" height="7.04" fill="#e8f2f9" />
<rect x="2103.00" y="1933.00" width="7.04" height="7.04" fill="#539bcf" />
<rect x="2110.00" y="1933.00" width="7.04" height="7.04" fill="#97c3e2" />
<rect x="2117.00" y="1933.00" width="7.04" height="7.04" fill="#e4eff8" />
<rect x="2131.00" y="1933.00" width="7.04" height="7.04" fill="#eff6fb" />
<rect x="2187.00" y="1933.00" width="7.04" height="7.04" fill="#0970bb" />
<rect x="2271.00" y="1933.00" width="7.04" height="7.04" fill="#e3eff7" />
<rect x="2292.00" y="1933.00" width="7.04" height="7.04" fill="#91bfe0" />
<rect x="2299.00" y="1933.00" width="7.04" height="7.04" fill="#eff6fb" />
<rect x="2334.00" y="1933.00" width="7.04" height="7.04" fill="#046db9" />
<rect x="2341.00" y="1933.00" width="7.04" height="7.04" fill="#2b84c4" />
<rect x="2348.00" y="1933.00" width="7.04" height="7.04" fill="#056eba" />
<rect x="2355.00" y="1933.00" width="7.04" height="7.04" fill="#056eba" />
<rect x="2369.00" y="1933.00" width="7.04" height="7.04" fill="#5ca1d2" />
<rect x="2376.00" y="1933.00" width="7.04" height="7.04" fill="#529acf" />
<rect x="2397.00" y="1933.00" width="7.04" height="7.04" fill="#2e86c5" />
<rect x="2411.00" y="1933.00" width="7.04" height="7.04" fill="#9ac4e3" />
<rect x="2061.00" y="1940.00" width="7.04" height="7.04" fill="#65a6d4" />
<rect x="2075.00" y="1940.00" width="7.04" height="7.04" fill="#0d73bc" />
<rect x="2082.00" y="1940.00" width="7.04" height="7.04" fill="#8bbcdf" />
<rect x="2089.00" y="1940.00" width="7.04" height="7.04" fill="#006bb8" />
<rect x="2096.00" y="1940.00" width="7.04" height="7.04" fill="#006bb8" />
<rect x="2103.00" y="1940.00" width="7.04" height="7.04" fill="#0d73bc" />
<rect x="2117.00" y="1940.00" width="7.04" height="7.04" fill="#2b84c4" />
<rect x="2124.00" y="1940.00" width="7.04" height="7.04" fill="#0c72bb" />
<rect x="2145.00" y="1940.00" width="7.04" height="7.04" fill="#1175bd" />
<rect x="2152.00" y="1940.00" width="7.04" height="7.04" fill="#8bbcdf" />
<rect x="2159.00" y="1940.00" width="7.04" height="7.04" fill="#006bb8" />
<rect x="2166.00" y="1940.00" width="7.04" height="7.04" fill="#2e86c5" />
<rect x="2173.00" y="1940.00" width="7.04" height="7.04" fill="#0e73bc" />
<rect x="2187.00" y="1940.00" width="7.04" height="7.04" fill="#2a83c4" />
<rect x="2271.00" y="1940.00" width="7.04" height="7.04" fill="#006bb8" />
<rect x="2278.00" y="1940.00" width="7.04" height="7.04" fill="#a9cde7" />
<rect x="2285.00" y="1940.00" width="7.04" height="7.04" fill="#3489c7" />
<rect x="2313.00" y="1940.00" width="7.04" height="7.04" fill="#d9e9f5" />
<rect x="2320.00" y="1940.00" width="7.04" height="7.04" fill="#006bb8" />
<rect x="2327.00" y="1940.00" width="7.04" height="7.04" fill="#2a83c4" />
<rect x="2334.00" y="1940.00" width="7.04" height="7.04" fill="#5fa2d3" />
<rect x="2355.00" y="1940.00" width="7.04" height="7.04" fill="#d9e9f5" />
<rect x="2362.00" y="1940.00" width="7.04" height="7.04" fill="#0c72bb" />
<rect x="2376.00" y="1940.00" width="7.04" height="7.04" fill="#91c0e1" />
<rect x="2383.00" y="1940.00" width="7.04" height="7.04" fill="#8bbcdf" />
<rect x="2397.00" y="1940.00" width="7.04" height="7.04" fill="#2a83c4" />
<rect x="2061.00" y="1975.00" width="7.04" height="7.04" fill="#7cb3db" />
<rect x="2075.00" y="1975.00" width="7.04" height="7.04" fill="#dbeaf5" />
<rect x="2096.00" y="1975.00" width="7.04" height="7.04" fill="#2983c4" />
<rect x="2124.00" y="1975.00" width="7.04" height="7.04" fill="#61a4d3" />
<rect x="2131.00" y="1975.00" width="7.04" height="7.04" fill="#7bb2db" />
<rect x="2145.00" y="1975.00" width="7.04" height="7.04" fill="#0970bb" />
<rect x="2152.00" y="1975.00" width="7.04" height="7.04" fill="#1979bf" />
<rect x="2166.00" y="1975.00" width="7.04" height="7.04" fill="#d2e5f3" />
<rect x="2173.00" y="1975.00" width="7.04" height="7.04" fill="#b0d2e9" />
<rect x="2180.00" y="1975.00" width="7.04" height="7.04" fill="#d2e5f3" />
<rect x="2187.00" y="1975.00" width="7.04" height="7.04" fill="#b0d2e9" />
<rect x="2271.00" y="1975.00" width="7.04" height="7.04" fill="#7cb3db" />
<rect x="2292.00" y="1975.00" width="7.04" height="7.04" fill="#529bcf" />
<rect x="2299.00" y="1975.00" width="7.04" height="7.04" fill="#3389c6" />
<rect x="2313.00" y="1975.00" width="7.04" height="7.04" fill="#ddecf6" />
<rect x="2341.00" y="1975.00" width="7.04" height="7.04" fill="#0e73bc" />
<rect x="2355.00" y="1975.00" width="7.04" height="7.04" fill="#7cb3db" />
<rect x="2376.00" y="1975.00" width="7.04" height="7.04" fill="#0e73bc" />
<rect x="2061.00" y="1982.00" width="7.04" height="7.04" fill="#e3eff7" />
<rect x="2082.00" y="1982.00" width="7.04" height="7.04" fill="#97c3e2" />
<rect x="2110.00" y="1982.00" width="7.04" height="7.04" fill="#c8dff0" />
<rect x="2145.00" y="1982.00" width="7.04" height="7.04" fill="#81b6dc" />
<rect x="2152.00" y="1982.00" width="7.04" height="7.04" fill="#64a5d4" />
<rect x="2173.00" y="1982.00" width="7.04" height="7.04" fill="#97c3e2" />
<rect x="2187.00" y="1982.00" width="7.04" height="7.04" fill="#97c3e2" />
<rect x="2271.00" y="1982.00" width="7.04" height="7.04" fill="#e3eff7" />
<rect x="2299.00" y="1982.00" width="7.04" height="7.04" fill="#b5d4ea" />
<rect x="2313.00" y="1982.00" width="7.04" height="7.04" fill="#b7d5eb" />
<rect x="2334.00" y="1982.00" width="7.04" height="7.04" fill="#4090ca" />
<rect x="2341.00" y="1982.00" width="7.04" height="7.04" fill="#0e73bc" />
<rect x="2355.00" y="1982.00" width="7.04" height="7.04" fill="#e3eff7" />
<rect x="2369.00" y="1982.00" width="7.04" height="7.04" fill="#4090ca" />
<rect x="2376.00" y="1982.00" width="7.04" height="7.04" fill="#0e73bc" />
<rect x="2061.00" y="2024.00" width="7.04" height="7.04" fill="#e3eff7" />
<rect x="2096.00" y="2024.00" width="7.04" height="7.04" fill="#97c3e2" />
<rect x="2110.00" y="2024.00" width="7.04" height="7.04" fill="#0e73bc" />
<rect x="2117.00" y="2024.00" width="7.04" height="7.04" fill="#398cc8" />
<rect x="2124.00" y="2024.00" width="7.04" height="7.04" fill="#1376be" />
<rect x="2145.00" y="2024.00" width="7.04" height="7.04" fill="#e0edf7" />
<rect x="2159.00" y="2024.00" width="7.04" height="7.04" fill="#64a5d4" />
<rect x="2180.00" y="2024.00" width="7.04" height="7.04" fill="#d8e9f4" />
<rect x="2271.00" y="2024.00" width="7.04" height="7.04" fill="#e3eff7" />
<rect x="2292.00" y="2024.00" width="7.04" height="7.04" fill="#c6deef" />
<rect x="2299.00" y="2024.00" width="7.04" height="7.04" fill="#73aed8" />
<rect x="2306.00" y="2024.00" width="7.04" height="7.04" fill="#3188c6" />
<rect x="2313.00" y="2024.00" width="7.04" height="7.04" fill="#93c0e1" />
<rect x="2334.00" y="2024.00" width="7.04" height="7.04" fill="#549ccf" />
<rect x="2348.00" y="2024.00" width="7.04" height="7.04" fill="#64a5d4" />
<rect x="2355.00" y="2024.00" width="7.04" height="7.04" fill="#7bb3da" />
<rect x="2362.00" y="2024.00" width="7.04" height="7.04" fill="#cee3f1" />
<rect x="2383.00" y="2024.00" width="7.04" height="7.04" fill="#398cc8" />
<rect x="2390.00" y="2024.00" width="7.04" height="7.04" fill="#1376be" />
<rect x="2411.00" y="2024.00" width="7.04" height="7.04" fill="#0e73bc" />
<rect x="2061.00" y="2031.00" width="7.04" height="7.04" fill="#e3eff7" />
<rect x="2096.00" y="2031.00" width="7.04" height="7.04" fill="#97c3e2" />
<rect x="2103.00" y="2031.00" width="7.04" height="7.04" fill="#227fc2" />
<rect x="2110.00" y="2031.00" width="7.04" height="7.04" fill="#0e73bc" />
<rect x="2145.00" y="2031.00" width="7.04" height="7.04" fill="#a7cce7" />
<rect x="2159.00" y="2031.00" width="7.04" height="7.04" fill="#64a5d4" />
<rect x="2271.00" y="2031.00" width="7.04" height="7.04" fill="#e3eff7" />
<rect x="2278.00" y="2031.00" width="7.04" height="7.04" fill="#a9cde7" />
<rect x="2299.00" y="2031.00" width="7.04" height="7.04" fill="#4694cc" />
<rect x="2327.00" y="2031.00" width="7.04" height="7.04" fill="#1879be" />
<rect x="2334.00" y="2031.00" width="7.04" height="7.04" fill="#7eb4db" />
<rect x="2348.00" y="2031.00" width="7.04" height="7.04" fill="#64a5d4" />
<rect x="2355.00" y="2031.00" width="7.04" height="7.04" fill="#2a83c4" />
<rect x="2362.00" y="2031.00" width="7.04" height="7.04" fill="#d3e6f3" />
<rect x="2376.00" y="2031.00" width="7.04" height="7.04" fill="#c5deef" />
<rect x="2404.00" y="2031.00" width="7.04" height="7.04" fill="#227fc2" />
<rect x="2411.00" y="2031.00" width="7.04" height="7.04" fill="#0e73bc" />
<rect x="2061.00" y="2073.00" width="7.04" height="7.04" fill="#4191ca" />
<rect x="2068.00" y="2073.00" width="7.04" height="7.04" fill="#66a6d4" />
<rect x="2075.00" y="2073.00" width="7.04" height="7.04" fill="#388bc8" />
<rect x="2082.00" y="2073.00" width="7.04" height="7.04" fill="#9fc7e4" />
<rect x="2096.00" y="2073.00" width="7.04" height="7.04" fill="#bbd8ec" />
<rect x="2103.00" y="2073.00" width="7.04" height="7.04" fill="#5a9fd1" />
<rect x="2110.00" y="2073.00" width="7.04" height="7.04" fill="#2983c4" />
<rect x="2117.00" y="2073.00" width="7.04" height="7.04" fill="#5da1d2" />
<rect x="2124.00" y="2073.00" width="7.04" height="7.04" fill="#4090ca" />
<rect x="2152.00" y="2073.00" width="7.04" height="7.04" fill="#d9e9f5" />
<rect x="2159.00" y="2073.00" width="7.04" height="7.04" fill="#579ed1" />
<rect x="2166.00" y="2073.00" width="7.04" height="7.04" fill="#026cb9" />
<rect x="2173.00" y="2073.00" width="7.04" height="7.04" fill="#aacee8" />
<rect x="2180.00" y="2073.00" width="7.04" height="7.04" fill="#4191ca" />
<rect x="2187.00" y="2073.00" width="7.04" height="7.04" fill="#66a6d4" />
<rect x="2194.00" y="2073.00" width="7.04" height="7.04" fill="#388bc8" />
<rect x="2201.00" y="2073.00" width="7.04" height="7.04" fill="#9fc7e4" />
<rect x="2208.00" y="2073.00" width="7.04" height="7.04" fill="#66a6d4" />
<rect x="2215.00" y="2073.00" width="7.04" height="7.04" fill="#8bbcdf" />
<rect x="2236.00" y="2073.00" width="7.04" height="7.04" fill="#1879bf" />
<rect x="2264.00" y="2073.00" width="7.04" height="7.04" fill="#4191ca" />
<rect x="2271.00" y="2073.00" width="7.04" height="7.04" fill="#4693cc" />
<rect x="2313.00" y="2073.00" width="7.04" height="7.04" fill="#d9e9f5" />
<rect x="2320.00" y="2073.00" width="7.04" height="7.04" fill="#5a9fd1" />
<rect x="2341.00" y="2073.00" width="7.04" height="7.04" fill="#d1e4f2" />
<rect x="2061.00" y="2080.00" width="7.04" height="7.04" fill="#7ab2da" />
<rect x="2075.00" y="2080.00" width="7.04" height="7.04" fill="#046eb9" />
<rect x="2082.00" y="2080.00" width="7.04" height="7.04" fill="#d2e5f3" />
<rect x="2096.00" y="2080.00" width="7.04" height="7.04" fill="#bfdaed" />
<rect x="2110.00" y="2080.00" width="7.04" height="7.04" fill="#006bb8" />
<rect x="2117.00" y="2080.00" width="7.04" height="7.04" fill="#5a9fd1" />
<rect x="2124.00" y="2080.00" width="7.04" height="7.04" fill="#3b8dc9" />
<rect x="2166.00" y="2080.00" width="7.04" height="7.04" fill="#046db9" />
<rect x="2180.00" y="2080.00" width="7.04" height="7.04" fill="#7ab2da" />
<rect x="2194.00" y="2080.00" width="7.04" height="7.04" fill="#046eb9" />
<rect x="2201.00" y="2080.00" width="7.04" height="7.04" fill="#d2e5f3" />
<rect x="2236.00" y="2080.00" width="7.04" height="7.04" fill="#1879bf" />
<rect x="2264.00" y="2080.00" width="7.04" height="7.04" fill="#7ab2da" />
<rect x="2271.00" y="2080.00" width="7.04" height="7.04" fill="#83b7dd" />
<rect x="2299.00" y="2080.00" width="7.04" height="7.04" fill="#a9cde7" />
<rect x="2341.00" y="2080.00" width="7.04" height="7.04" fill="#c0dbee" />
<rect x="2061.00" y="2122.00" width="7.04" height="7.04" fill="#e3eff7" />
<rect x="2096.00" y="2122.00" width="7.04" height="7.04" fill="#97c3e2" />
<rect x="2110.00" y="2122.00" width="7.04" height="7.04" fill="#8dbddf" />
<rect x="2117.00" y="2122.00" width="7.04" height="7.04" fill="#a2c9e5" />
<rect x="2124.00" y="2122.00" width="7.04" height="7.04" fill="#70acd8" />
<rect x="2145.00" y="2122.00" width="7.04" height="7.04" fill="#a5cbe6" />
<rect x="2173.00" y="2122.00" width="7.04" height="7.04" fill="#97c3e2" />
<rect x="2271.00" y="2122.00" width="7.04" height="7.04" fill="#e3eff7" />
<rect x="2285.00" y="2122.00" width="7.04" height="7.04" fill="#bbd7ec" />
<rect x="2327.00" y="2122.00" width="7.04" height="7.04" fill="#64a5d4" />
<rect x="2348.00" y="2122.00" width="7.04" height="7.04" fill="#a5cbe6" />
<rect x="2425.00" y="2122.00" width="7.04" height="7.04" fill="#0870bb" />
<rect x="2061.00" y="2129.00" width="7.04" height="7.04" fill="#e3eff7" />
<rect x="2096.00" y="2129.00" width="7.04" height="7.04" fill="#97c3e2" />
<rect x="2103.00" y="2129.00" width="7.04" height="7.04" fill="#b2d2ea" />
<rect x="2117.00" y="2129.00" width="7.04" height="7.04" fill="#dcebf5" />
<rect x="2124.00" y="2129.00" width="7.04" height="7.04" fill="#2882c3" />
<rect x="2145.00" y="2129.00" width="7.04" height="7.04" fill="#e7f1f8" />
<rect x="2173.00" y="2129.00" width="7.04" height="7.04" fill="#97c3e2" />
<rect x="2271.00" y="2129.00" width="7.04" height="7.04" fill="#e3eff7" />
<rect x="2285.00" y="2129.00" width="7.04" height="7.04" fill="#e8f2f9" />
<rect x="2292.00" y="2129.00" width="7.04" height="7.04" fill="#368ac7" />
<rect x="2327.00" y="2129.00" width="7.04" height="7.04" fill="#64a5d4" />
<rect x="2348.00" y="2129.00" width="7.04" height="7.04" fill="#e7f1f8" />
<rect x="2418.00" y="2129.00" width="7.04" height="7.04" fill="#5da1d2" />
<rect x="2425.00" y="2129.00" width="7.04" height="7.04" fill="#3c8ec9" />
<rect x="2068.00" y="2171.00" width="7.04" height="7.04" fill="#c7def0" />
<rect x="2075.00" y="2171.00" width="7.04" height="7.04" fill="#0b71bb" />
<rect x="2110.00" y="2171.00" width="7.04" height="7.04" fill="#237fc2" />
<rect x="2117.00" y="2171.00" width="7.04" height="7.04" fill="#67a7d5" />
<rect x="2131.00" y="2171.00" width="7.04" height="7.04" fill="#cee3f1" />
<rect x="2138.00" y="2171.00" width="7.04" height="7.04" fill="#c1dbee" />
<rect x="2145.00" y="2171.00" width="7.04" height="7.04" fill="#2983c3" />
<rect x="2173.00" y="2171.00" width="7.04" height="7.04" fill="#97c3e2" />
<rect x="2271.00" y="2171.00" width="7.04" height="7.04" fill="#e3eff7" />
<rect x="2285.00" y="2171.00" width="7.04" height="7.04" fill="#3d8ec9" />
<rect x="2299.00" y="2171.00" width="7.04" height="7.04" fill="#81b6dc" />
<rect x="2306.00" y="2171.00" width="7.04" height="7.04" fill="#65a6d4" />
<rect x="2327.00" y="2171.00" width="7.04" height="7.04" fill="#91bfe1" />
<rect x="2362.00" y="2171.00" width="7.04" height="7.04" fill="#e3eff7" />
<rect x="2397.00" y="2171.00" width="7.04" height="7.04" fill="#4895cc" />
<rect x="2418.00" y="2171.00" width="7.04" height="7.04" fill="#cce1f1" />
<rect x="2432.00" y="2171.00" width="7.04" height="7.04" fill="#0b71bb" />
<rect x="2061.00" y="2178.00" width="7.04" height="7.04" fill="#7fb5dc" />
<rect x="2068.00" y="2178.00" width="7.04" height="7.04" fill="#539bcf" />
<rect x="2110.00" y="2178.00" width="7.04" height="7.04" fill="#a2c9e5" />
<rect x="2117.00" y="2178.00" width="7.04" height="7.04" fill="#5ea1d2" />
<rect x="2138.00" y="2178.00" width="7.04" height="7.04" fill="#b3d3ea" />
<rect x="2145.00" y="2178.00" width="7.04" height="7.04" fill="#c9dff0" />
<rect x="2173.00" y="2178.00" width="7.04" height="7.04" fill="#97c3e2" />
<rect x="2271.00" y="2178.00" width="7.04" height="7.04" fill="#e3eff7" />
<rect x="2299.00" y="2178.00" width="7.04" height="7.04" fill="#0b71bb" />
<rect x="2306.00" y="2178.00" width="7.04" height="7.04" fill="#2380c2" />
<rect x="2320.00" y="2178.00" width="7.04" height="7.04" fill="#b4d4ea" />
<rect x="2327.00" y="2178.00" width="7.04" height="7.04" fill="#f1f7fb" />
<rect x="2362.00" y="2178.00" width="7.04" height="7.04" fill="#e3eff7" />
<rect x="2390.00" y="2178.00" width="7.04" height="7.04" fill="#1275bd" />
<rect x="2397.00" y="2178.00" width="7.04" height="7.04" fill="#056eba" />
<rect x="2411.00" y="2178.00" width="7.04" height="7.04" fill="#dcebf5" /></svg>
<div id="txt">
<h1 class="t" style="left:33.50px;top:35.00px;font-size:68px;color:#1a1c21;font-weight:700;-webkit-text-stroke:0.5px #1a1c21;transform:scaleX(0.9753);transform-origin:4.00px 50%;">Users</h1>
<span class="t" style="left:34.00px;top:128.00px;font-size:19.5px;color:#69707d;letter-spacing:-0.125px;">Last event: 2 seconds ago</span>
<h3 class="t" style="left:95.25px;top:246.00px;font-size:24px;color:#1a1c21;font-weight:700;transform:scaleX(0.9845);transform-origin:1.25px 50%;">Users</h3>
<span class="t" style="left:151.25px;top:292.00px;font-size:35.5px;color:#343741;font-weight:700;letter-spacing:-0.500px;">69</span>
<span class="t" style="left:97.25px;top:529.00px;font-size:16.5px;color:#69707d;">0</span>
<span class="t" style="left:88.00px;top:503.00px;font-size:16.5px;color:#69707d;">20</span>
<span class="t" style="left:88.00px;top:477.00px;font-size:16.5px;color:#69707d;">40</span>
<span class="t" style="left:88.00px;top:452.00px;font-size:16.5px;color:#69707d;">60</span>
<span class="t" style="left:88.00px;top:426.00px;font-size:16.5px;color:#69707d;">80</span>
<span class="t" style="left:125.00px;top:541.00px;font-size:16.2px;color:#69707d;letter-spacing:0.218px;">00:00</span>
<span class="t" style="left:293.00px;top:541.00px;font-size:16.2px;color:#69707d;letter-spacing:0.218px;">06:00</span>
<span class="t" style="left:460.50px;top:541.00px;font-size:16.2px;color:#69707d;transform:scaleX(0.9686);transform-origin:1.00px 50%;">12:00</span>
<span class="t" style="left:628.50px;top:541.00px;font-size:16.2px;color:#69707d;transform:scaleX(0.9686);transform-origin:1.00px 50%;">18:00</span>
<span class="t" style="left:124.25px;top:556.00px;font-size:16.5px;color:#69707d;transform:scaleX(0.9606);transform-origin:1.25px 50%;">February 14, 2024</span>
<h3 class="t" style="left:928.75px;top:246.00px;font-size:24px;color:#1a1c21;font-weight:700;transform:scaleX(0.9777);transform-origin:1.25px 50%;">User authentications</h3>
<span class="t" style="left:976.00px;top:295.00px;font-size:35.5px;color:#343741;font-weight:700;transform:scaleX(0.9692);transform-origin:1.00px 50%;">947</span>
<span class="t" style="left:1078.75px;top:283.00px;font-size:55.5px;color:#1a1c21;font-weight:700;-webkit-text-stroke:0.5px #1a1c21;transform:scaleX(0.9524);transform-origin:1.75px 50%;">success</span>
<span class="t" style="left:1766.75px;top:295.00px;font-size:35.5px;color:#343741;font-weight:700;">0</span>
<span class="t" style="left:1852.25px;top:283.00px;font-size:55.5px;color:#1a1c21;font-weight:700;-webkit-text-stroke:0.5px #1a1c21;transform:scaleX(0.9669);transform-origin:0.75px 50%;">fail</span>
<span class="t" style="left:971.88px;top:550.00px;font-size:16.5px;color:#69707d;">0</span>
<span class="t" style="left:1093.72px;top:550.00px;font-size:16.5px;color:#69707d;">200</span>
<span class="t" style="left:1225.08px;top:550.00px;font-size:16.5px;color:#69707d;">400</span>
<span class="t" style="left:1355.92px;top:550.00px;font-size:16.5px;color:#69707d;">600</span>
<span class="t" style="left:1487.15px;top:550.00px;font-size:16.5px;color:#69707d;">800</span>
<span class="t" style="left:1611.00px;top:550.00px;font-size:16.5px;color:#69707d;">1,000</span>
<span class="t" style="left:922.25px;top:455.00px;font-size:16.5px;color:#69707d;transform:scaleX(0.9682);transform-origin:0.75px 50%;">Succ.</span>
<span class="t" style="left:936.75px;top:504.00px;font-size:16.5px;color:#69707d;transform:scaleX(0.9388);transform-origin:1.25px 50%;">Fail</span>
<span class="t" style="left:1710.75px;top:534.00px;font-size:16.5px;color:#69707d;">0</span>
<span class="t" style="left:1701.50px;top:514.00px;font-size:16.5px;color:#69707d;">20</span>
<span class="t" style="left:1701.50px;top:493.00px;font-size:16.5px;color:#69707d;">40</span>
<span class="t" style="left:1701.50px;top:473.00px;font-size:16.5px;color:#69707d;">60</span>
<span class="t" style="left:1701.50px;top:452.00px;font-size:16.5px;color:#69707d;">80</span>
<span class="t" style="left:1692.50px;top:431.00px;font-size:16.5px;color:#69707d;">100</span>
<span class="t" style="left:1738.00px;top:547.00px;font-size:16.2px;color:#69707d;letter-spacing:0.218px;">00:00</span>
<span class="t" style="left:1910.50px;top:547.00px;font-size:16.2px;color:#69707d;letter-spacing:0.218px;">06:00</span>
<span class="t" style="left:2082.50px;top:547.00px;font-size:16.2px;color:#69707d;transform:scaleX(0.9686);transform-origin:1.00px 50%;">12:00</span>
<span class="t" style="left:2255.00px;top:547.00px;font-size:16.2px;color:#69707d;transform:scaleX(0.9686);transform-origin:1.00px 50%;">18:00</span>
<span class="t" style="left:1737.25px;top:562.00px;font-size:16.5px;color:#69707d;transform:scaleX(0.9606);transform-origin:1.25px 50%;">February 14, 2024</span>
<a class="t" style="left:39.75px;top:670.00px;font-size:28.5px;color:#006bb8;font-weight:700;transform:scaleX(0.9613);transform-origin:1.75px 50%;">Events</a>
<a class="t" style="left:165.00px;top:670.00px;font-size:28.5px;color:#1a1c21;font-weight:700;transform:scaleX(0.9389);transform-origin:0.50px 50%;">All users</a>
<a class="t" style="left:313.50px;top:670.00px;font-size:28.5px;color:#1a1c21;font-weight:700;transform:scaleX(0.9661);transform-origin:0.50px 50%;">Authentications</a>
<a class="t" style="left:557.00px;top:670.00px;font-size:28.5px;color:#1a1c21;font-weight:700;transform:scaleX(0.9474);transform-origin:0.50px 50%;">Anomalies</a>
<a class="t" style="left:728.00px;top:670.00px;font-size:28.5px;color:#1a1c21;font-weight:700;transform:scaleX(0.9400);transform-origin:1.50px 50%;">User risk</a>
<h2 class="t" style="left:105.50px;top:780.00px;font-size:68px;color:#1a1c21;font-weight:700;-webkit-text-stroke:0.5px #1a1c21;transform:scaleX(0.9722);transform-origin:4.50px 50%;">Events</h2>
<span class="t" style="left:59.75px;top:865.00px;font-size:19.5px;color:#69707d;transform:scaleX(0.9782);transform-origin:0.75px 50%;">Showing: 746,288 events</span>
<span class="t" style="left:2119.50px;top:803.00px;font-size:23.5px;color:#1a1c21;font-weight:700;transform:scaleX(0.9635);transform-origin:0.50px 50%;">Stack by</span>
<span class="t" style="left:2249.25px;top:803.00px;font-size:22.5px;color:#343741;letter-spacing:0.114px;">event.action</span>
<span class="t" style="left:128.75px;top:1090.00px;font-size:16.5px;color:#69707d;">0</span>
<span class="t" style="left:96.75px;top:1068.00px;font-size:16.5px;color:#69707d;">5,000</span>
<span class="t" style="left:87.50px;top:1047.00px;font-size:16.5px;color:#69707d;">10,000</span>
<span class="t" style="left:87.50px;top:1026.00px;font-size:16.5px;color:#69707d;">15,000</span>
<span class="t" style="left:87.50px;top:1005.00px;font-size:16.5px;color:#69707d;">20,000</span>
<span class="t" style="left:87.50px;top:984.00px;font-size:16.5px;color:#69707d;">25,000</span>
<span class="t" style="left:87.50px;top:962.00px;font-size:16.5px;color:#69707d;">30,000</span>
<span class="t" style="left:87.50px;top:941.00px;font-size:16.5px;color:#69707d;">35,000</span>
<span class="t" style="left:156.00px;top:1102.00px;font-size:16.2px;color:#69707d;letter-spacing:0.093px;">00:00</span>
<span class="t" style="left:236.28px;top:1102.00px;font-size:16.2px;color:#69707d;transform:scaleX(0.9438);transform-origin:0.50px 50%;">01:00</span>
<span class="t" style="left:316.56px;top:1102.00px;font-size:16.2px;color:#69707d;letter-spacing:0.093px;">02:00</span>
<span class="t" style="left:396.84px;top:1102.00px;font-size:16.2px;color:#69707d;letter-spacing:0.093px;">03:00</span>
<span class="t" style="left:477.12px;top:1102.00px;font-size:16.2px;color:#69707d;letter-spacing:0.093px;">04:00</span>
<span class="t" style="left:557.40px;top:1102.00px;font-size:16.2px;color:#69707d;letter-spacing:0.093px;">05:00</span>
<span class="t" style="left:637.68px;top:1102.00px;font-size:16.2px;color:#69707d;letter-spacing:0.093px;">06:00</span>
<span class="t" style="left:717.96px;top:1102.00px;font-size:16.2px;color:#69707d;letter-spacing:0.093px;">07:00</span>
<span class="t" style="left:798.24px;top:1102.00px;font-size:16.2px;color:#69707d;letter-spacing:0.093px;">08:00</span>
<span class="t" style="left:878.52px;top:1102.00px;font-size:16.2px;color:#69707d;letter-spacing:0.093px;">09:00</span>
<span class="t" style="left:958.30px;top:1102.00px;font-size:16.2px;color:#69707d;transform:scaleX(0.9558);transform-origin:1.00px 50%;">10:00</span>
<span class="t" style="left:1038.58px;top:1102.00px;font-size:16.2px;color:#69707d;transform:scaleX(0.9186);transform-origin:1.00px 50%;">11:00</span>
<span class="t" style="left:1118.86px;top:1102.00px;font-size:16.2px;color:#69707d;transform:scaleX(0.9558);transform-origin:1.00px 50%;">12:00</span>
<span class="t" style="left:1199.14px;top:1102.00px;font-size:16.2px;color:#69707d;transform:scaleX(0.9558);transform-origin:1.00px 50%;">13:00</span>
<span class="t" style="left:1279.42px;top:1102.00px;font-size:16.2px;color:#69707d;transform:scaleX(0.9558);transform-origin:1.00px 50%;">14:00</span>
<span class="t" style="left:1359.70px;top:1102.00px;font-size:16.2px;color:#69707d;transform:scaleX(0.9558);transform-origin:1.00px 50%;">15:00</span>
<span class="t" style="left:1439.98px;top:1102.00px;font-size:16.2px;color:#69707d;transform:scaleX(0.9558);transform-origin:1.00px 50%;">16:00</span>
<span class="t" style="left:1520.26px;top:1102.00px;font-size:16.2px;color:#69707d;transform:scaleX(0.9558);transform-origin:1.00px 50%;">17:00</span>
<span class="t" style="left:1600.54px;top:1102.00px;font-size:16.2px;color:#69707d;transform:scaleX(0.9558);transform-origin:1.00px 50%;">18:00</span>
<span class="t" style="left:1680.82px;top:1102.00px;font-size:16.2px;color:#69707d;transform:scaleX(0.9558);transform-origin:1.00px 50%;">19:00</span>
<span class="t" style="left:1761.35px;top:1102.00px;font-size:16.2px;color:#69707d;letter-spacing:0.155px;">20:00</span>
<span class="t" style="left:1841.63px;top:1102.00px;font-size:16.2px;color:#69707d;transform:scaleX(0.9498);transform-origin:0.75px 50%;">21:00</span>
<span class="t" style="left:1921.91px;top:1102.00px;font-size:16.2px;color:#69707d;letter-spacing:0.155px;">22:00</span>
<span class="t" style="left:2002.19px;top:1102.00px;font-size:16.2px;color:#69707d;letter-spacing:0.155px;">23:00</span>
<span class="t" style="left:155.75px;top:1117.00px;font-size:16.2px;color:#69707d;transform:scaleX(0.9744);transform-origin:1.25px 50%;">February 14, 2024</span>
<span class="t" style="left:2129.00px;top:953.00px;font-size:22.5px;color:#343741;letter-spacing:0.909px;">network_flow</span>
<span class="t" style="left:2129.75px;top:989.00px;font-size:22.5px;color:#343741;letter-spacing:0.934px;">connection_attempted</span>
<span class="t" style="left:2129.75px;top:1025.00px;font-size:22.5px;color:#343741;letter-spacing:0.861px;">disconnect_received</span>
<span class="t" style="left:2129.75px;top:1061.00px;font-size:22.5px;color:#343741;letter-spacing:1.071px;">creation</span>
<span class="t" style="left:2128.75px;top:1097.00px;font-size:22.5px;color:#343741;letter-spacing:0.562px;">File Delete archived (...</span>
<span class="t" style="left:2129.25px;top:1132.00px;font-size:22.5px;color:#343741;letter-spacing:0.750px;">rename</span>
<div style="position:absolute;left:2090px;top:1140px;width:330px;height:9px;background:linear-gradient(rgba(255,255,255,0),#fff);"></div><div style="position:absolute;left:2090px;top:1149px;width:330px;height:40px;background:#fff;"></div>
<span class="t" style="left:77.00px;top:1250.00px;font-size:23.2px;color:#343741;letter-spacing:0.449px;-webkit-text-stroke:0.3px #343741;">Columns</span>
<span class="t" style="left:190.45px;top:1250.00px;font-size:23.5px;color:#000;letter-spacing:2.500px;-webkit-text-stroke:0.35px #000;">10</span>
<span class="t" style="left:282.00px;top:1250.00px;font-size:23.2px;color:#343741;letter-spacing:0.697px;-webkit-text-stroke:0.3px #343741;">Sort fields</span>
<span class="t" style="left:412.25px;top:1250.00px;font-size:23.5px;color:#000;-webkit-text-stroke:0.35px #000;">1</span>
<span class="t" style="left:445.75px;top:1254.00px;font-size:19.5px;color:#343741;font-weight:700;letter-spacing:-0.135px;">746,288 events</span>
<span class="t" style="left:657.25px;top:1250.00px;font-size:23.2px;color:#343741;letter-spacing:0.376px;-webkit-text-stroke:0.3px #343741;">Fields</span>
<span class="t" style="left:2117.50px;top:1249.00px;font-size:23px;color:#343741;transform:scaleX(0.9716);transform-origin:1.00px 50%;">Show only external alerts</span>
<span class="t" style="left:92.10px;top:1299.00px;font-size:23.4px;color:#343741;font-weight:700;letter-spacing:-0.115px;">Actions</span>
<span class="t" style="left:319.75px;top:1299.00px;font-size:23.2px;color:#343741;font-weight:700;letter-spacing:0.283px;">@timestamp</span>
<span class="t" style="left:604.00px;top:1299.00px;font-size:23.2px;color:#343741;font-weight:700;letter-spacing:0.243px;">message</span>
<span class="t" style="left:811.70px;top:1299.00px;font-size:23.2px;color:#343741;font-weight:700;letter-spacing:0.256px;">host.name</span>
<span class="t" style="left:1019.95px;top:1299.00px;font-size:23.2px;color:#343741;font-weight:700;letter-spacing:0.129px;">event.module</span>
<span class="t" style="left:1227.70px;top:1299.00px;font-size:23.2px;color:#343741;font-weight:700;letter-spacing:0.405px;">agent.type</span>
<span class="t" style="left:1434.95px;top:1299.00px;font-size:23.2px;color:#343741;font-weight:700;letter-spacing:0.376px;">event.dataset</span>
<span class="t" style="left:1642.25px;top:1299.00px;font-size:23.2px;color:#343741;font-weight:700;letter-spacing:0.276px;">event.action</span>
<span class="t" style="left:1849.25px;top:1299.00px;font-size:23.2px;color:#343741;font-weight:700;letter-spacing:0.218px;">user.name</span>
<span class="t" style="left:2057.25px;top:1299.00px;font-size:23.2px;color:#343741;font-weight:700;">source.ip</span>
<span class="t" style="left:2264.75px;top:1299.00px;font-size:23.2px;color:#343741;font-weight:700;letter-spacing:0.140px;">destination.ip</span>
<span class="t" style="left:319.55px;top:1351.00px;font-size:23.2px;color:#343741;letter-spacing:0.592px;">Feb 14, 2024 @ 15:18...</span>
<span class="t" style="left:1020.20px;top:1349.00px;font-size:23px;color:#343741;letter-spacing:0.840px;">system</span>
<span class="t" style="left:1227.45px;top:1349.00px;font-size:23px;color:#343741;letter-spacing:0.769px;">auditbeat</span>
<span class="t" style="left:1435.20px;top:1349.00px;font-size:23px;color:#343741;letter-spacing:0.750px;">socket</span>
<span class="t" style="left:1641.50px;top:1349.00px;font-size:23px;color:#343741;letter-spacing:0.591px;">network_flow</span>
<a class="t" style="left:1849.00px;top:1349.00px;font-size:23px;color:#006bb8;letter-spacing:1.500px;">root</a>
<span class="t" style="left:319.55px;top:1399.00px;font-size:23.2px;color:#343741;letter-spacing:0.592px;">Feb 14, 2024 @ 15:18...</span>
<span class="t" style="left:1020.20px;top:1397.00px;font-size:23px;color:#343741;letter-spacing:0.840px;">system</span>
<span class="t" style="left:1227.45px;top:1397.00px;font-size:23px;color:#343741;letter-spacing:0.769px;">auditbeat</span>
<span class="t" style="left:1435.20px;top:1397.00px;font-size:23px;color:#343741;letter-spacing:0.750px;">socket</span>
<span class="t" style="left:1641.50px;top:1397.00px;font-size:23px;color:#343741;letter-spacing:0.591px;">network_flow</span>
<a class="t" style="left:1849.00px;top:1397.00px;font-size:23px;color:#006bb8;letter-spacing:1.500px;">root</a>
<span class="t" style="left:319.55px;top:1447.00px;font-size:23.2px;color:#343741;letter-spacing:0.592px;">Feb 14, 2024 @ 15:18...</span>
<span class="t" style="left:1020.20px;top:1445.00px;font-size:23px;color:#343741;letter-spacing:0.840px;">system</span>
<span class="t" style="left:1227.45px;top:1445.00px;font-size:23px;color:#343741;letter-spacing:0.769px;">auditbeat</span>
<span class="t" style="left:1435.20px;top:1445.00px;font-size:23px;color:#343741;letter-spacing:0.750px;">socket</span>
<span class="t" style="left:1641.50px;top:1445.00px;font-size:23px;color:#343741;letter-spacing:0.591px;">network_flow</span>
<a class="t" style="left:1849.00px;top:1445.00px;font-size:23px;color:#006bb8;letter-spacing:1.500px;">root</a>
<span class="t" style="left:319.55px;top:1495.00px;font-size:23.2px;color:#343741;letter-spacing:0.592px;">Feb 14, 2024 @ 15:18...</span>
<span class="t" style="left:1020.20px;top:1493.00px;font-size:23px;color:#343741;letter-spacing:0.840px;">system</span>
<span class="t" style="left:1227.45px;top:1493.00px;font-size:23px;color:#343741;letter-spacing:0.769px;">auditbeat</span>
<span class="t" style="left:1435.20px;top:1493.00px;font-size:23px;color:#343741;letter-spacing:0.750px;">socket</span>
<span class="t" style="left:1641.50px;top:1493.00px;font-size:23px;color:#343741;letter-spacing:0.591px;">network_flow</span>
<a class="t" style="left:1849.00px;top:1493.00px;font-size:23px;color:#006bb8;letter-spacing:1.500px;">root</a>
<span class="t" style="left:319.55px;top:1543.00px;font-size:23.2px;color:#343741;letter-spacing:0.592px;">Feb 14, 2024 @ 15:18...</span>
<span class="t" style="left:1020.20px;top:1541.00px;font-size:23px;color:#343741;letter-spacing:0.840px;">system</span>
<span class="t" style="left:1227.45px;top:1541.00px;font-size:23px;color:#343741;letter-spacing:0.769px;">auditbeat</span>
<span class="t" style="left:1435.20px;top:1541.00px;font-size:23px;color:#343741;letter-spacing:0.750px;">socket</span>
<span class="t" style="left:1641.50px;top:1541.00px;font-size:23px;color:#343741;letter-spacing:0.591px;">network_flow</span>
<a class="t" style="left:1849.00px;top:1541.00px;font-size:23px;color:#006bb8;letter-spacing:1.500px;">root</a>
<span class="t" style="left:319.55px;top:1591.00px;font-size:23.2px;color:#343741;letter-spacing:0.592px;">Feb 14, 2024 @ 15:18...</span>
<span class="t" style="left:1019.95px;top:1589.00px;font-size:23px;color:#343741;letter-spacing:1.850px;">auditd</span>
<span class="t" style="left:1227.45px;top:1589.00px;font-size:23px;color:#343741;letter-spacing:0.769px;">auditbeat</span>
<span class="t" style="left:1642.25px;top:1589.00px;font-size:23px;color:#343741;letter-spacing:0.875px;">opened-file</span>
<a class="t" style="left:1849.00px;top:1589.00px;font-size:23px;color:#006bb8;letter-spacing:1.500px;">root</a>
<span class="t" style="left:319.55px;top:1639.00px;font-size:23.2px;color:#343741;letter-spacing:0.592px;">Feb 14, 2024 @ 15:18...</span>
<span class="t" style="left:1020.20px;top:1637.00px;font-size:23px;color:#343741;letter-spacing:0.840px;">system</span>
<span class="t" style="left:1227.45px;top:1637.00px;font-size:23px;color:#343741;letter-spacing:0.769px;">auditbeat</span>
<span class="t" style="left:1435.20px;top:1637.00px;font-size:23px;color:#343741;letter-spacing:0.750px;">socket</span>
<span class="t" style="left:1641.50px;top:1637.00px;font-size:23px;color:#343741;letter-spacing:0.591px;">network_flow</span>
<a class="t" style="left:1849.00px;top:1637.00px;font-size:23px;color:#006bb8;letter-spacing:1.500px;">root</a>
<span class="t" style="left:319.55px;top:1687.00px;font-size:23.2px;color:#343741;letter-spacing:0.592px;">Feb 14, 2024 @ 15:18...</span>
<span class="t" style="left:1020.20px;top:1685.00px;font-size:23px;color:#343741;letter-spacing:0.840px;">system</span>
<span class="t" style="left:1227.45px;top:1685.00px;font-size:23px;color:#343741;letter-spacing:0.769px;">auditbeat</span>
<span class="t" style="left:1435.20px;top:1685.00px;font-size:23px;color:#343741;letter-spacing:0.750px;">socket</span>
<span class="t" style="left:1641.50px;top:1685.00px;font-size:23px;color:#343741;letter-spacing:0.591px;">network_flow</span>
<a class="t" style="left:1849.00px;top:1685.00px;font-size:23px;color:#006bb8;letter-spacing:1.500px;">root</a>
<span class="t" style="left:319.55px;top:1735.00px;font-size:23.2px;color:#343741;letter-spacing:0.592px;">Feb 14, 2024 @ 15:18...</span>
<span class="t" style="left:1020.20px;top:1733.00px;font-size:23px;color:#343741;letter-spacing:0.840px;">system</span>
<span class="t" style="left:1227.45px;top:1733.00px;font-size:23px;color:#343741;letter-spacing:0.769px;">auditbeat</span>
<span class="t" style="left:1435.20px;top:1733.00px;font-size:23px;color:#343741;letter-spacing:0.750px;">socket</span>
<span class="t" style="left:1641.50px;top:1733.00px;font-size:23px;color:#343741;letter-spacing:0.591px;">network_flow</span>
<a class="t" style="left:1849.00px;top:1733.00px;font-size:23px;color:#006bb8;letter-spacing:1.500px;">root</a>
<span class="t" style="left:319.55px;top:1783.00px;font-size:23.2px;color:#343741;letter-spacing:0.592px;">Feb 14, 2024 @ 15:18...</span>
<span class="t" style="left:1020.20px;top:1781.00px;font-size:23px;color:#343741;letter-spacing:0.840px;">system</span>
<span class="t" style="left:1227.45px;top:1781.00px;font-size:23px;color:#343741;letter-spacing:0.769px;">auditbeat</span>
<span class="t" style="left:1435.20px;top:1781.00px;font-size:23px;color:#343741;letter-spacing:0.750px;">socket</span>
<span class="t" style="left:1641.50px;top:1781.00px;font-size:23px;color:#343741;letter-spacing:0.591px;">network_flow</span>
<a class="t" style="left:1849.00px;top:1781.00px;font-size:23px;color:#006bb8;letter-spacing:1.500px;">root</a>
<span class="t" style="left:319.55px;top:1831.00px;font-size:23.2px;color:#343741;letter-spacing:0.592px;">Feb 14, 2024 @ 15:18...</span>
<span class="t" style="left:1020.20px;top:1829.00px;font-size:23px;color:#343741;letter-spacing:0.840px;">system</span>
<span class="t" style="left:1227.45px;top:1829.00px;font-size:23px;color:#343741;letter-spacing:0.769px;">auditbeat</span>
<span class="t" style="left:1435.20px;top:1829.00px;font-size:23px;color:#343741;letter-spacing:0.750px;">socket</span>
<span class="t" style="left:1641.50px;top:1829.00px;font-size:23px;color:#343741;letter-spacing:0.591px;">network_flow</span>
<a class="t" style="left:1849.00px;top:1829.00px;font-size:23px;color:#006bb8;letter-spacing:1.500px;">root</a>
<span class="t" style="left:319.55px;top:1879.00px;font-size:23.2px;color:#343741;letter-spacing:0.592px;">Feb 14, 2024 @ 15:18...</span>
<span class="t" style="left:1020.20px;top:1877.00px;font-size:23px;color:#343741;letter-spacing:0.840px;">system</span>
<span class="t" style="left:1227.45px;top:1877.00px;font-size:23px;color:#343741;letter-spacing:0.769px;">auditbeat</span>
<span class="t" style="left:1435.20px;top:1877.00px;font-size:23px;color:#343741;letter-spacing:0.750px;">socket</span>
<span class="t" style="left:1641.50px;top:1877.00px;font-size:23px;color:#343741;letter-spacing:0.591px;">network_flow</span>
<a class="t" style="left:1849.00px;top:1877.00px;font-size:23px;color:#006bb8;letter-spacing:1.500px;">root</a>
<span class="t" style="left:319.55px;top:1927.00px;font-size:23.2px;color:#343741;letter-spacing:0.592px;">Feb 14, 2024 @ 15:18...</span>
<span class="t" style="left:603.65px;top:1925.00px;font-size:23px;color:#343741;letter-spacing:0.606px;">Endpoint netwo...</span>
<span class="t" style="left:1019.95px;top:1925.00px;font-size:23px;color:#343741;letter-spacing:0.807px;">endpoint</span>
<span class="t" style="left:1227.45px;top:1925.00px;font-size:23px;color:#343741;letter-spacing:0.807px;">endpoint</span>
<span class="t" style="left:1434.95px;top:1925.00px;font-size:23px;color:#343741;letter-spacing:0.525px;">endpoint.event...</span>
<span class="t" style="left:1642.25px;top:1925.00px;font-size:23px;color:#343741;letter-spacing:0.503px;">connection_att...</span>
<a class="t" style="left:1849.00px;top:1925.00px;font-size:23px;color:#006bb8;letter-spacing:1.500px;">root</a>
<span class="t" style="left:319.55px;top:1975.00px;font-size:23.2px;color:#343741;letter-spacing:0.592px;">Feb 14, 2024 @ 15:18...</span>
<span class="t" style="left:603.65px;top:1973.00px;font-size:23px;color:#343741;letter-spacing:0.606px;">Endpoint netwo...</span>
<span class="t" style="left:1019.95px;top:1973.00px;font-size:23px;color:#343741;letter-spacing:0.807px;">endpoint</span>
<span class="t" style="left:1227.45px;top:1973.00px;font-size:23px;color:#343741;letter-spacing:0.807px;">endpoint</span>
<span class="t" style="left:1434.95px;top:1973.00px;font-size:23px;color:#343741;letter-spacing:0.525px;">endpoint.event...</span>
<span class="t" style="left:1642.25px;top:1973.00px;font-size:23px;color:#343741;letter-spacing:0.503px;">connection_att...</span>
<a class="t" style="left:1849.00px;top:1973.00px;font-size:23px;color:#006bb8;letter-spacing:1.500px;">root</a>
<span class="t" style="left:319.55px;top:2023.00px;font-size:23.2px;color:#343741;letter-spacing:0.592px;">Feb 14, 2024 @ 15:18...</span>
<span class="t" style="left:603.65px;top:2021.00px;font-size:23px;color:#343741;letter-spacing:0.606px;">Endpoint netwo...</span>
<span class="t" style="left:1019.95px;top:2021.00px;font-size:23px;color:#343741;letter-spacing:0.807px;">endpoint</span>
<span class="t" style="left:1227.45px;top:2021.00px;font-size:23px;color:#343741;letter-spacing:0.807px;">endpoint</span>
<span class="t" style="left:1434.95px;top:2021.00px;font-size:23px;color:#343741;letter-spacing:0.525px;">endpoint.event...</span>
<span class="t" style="left:1642.25px;top:2021.00px;font-size:23px;color:#343741;letter-spacing:0.478px;">disconnect_rec...</span>
<a class="t" style="left:1849.00px;top:2021.00px;font-size:23px;color:#006bb8;letter-spacing:1.500px;">root</a>
<span class="t" style="left:319.55px;top:2071.00px;font-size:23.2px;color:#343741;letter-spacing:0.592px;">Feb 14, 2024 @ 15:18...</span>
<span class="t" style="left:1020.20px;top:2069.00px;font-size:23px;color:#343741;letter-spacing:0.840px;">system</span>
<span class="t" style="left:1227.45px;top:2069.00px;font-size:23px;color:#343741;letter-spacing:0.769px;">auditbeat</span>
<span class="t" style="left:1435.20px;top:2069.00px;font-size:23px;color:#343741;letter-spacing:0.750px;">socket</span>
<span class="t" style="left:1641.50px;top:2069.00px;font-size:23px;color:#343741;letter-spacing:0.591px;">network_flow</span>
<a class="t" style="left:1849.00px;top:2069.00px;font-size:23px;color:#006bb8;letter-spacing:1.500px;">root</a>
<span class="t" style="left:319.55px;top:2119.00px;font-size:23.2px;color:#343741;letter-spacing:0.592px;">Feb 14, 2024 @ 15:18...</span>
<span class="t" style="left:1020.20px;top:2117.00px;font-size:23px;color:#343741;letter-spacing:0.840px;">system</span>
<span class="t" style="left:1227.45px;top:2117.00px;font-size:23px;color:#343741;letter-spacing:0.769px;">auditbeat</span>
<span class="t" style="left:1435.20px;top:2117.00px;font-size:23px;color:#343741;letter-spacing:0.750px;">socket</span>
<span class="t" style="left:1641.50px;top:2117.00px;font-size:23px;color:#343741;letter-spacing:0.591px;">network_flow</span>
<a class="t" style="left:1849.00px;top:2117.00px;font-size:23px;color:#006bb8;letter-spacing:1.500px;">root</a>
<span class="t" style="left:319.55px;top:2167.00px;font-size:23.2px;color:#343741;letter-spacing:0.592px;">Feb 14, 2024 @ 15:18...</span>
<span class="t" style="left:1020.20px;top:2165.00px;font-size:23px;color:#343741;letter-spacing:0.840px;">system</span>
<span class="t" style="left:1227.45px;top:2165.00px;font-size:23px;color:#343741;letter-spacing:0.769px;">auditbeat</span>
<span class="t" style="left:1435.20px;top:2165.00px;font-size:23px;color:#343741;letter-spacing:0.750px;">socket</span>
<span class="t" style="left:1641.50px;top:2165.00px;font-size:23px;color:#343741;letter-spacing:0.591px;">network_flow</span>
<a class="t" style="left:1849.00px;top:2165.00px;font-size:23px;color:#006bb8;letter-spacing:1.500px;">root</a>
</div>
<div id="frame"></div><div id="notch"></div>
</body></html>
